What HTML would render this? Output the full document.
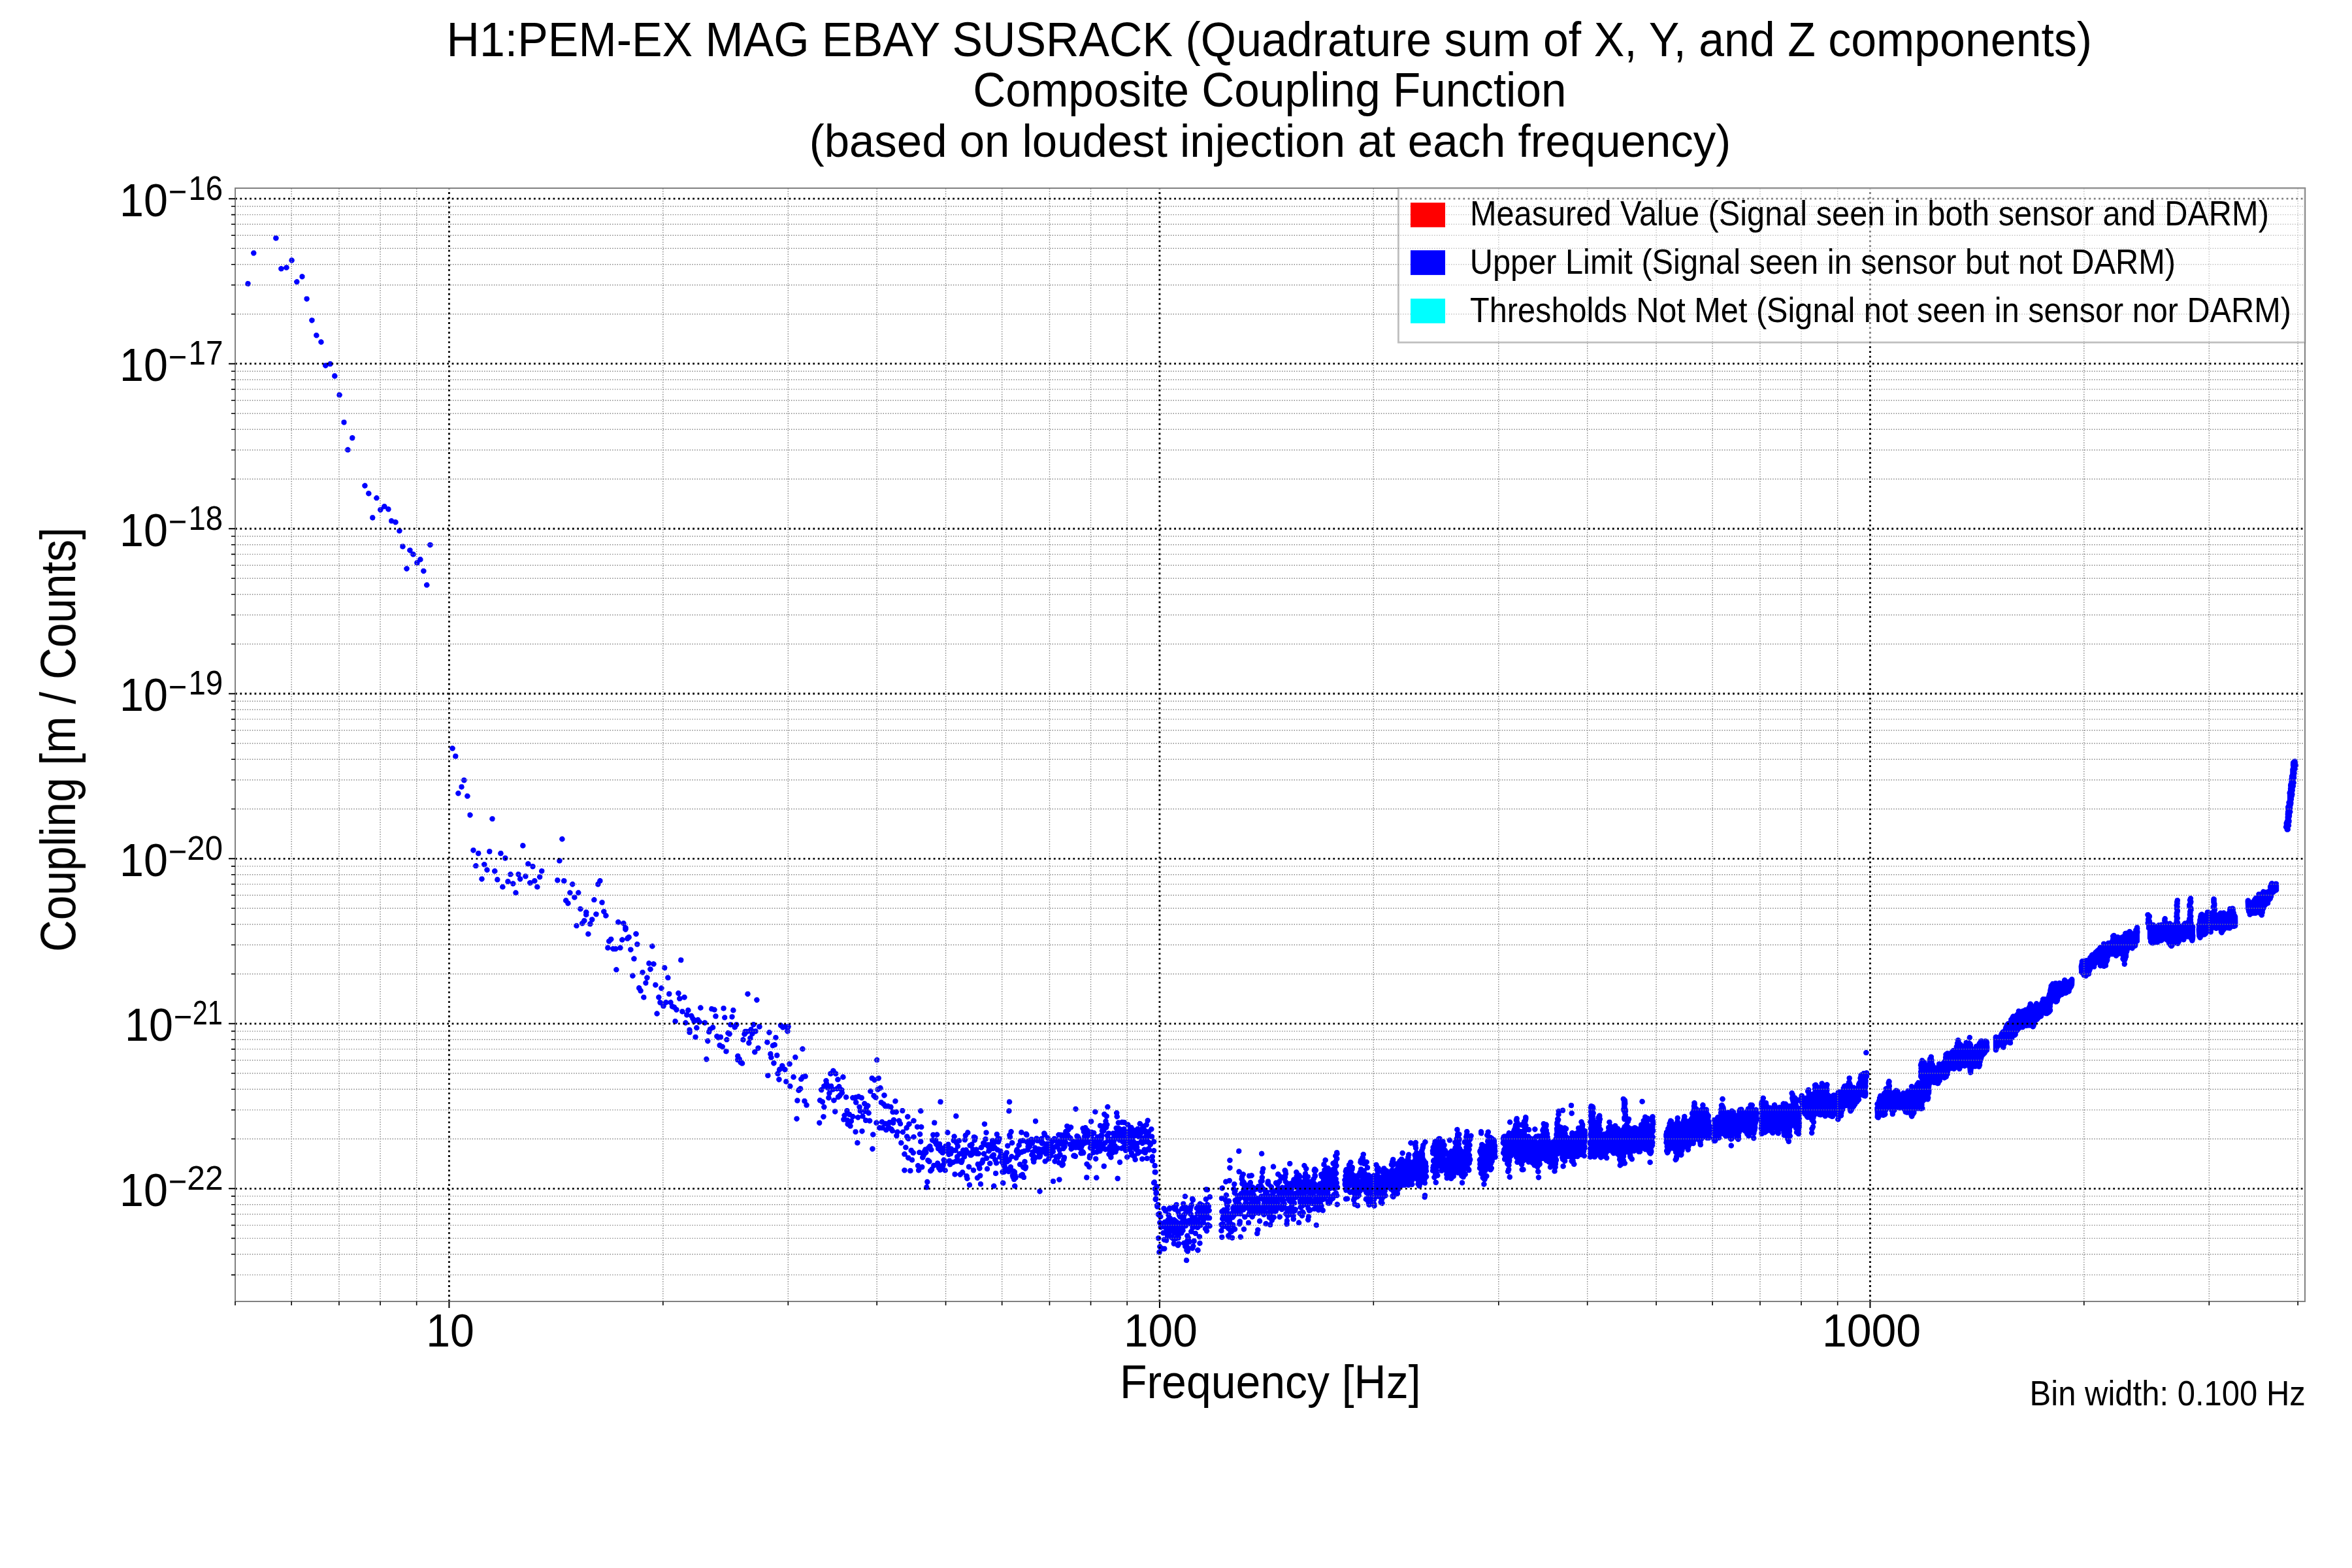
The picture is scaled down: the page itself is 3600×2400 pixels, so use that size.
<!DOCTYPE html><html><head><meta charset="utf-8"><title>Composite Coupling Function</title><style>html,body{margin:0;padding:0;background:#fff;}svg{display:block;}</style></head><body><svg width="3600" height="2400" viewBox="0 0 3600 2400" font-family="Liberation Sans, Arial, Helvetica, sans-serif">
<rect width="3600" height="2400" fill="#fff"/>
<g style="will-change:transform">
<defs><clipPath id="ax"><rect x="360.0" y="288.0" width="3168.0" height="1704.0"/></clipPath></defs>
<g clip-path="url(#ax)"><path d="M1815.2 1924.8l-1.4 0.4l-1.3 1.3l-0.7 3.3l0.7 1.7l1.3 1.3l3.2 0.4l1.2 -0.4l1.6 -1.6l0.4 -1.2l0 -2.2l-2 -2.6zM1774 1904l-2.2 1.8l-0.8 2l0.5 2.4l2.3 2l-1.8 0.8l-1 1l-0.8 1.8l0 1.4l0.6 1.6l1.4 1.4l1 0.6l2.6 0l1.4 -0.8l1.3 -1.5l0.3 -3.5l1 0.5l3.2 0l1.8 -0.7l1.4 -2l0.3 -2l-0.7 -2l-1.8 -1.6l-4.2 0l-2.3 -2.7l-1 -0.5zM1776 1912.5l0.8 -0.3l0.2 0.6l-0.2 0.2zM1835.2 1898.8l-2.7 2.2l-0.3 3l1.6 2.2l1.2 0.8l1.8 0.2l2.7 -1.2l0.7 -1l0.6 -2.5l-1.3 -2.7l-1.7 -1zM1771.8 1891l-2.6 2l-0.4 3l1.7 2.8l2.3 0.7l1.7 -0.3l2 -1.4l0.7 -1.6l0 -2l-1.4 -2.4l-1.8 -0.8zM1868.2 1889.8l-2 2l0 3.7l1.3 1.5l2.7 1l2.8 -1l1.5 -2.8l-0.5 -2.7l-1 -1.3l-1.5 -0.7zM1898 1889l-1.8 0.8l-1 1l-0.7 3l0.7 2l1 1l1.6 0.7l2.2 0l2.2 -1.5l0.8 -1.5l0 -2.5l-2 -2.5zM1926 1878.2l-2.2 0.3l-2 1.5l-0.8 2l0.5 2.8l-1 1l-0.5 1.4l0 1.6l1 2l0.8 0.7l2.2 0.7l2.8 -0.7l1.4 -1.7l0.3 -3l-0.5 -1l1.5 -2l0 -2.6l-0.5 -1l-1.2 -1.2zM1902.8 1877.2l-2.8 2.3l-0.2 3.3l1.4 2l1.3 0.7l1.7 0.3l2.8 -1.3l1 -1.7l0.2 -1.6l-0.4 -1.7l-1.6 -1.7l-1 -0.6zM2014 1871l-2 1l-1.2 1.8l0 3l2 2.2l3 0.5l2.7 -1.7l0.5 -1.3l0 -2.5l-2 -2.5zM1909.8 1867.5l-1.6 0.7l-1.2 1.8l0 3.2l1.2 1.8l1.6 0.8l2.7 0l2.5 -2.3l0.2 -3l-1.7 -2.5l-1 -0.5zM1986.8 1867.2l-2.3 1.8l-0.7 3l0.7 2l1 1l3.3 0.8l1.7 -0.8l1.3 -1.2l0.4 -1l0 -2.6l-2 -2.4l-1 -0.6zM1896.5 1865.5l-2.5 2l-0.5 1.3l0.3 2.4l-0.6 0.8l0 2.5l0.6 1.3l1.4 1.2l1.3 0.5l2 0l2 -1.3l1 -1.4l0.5 -6l-0.5 -1.3l-1.5 -1.5l-1.2 -0.5zM1927 1864.8l-2.5 1.7l-0.7 3l0.7 2l1 1l1.7 0.7l1.6 0l1.4 -0.4l1.6 -1.6l0.4 -1l0 -2.4l-2 -2.6l-1 -0.4zM1957.2 1858.5l-2 1.5l-0.7 3.2l0.7 1.8l1.3 1.2l1 0.6l2.5 0l2.5 -2l0.5 -1l0 -2.6l-0.8 -1.2l-2 -1.5zM2002 1858l-1.2 0.5l-1.8 2.3l-0.2 2l0.4 1.2l-1.2 1.8l0 2.4l2 2.6l1 0.4l2.2 0l1.6 -0.7l1.4 -2l0.3 -2l-0.5 -1.3l1.2 -2l0 -2.2l-2 -2.5l-1 -0.5zM1773.2 1853.5l-3.7 2.7l-0.7 1.3l0 2.5l2.2 2.8l1.2 0.4l0.6 1.6l1 1l1.7 0.7l3 -0.5l2 -2.5l0 -2.5l-1.7 -2.2l-0.3 -3l-1.3 -1.6l-1.4 -0.7zM2046 1839.2l-1.5 0.6l-1.5 1.4l-0.5 3.3l0.5 1.3l1.5 1.4l1.3 0.6l2 0l2.7 -2l0.5 -3l-0.5 -1.6l-1.3 -1.2l-1.7 -0.8zM2064 1830.8l-4.5 0l-2.7 1.4l-0.8 1.3l-0.2 2l0.7 2l1 1l1.5 0.7l2.2 0l3 -0.7l1.6 -1.3l0.7 -2.2l-0.3 -1.8zM1855.5 1829.5l-2.7 -1.7l-2.6 0.2l-2 1.8l-0.7 1.7l-2.7 -0.3l-2.6 1.8l-0.7 2l0.7 3l1 1l2.8 1l-1 0.5l-1 1.5l-4 -2l-1.8 -1.5l-2.7 0l-2.3 1.7l-0.4 1.6l-1.8 1.2l-1 2.5l-1.5 1l-1 2.3l0.5 2.7l2.5 2l-2 2.7l0.3 3.8l-1.8 0l0 -2.8l-2.2 -2.4l1 -1.6l0 -2.7l0.7 -1l0.3 -2l1.2 -2l-0.2 -2.7l-1.3 -1.6l3 -2l0.7 -3l-1.4 -3.4l-1.6 -1.6l-1.2 -0.4l-3.2 0.4l-1.8 2.3l0 3l1.2 2.5l1 1l-1.7 0.8l-1.3 1.2l-0.7 2.8l-0.7 0.7l-3.3 -1.7l-0.3 -3l-1.4 -1.8l-1 -0.5l-2.8 0l-1.5 0.7l-1.3 1.8l-0.2 2.2l1.2 2.6l-1.7 0.7l-1 1l-1 3l-1 -0.3l0 -2l-0.5 -0.7l1.8 -2l0 -3l-1.3 -1.7l-2 -1l-3 0.4l-1.5 1.6l-0.8 2.2l-1.2 0l-2.2 1.8l-1.8 -0.8l-1.5 0l-1.7 0.8l-1.3 1.2l-0.7 2l-0.6 -1.5l-1.4 -1.5l-3 -0.5l-1.8 0.7l-1.2 1.3l-0.6 1.5l0.3 2.5l2.3 2.5l0.4 1.8l1 1l3.3 1l-0.3 3l1.8 2.4l-1.2 1l-1.3 2l-2.7 0.6l-2 2.2l-2.3 -1.8l-2.5 0l-1 0.6l-1.2 1.2l-0.8 2l0.8 3l1.7 1.2l-1 2.8l0.7 2.8l2.6 1.7l2.2 0l1.5 -1l0.7 0l1.6 1l-0.6 0.5l-2 0l-1 0.5l-1.7 2l-0.3 2.3l1 2.2l0.8 0.8l2.2 0.7l2.3 -0.5l0.7 2l-0.2 0.5l-2 -0.3l-1.2 0.6l-1.6 1.4l-0.4 1.3l0 2.3l0.4 1l2.6 2l1.7 0l2.3 1l2 -0.3l1 -0.5l1.4 -2l0 -4l5 4l-1 1l-0.7 1.8l0.5 3l2.5 2l3.3 -0.3l1 1.5l2 1.2l2.4 0l1 -0.4l1.3 -1.3l2 -3.7l1.7 1.7l-0.2 2l0.5 1.5l2 1.8l-0.3 3l0.6 1l2.7 3l1 0.4l2.7 0l1 -0.4l1.6 -1.8l0.4 -3.2l2 1l1.6 0l1.4 -0.6l1.8 -2l0.2 2.6l2 2.4l1 0.6l2.3 0l1.5 -0.8l1.2 -1.2l0.6 -1.6l-0.3 -2.2l-1.5 -2l-1.8 -0.8l-1.7 0l-1.3 0.6l-1.7 2l-0.3 -1.3l1.3 -2l0 -2.3l-1.7 -2.4l2 -1.3l1 -1.7l-0.3 -3.3l-2 -2l-3 -0.3l-3.3 2.6l-0.4 -0.6l0.4 -1.2l0 -2.2l-1.7 -2.6l-0.3 -1.7l-1 -1l0.6 -0.3l1.7 1l1.7 0l1 -0.4l0.8 1.2l2.5 2l3 -0.2l0.5 3l1.5 1.7l2 0.7l2 -0.2l1 -0.5l1.5 -2l0.2 -2.5l-0.4 -1.2l-2.8 -2l-2.2 0l-0.8 0.4l-0.2 -3l-1.6 -2l-1.7 -0.7l-2.7 0.5l-0.6 -1l1.6 -1.2l1.4 0.2l1.8 1l2.2 0l2.6 -2l0.7 -1.5l2 -0.3l1.7 -1.4l0.3 0.4l-0.7 1.6l0 1.4l0.4 1.6l1.6 1.4l0.7 2.3l2.3 1.7l2.4 0l1 -0.4l2 -2.6l0 -2.4l-1.4 -2l3.4 -0.3l2 -1.7l0.6 -1.3l-0.6 -3.3l-5 -3.7l-2.4 0l-1.6 1l-0.7 -2.5l1 -1l1.7 0.5l4.8 -0.3l1.5 -1.2l0.7 -1.5l0 -2.5l-0.4 -1l-1.6 -1.5l-2 -0.5l-0.7 -2.2l0.5 -0.8l2.5 -0.8l1.5 -2.7l-0.2 -2.3l-1.8 -2l1 -1.4l0 -2.8l-3 -4.2l-3 -1.6l1.2 -1l1 -2.2l2.8 0.2l2.5 -1.7l0.7 -2zM1823.5 1903.8l0.3 0.2l-1 1l-1 2.8l-2.3 -2.6l2.7 -0.4zM1825.2 1903l-1.2 1l-0.5 -0.2l1 -1.3zM1801.8 1899.8l0.2 0.2l-1.5 1.5l-1 -1.3zM1797.5 1892l0.3 -0.5l0.7 0.3l-0.7 0.4zM1793 1888.8l0.2 -0.3l0.6 0.5l-0.6 0.2zM1821.5 1877l-0.3 3l0.6 1l-1.3 0.8l-1.3 1.7l-0.2 1.7l0.8 2.3l-4.3 0l-2.3 2.5l0 3l1 1.5l-0.2 2.5l-1.2 1.5l-2.6 0.3l-2.2 2.7l-1.2 -1.3l-1.8 -0.7l-3 0.5l-0.2 -0.2l1.4 -1l1.8 0l1 -0.6l1.5 -1.4l0.5 -1l0 -2.3l-1 -1.7l3 -0.6l2 -1.7l0.5 -2.3l1.7 -1.7l0.6 -1.7l-0.3 -1.8l-0.7 -1.2l3.2 -0.8l1.5 -1.5l0.7 -2zM1844.5 1874.8l0.5 1.2l-2.5 1l-1 1l-0.3 -0.5l0.6 -1.7zM1837.5 1868.8l0.5 -0.3l0.2 0.5l-0.4 0.2zM1832.5 1862l0.7 -0.2l0.3 0.7l-0.5 0.5zM1817 1858.8l4.2 4.2l-0.7 1.2l-2 0l-2.3 1.3l-0.4 -0.5l0 -2.8l1 -1.7zM1811.2 1853.8l0.3 1.2l-1.5 0.8l-1.5 2l-1.3 -1.6l0.3 -2zM1787.8 1854.5l2.7 0.3l1.5 -0.6l1.8 -2l2.2 2.3l1.8 0.5l1 -0.2l1 2.4l1.4 1.3l-0.4 1.5l0.2 1.5l1.8 3.3l1.7 1.7l2 0.3l0.3 0.4l-1.6 1.3l-6.7 -5.5l-1.5 -0.2l-2 0.7l-0.8 -1.5l-1.7 -1.5l0.3 -1.3l-1 -2.4l-2 -1.3l-2 0zM1812.2 1827.2l-2 1.8l-0.4 1l0 2.8l2.2 2.4l3.8 0l2.2 -2.4l0 -3l-2 -2.3l-1.5 -0.5zM2181.5 1825.5l-2 0.3l-1.7 1.2l-0.8 1.2l-0.5 2.8l0 2.2l0.7 1.6l1 1l2 0.7l2 -0.3l1.8 -1.2l1.2 -4l0 -2.2l-0.7 -1.6l-1 -1zM1589.5 1819.5l-2 2l0 3.7l2.3 2.3l2 0.3l1.7 -0.6l2 -2.2l0.3 -2l-0.8 -2l-2.5 -1.8zM1843 1817.8l-1 2l0 1.7l1.5 2.5l1.5 0.8l3.5 0.4l2 -0.7l1.5 -1.7l0.2 -2.8l-0.4 -1.2l-1.6 -1.6l-2.7 -0.7l-2.5 0zM1869.2 1814.5l-2 1.5l-0.7 1.8l0 1.4l0.5 1.6l1.5 1.4l1 0.6l2.5 0l2.5 -2l0.5 -1l0 -2.3l-0.5 -1.3l-1.3 -1.2l-1.7 -0.8zM1552 1811.2l-2.5 2l-0.5 1.3l0 2l1.8 2.5l2.2 0.8l1.8 -0.3l2.2 -2l0.5 -1l0 -2l-1.5 -2.5l-1.8 -0.8zM1520 1811.2l-2.5 2l-0.5 1.3l0 2l1.8 2.5l2.2 0.8l1.8 -0.3l2.2 -2l0.5 -1l0 -2l-1.5 -2.5l-1.8 -0.8zM1482.8 1809.5l-2.8 2.3l-0.2 3l1.4 2.2l1.3 0.8l1.7 0.2l2.8 -1.2l0.8 -1l0.4 -2.6l-1.2 -2.7l-1.8 -1zM1499.5 1808.2l-1.3 0.8l-1.2 1.8l-0.2 2l0.4 1.7l2.6 2l2.7 0l2.5 -2.3l0 -3.7l-2.5 -2.3zM1534.2 1806.5l-1.2 0.5l-1.5 1.5l-0.5 1.3l0 2l2 2.7l3 0.5l1.8 -0.8l1 -1l0.7 -1.7l0 -1.7l-0.5 -1.3l-2 -1.7zM2236.5 1806.2l-1.3 0.8l-1.2 1.8l0 3.2l1.8 2l1 0.5l2.7 0l2.5 -2.3l0 -3.7l-2.5 -2.3zM1765.8 1805.2l-3 2.3l-1 2.7l0.2 1.6l1.2 1.7l1 0.7l2.6 0.6l-0.3 0.7l-2.3 1.7l-0.7 3l1 2.3l1.5 1l-0.8 2.3l0.3 2.2l0.5 1l2 1.5l-2.5 2l-1 2.3l0 2.2l2.3 2.8l3.2 0.4l-3 3.8l0.2 4l2 2.8l3 0.4l1.8 -0.7l1 -1l0.8 -1.7l0 -1.6l0.7 -1.2l-0.3 -2.8l-1.4 -2l-4 -0.7l1.7 -1.5l1 -2.8l-0.7 -3l-1.8 -1.7l2 -1.5l1.2 -2.8l-0.2 -2.2l-2.2 -3l2.7 -2.5l0.5 -3l-0.8 -1.7l-1 -1l-2.7 -1l0.7 -2.6l-1 -2.4l-1.4 -1.3zM1420 1804.8l-1.5 0l-1.7 0.7l-1 1l-0.8 2.3l0.8 2.7l1.7 1.5l-1.7 0.8l-1 1l-0.8 2.7l0.8 2.3l1 1l1.7 0.7l3 -0.5l1.3 -1l0.7 -1.5l-0.3 -3.3l-1.7 -2l2.3 -1.4l0.7 -1.6l0 -2.4l-2 -2.6zM1610.5 1804l-1 0.5l-1.5 2l0 3.3l1.8 2l1 0.4l3 -0.2l1 -0.5l1.2 -1.7l0 -3.3l-0.5 -1l-2 -1.5zM1885.8 1805.5l-1.3 -1.7l-1.5 -0.8l-3.2 0.2l-1.6 1.6l-3.2 -0.3l-1.2 0.7l-1.6 2l0 3l1.3 1.8l2.3 1l2 -0.2l2.2 -1.8l1.5 0.5l1.7 -0.3l2.3 -2l0.5 -1.4zM1620.5 1801.2l-2.5 1.6l-0.8 1.4l0 2.8l2.3 2.5l3 0.3l2.5 -1.8l0.8 -2.5l-1 -2.7l-1.3 -1zM1710.2 1799.5l-2 0.7l-1 1l-0.7 1.8l0 1.8l0.5 1.2l1.5 1.5l1 0.5l2.3 0l1.2 -0.5l1.5 -1.5l0.5 -3l-0.8 -1.8l-1 -1zM1677 1798.5l-2.5 2l-0.5 1.3l0 2l1 1.7l1.8 1.3l3 0l2.2 -2l0.5 -1l0 -2l-1.7 -2.8l-1.3 -0.5zM2353.8 1798l-2.6 2l-0.4 1.2l0 2l1.7 2.6l2 0.7l2 -0.3l2.5 -2.2l0.2 -2.8l-0.4 -1.2l-1.6 -1.5l-1.2 -0.5zM1662.5 1798l-1.7 0.8l-1.3 1.2l-0.5 3.2l0.5 1.3l1.5 1.5l1.2 0.5l2 0l1.3 -0.5l1.5 -1.5l0.5 -3l-0.5 -1.5l-1.5 -1.5zM1502.8 1796l-1.8 -0.8l-3 0.6l-1.5 1.4l-0.5 1.6l-1.2 0l-2 1.2l-1 2l0 1.8l1.4 2.4l2.8 1l2.5 -0.7l1.7 -2.7l1.8 -0.3l2 -1.7l0.5 -3l-0.5 -1.6zM1919 1796.5l-2.8 -1.5l-2.2 0.2l-0.5 0.6l-3 0l-1.3 0.7l-1.2 1.7l0 3l1.5 2l1.5 0.8l6.5 -0.8l2.3 -2.4l0.2 -1.6zM1523 1791.8l-1.8 1l-1 1.2l-0.2 3.2l0.8 1.6l1.2 1l2.8 0.4l2.7 -1.4l1 -2.8l-1 -2.8l-1.5 -1.2zM1457.5 1795.8l0 3.2l1.3 1.8l2.7 1l2.5 -0.8l1.5 -2l2 2.5l1.3 0.5l2 0l2.7 -2l0.5 -1.5l1.5 -0.5l-0.3 3l1 2l0 2l1 1.8l2.3 1.2l1.7 0l2.3 -1.2l1 -1.6l0.3 -1.7l-1 -2.3l0 -2l-0.6 -1.2l-1.4 -1.5l-1.3 -0.5l-2 0l-1 0.5l-0.3 -4l-2.4 -2.3l-2.8 0l-1.5 0.8l-1.3 2.2l-1.7 0.8l-1.7 2l-1.8 -2.2l-1.2 -0.6l-2.6 0l-1.4 0.8zM1765 1790.8l-1.2 1.7l-0.3 1.3l0.5 2.4l0.8 1l3 1.3l2.2 -0.3l1.2 -0.7l1.6 -2.7l-0.3 -2.3l-1 -1.5l-1.7 -1l-3.3 0zM1392.2 1787.8l-1.7 1l-1 1.2l-0.3 3.2l0.8 1.6l1.2 1l2.8 0.4l2.8 -1.4l1 -2.8l-1 -2.8l-1.6 -1.2zM1384 1787l-2 0.8l-1.8 2.2l0 2.5l2.3 2.7l3 0.3l2.5 -1.7l0.8 -1.8l0 -1.2l-0.8 -2l-1 -1zM1509.8 1785l-2 1.2l-1 2.6l0.4 2.4l2 1.8l3.3 0.2l2.5 -2.2l0.2 -3l-1.7 -2.5l-2.3 -0.7zM1882 1783.2l-2 0.8l-1.2 1.2l-0.6 1.3l0 2.3l2 2.4l1 0.6l2.3 0l2.7 -2l0.6 -3l-0.8 -1.8l-1 -1zM1479.5 1783.5l-0.7 1.7l0.4 3l2.6 2l2.4 0l1.8 -1.2l-0.2 3.2l2 2.8l3 0.5l1.7 -0.7l1 -1l0.7 -1.8l-0.4 -3l-2.8 -2l-2 0l-1.8 1l0 -3l-0.4 -1.2l-1.3 -1.3l-1.7 -0.7l-1.3 0l-2 0.7zM1948 1781.5l-1.2 0.5l-1.6 1.5l-0.4 3l0.7 1.7l1 1l1.7 0.8l1.6 0l1.4 -0.5l1.6 -1.5l0.4 -1.2l0 -2.3l-2 -2.5l-1 -0.5zM1689.2 1780.8l-2 0.7l-1.2 1.3l-0.5 3.2l0.5 1.2l1.5 1.6l1 0.4l2.3 0l1.2 -0.4l1.5 -1.6l0.5 -3l-0.5 -1.4l-1.3 -1.3l-1.7 -0.7zM1404 1780l-2.5 1.8l-0.7 2l0.4 2.4l2 1.8l-1.2 2l0 2.5l1 1.7l1.8 1l1.7 0.3l2.7 -1.3l1 -1.7l0.3 -2l1.7 0l1.8 -0.7l1.2 -1.8l0.3 -2.5l-0.7 -1.7l-2 -1.6l-1.8 -0.2l-1.8 0.8l-2.2 -2.6zM1660.8 1778.5l-1.3 1.7l-0.3 1.3l0.8 2.7l3 2l0.5 2l1.5 1.6l3 0.4l2 -1l1.5 -2.7l-0.7 -3l-3 -2l-0.3 -1.5l-1.7 -2l-2.8 -0.5zM1973 1777l-1.5 0.8l-1.3 1.7l0 3.3l1.3 1.7l1.5 0.7l2.8 0l2.4 -2.2l0.3 -3l-1.7 -2.5l-1 -0.5zM1514 1776.5l-2.5 2l-0.5 1l0 2.3l0.5 1.2l1.5 1.5l3 0.5l1.8 -0.8l1 -1l0.7 -1.7l0 -1.5l-0.5 -1.5l-2 -1.7zM2524.8 1774.8l-2 1l-1.3 1.7l0 3l2.3 2.5l3 0.2l2.4 -1.7l0.6 -1l0 -2.7l-2 -2.6zM1712.8 1774.8l-2.6 2l-0.4 3l1.7 2.7l2.3 0.7l1.7 -0.2l2 -1.5l0.7 -1.5l0 -2l-1.4 -2.5l-1.8 -0.7zM1568.5 1773.8l-1.5 0.2l-1.8 1.2l-0.7 1.3l-0.5 2.5l-2 -1l-3 0.5l-2 2.5l0 2.2l0.5 1.3l1.5 1.5l2.8 0.5l1 2.5l1.7 1.5l1 0.3l2.5 2l2.5 0l2.5 -2l1.2 -3.6l0 -1.7l-0.4 -1.5l-1.6 -1.5l-1.4 -0.5l2 -2.8l-0.3 -3l-1.5 -1.7zM1565.2 1781.2l0.3 -0.2l1.3 1l-1 0.2zM1882 1771.8l-2 0.7l-1 1l-0.8 1.5l0 2.2l2.3 2.8l3 0.2l2.7 -2l0.6 -3l-0.8 -1.7l-1 -1zM1417.8 1772.5l-1 1l-0.8 2.3l0.8 2.7l3 2.7l1.7 0.8l2.5 -0.2l1.8 -1.3l0.7 -1.5l0 -2.5l-0.5 -1l-3.5 -3.3l-3 -0.4zM1675.2 1769.8l-2 2l0 3.7l2.6 2.3l1.7 0.2l1.7 -0.5l1.8 -1.7l0.5 -1.8l-0.7 -2.8l-2.6 -1.7zM1744.2 1772l0 3.8l1.3 1.4l2.5 1l1.8 -0.2l2.4 -2.2l1.6 1.2l3 0.2l1.7 -1l1 -1.2l0 2l0.7 2l1.8 1.5l3 0.5l-1.5 2l0 2.5l0.7 1.5l1.8 1.2l2.2 0.3l1.6 -0.5l1.4 -1.2l0.8 -2.3l-0.8 -2.7l-1.7 -1.6l-3 -0.4l1.5 -2l0 -2.6l-1.2 -1.7l1.2 -2l0 -2.3l-1.5 -2.2l-1.5 -0.8l-3 0.3l-2.2 2.3l-0.6 2l-1.4 -1.6l-2.6 -0.4l-2 0.7l-1.4 1.7l-2.3 -1.4l-2.5 0zM1760.2 1772.8l0.6 0.7l-0.8 1.3l-0.2 -1zM1641.5 1765l-2.3 2.8l0 2.2l0.8 1.5l1 1l3.8 1.5l2.4 0l1.6 -0.8l1.4 -2.7l-0.2 -2.3l-0.8 -1.2l-3 -2.2l-2 -0.3zM1380.8 1764.2l-0.6 1l0 2.3l0.6 1.3l1.4 1.4l1.6 0.6l2.2 -0.3l0 3l1.8 2.3l2 0.7l1.7 -0.3l1.7 2.6l2.8 1l2.8 -1l1 -1.3l0.4 -2.5l-1 -2.5l-2 -1.3l-2.7 0.3l-0.7 -1.7l-1.8 -1.6l-3.2 0l-0.3 -3.2l-1.5 -2l-1.5 -0.8l-2.3 0zM1930.8 1761.5l-2 0.7l-1.6 1.8l-0.2 3.2l2.2 2.6l3 0.2l2.6 -1.8l0.7 -2.4l-1.3 -3l-1 -0.8zM2145.8 1760.8l-1.3 0.4l-1.5 1.6l-0.5 1l0 2.4l2 2.6l1.3 0.4l2 0l2.4 -1.7l0.8 -3l-0.8 -2l-1.7 -1.5zM2050 1762l-1.2 -1.2l-1.8 -0.8l-3 0.5l-1.5 1.5l-0.5 1.5l0.2 2l-1.4 1.3l-0.8 2l0.2 2l1.8 2.2l0 1.2l-2 2.3l-1.2 0.3l-1.8 1.4l-0.8 2l0.8 3l1 1l1.8 0.8l-0.8 1.2l-2.2 0.8l-0.8 -1.5l-1.8 -1.5l-3.7 -0.2l0.3 -1.3l-1 -2.5l2.4 -1.8l0.8 -2.2l-0.2 -1.8l-1 -1.4l-2.3 -1.3l-1.7 0l-1.3 0.5l-1.5 1.5l-0.5 1l0 2.5l0.5 1.2l-1.8 1l-0.7 1.3l-0.3 3.3l1 1.7l2.8 1.3l-2.2 1.7l-0.6 1.5l0.3 2.5l-1.5 1l-2 0.5l-1.5 1.5l-0.5 1.3l0 2.2l0.8 1.2l0.2 2l0.5 1l2.3 1.8l0.2 1.5l-1.2 1.3l-2.8 0.4l-1.8 2.3l-2.7 -3l1.3 -1.7l0 -1.6l1.4 -1.2l1 -2.8l-0.4 -2.4l-1.6 -2.3l1.3 -0.7l1.5 -2.6l0 -1.7l-0.8 -1.7l-2.4 -2.6l-1.8 -0.7l-2.2 0.3l-2 1.4l-1.3 3.6l0.3 2.4l2 2.3l-1.6 3l0.6 2l-1.8 1.5l-0.8 2.5l-1.7 0.5l-0.3 -0.2l1.8 -2l0 -3l-1.2 -1.8l-2.6 -1l-0.2 -2.2l-1.2 -1.6l2.4 -2.4l0.3 -2.8l-0.5 -1.2l-2.2 -2l-0.6 -2.8l-2.7 -2l-2.3 0l-1 0.5l-1.4 1.5l-0.6 1.2l0.3 2.8l2.5 2.2l0.2 2.3l1.6 2l-1.6 0.7l-1.2 2l-0.2 1.8l0.4 1.2l-1 1l-1.2 -2.4l-1.2 -1.3l-2.3 -1l0 -1.5l-2 -2.5l-1.7 -0.5l-2 0.2l-1.3 0.8l-1.3 1.8l0 3l1.6 2l-1 1l-0.3 2.4l-2 0.6l-1.3 1l-1 1.7l0 2.3l-1.7 1l-2.5 0l-2 -2.8l1.2 -2l0 -2.2l-0.4 -1l1.2 -1.6l0.2 -2.4l-0.7 -1.6l0 -2.7l-1 -2.3l-1.5 -1.4l-1.2 -0.6l-2 0l-1.3 0.6l-1.5 1.4l-0.5 1.3l0 2l1.5 3l-0.2 2l-0.6 0.5l-2.4 -1l-1 -2.2l-2 -1.6l-2 -0.2l-2 0.8l-1 1l-0.8 1.7l0.2 2.5l1.8 2l2 0.5l1 2.5l0.5 0.2l-1.7 0.8l-1.3 1.5l-1.7 -0.3l-2.3 0.8l-1.5 2l-0.2 2.5l0.4 1.3l4 4.2l-2.2 1.8l-1.5 0.2l0.5 -1l0 -2.5l-0.5 -1l-1.5 -1.5l-2.2 -0.8l-0.8 -2.4l0 -2.6l-1 -2l-1.8 -1l-2.4 0l-2 1l-1 2l-0.6 4.3l1.6 3l1.4 1.5l2.3 0.8l0.3 1.4l1.4 2l-1 1.8l-1.4 -1.2l-2.8 -0.6l-0.2 -2l-1.6 -1.7l-1.4 -0.7l-0.6 -2.3l-1.7 -1.5l2.7 -2l0.6 -1.5l0 -1.5l-0.8 -2l1 -1.8l0 -2.2l-0.5 -1l-2 -1.8l1.5 -1l1.2 -1.7l0.3 -1.7l-0.5 -1.6l1.2 -1.7l0.3 -2l-0.7 -2l-1.8 -1.5l-3 -0.2l-2.8 2.2l0 4l-1.2 1.8l0 2.4l0.8 1.6l1.4 1.2l-2 1.8l-0.4 1l-0.3 2l0.7 1.7l-2 1.5l-0.7 1.8l0.5 3l1 1l-2.2 0.2l-1.6 0.8l-1.7 2.7l-2 -2l-2.3 -0.7l0.8 -1.3l0 -2.7l-2 -2.6l-1.5 -0.4l-2.7 0.4l-2 2.3l0 1.3l-1.3 0.4l-1.3 -3l-1.2 -1l-1.2 -2l0.4 -3.2l1.8 -2.2l-0.2 -3.3l-2.8 -2.3l-3 0.3l-0.5 -2l-2.5 -2.3l-2.8 0l-1.4 0.8l-1.6 2.5l0.6 3l1 1.3l1.4 0.7l3.3 0l-1.7 2.7l0.2 2.6l-0.5 0.7l0 2.5l1.5 2l0 1.2l-0.8 1.3l0 2.5l1.3 2l2.5 1.2l-1.8 4.8l0.3 1.8l-2.7 1l-1.3 2l-1.3 0.7l-0.2 -1.5l0.8 -1.8l-0.3 -2l-3.7 -4.7l0.7 -0.3l1.7 -2l0.3 -3l-0.5 -1l-2.5 -2l-3 0.3l-2 1.7l-0.5 3l0.8 1.8l1 1l-2.3 1.8l-0.5 1l0 2.4l1.8 2.3l-0.3 3.5l0.5 1l1.5 1.5l2.7 0.7l0.3 2.6l-2 0.7l-1.5 1.5l-0.5 1.2l0 1.8l1.5 3.2l0 1.6l-1.8 0.7l-3 4l0 2.5l1 3l-1.7 1.2l-1 -0.4l0.7 -0.8l0.6 -1.8l-0.8 -3l1 -1.7l0 -2.3l-1 -1.4l1.5 -0.8l1.5 -1.8l0.2 -3l-1.7 -2.4l-2.3 -0.8l-2.2 0.2l-0.8 -0.7l1.6 -1l1.2 -1.7l0.2 -1.8l-0.7 -2.2l-2.7 -1.8l-2.6 0.2l-2 1.8l-0.7 3.8l-1.5 -0.8l-2.2 0l-2.6 2l-0.4 1.2l0.2 2.8l1.5 1.8l2 0.7l2.3 -0.5l0.7 1.8l1.5 1.2l-0.5 1l0 2.2l1.7 3.6l-3.7 0.2l-2.3 2.2l-1.2 0.6l-1.8 2.2l0 2.8l0.6 1l2 1.7l-0.8 2.5l0.2 1.5l-1.2 1.7l0 2.3l0.8 1.5l2 1.5l-2.6 1.3l-2 2.4l0.3 3l2.7 3l-2.4 2.3l-0.6 1l0 2.3l0.6 1.2l1.2 1.2l2 0.8l3 -0.8l1 -1l0.8 -2l-0.8 -2.7l2 -0.7l2.8 3l1.7 0.7l0.3 2.5l-2 0.8l-1.8 2.4l0 2.3l0.8 1.5l2.4 2.8l1.3 0.4l2.3 0l2 1.6l2.2 0l1.5 -0.8l1.3 -1.2l0.4 -1.6l0 -1.4l-0.7 -1.8l-2 -1.5l-2.5 0l-0.8 -0.7l2.8 -1l2.8 -3.3l0.4 0.3l2.3 -0.8l1.7 -2.2l0 -2.6l-1.7 -2.4l-1.7 -0.8l0.4 -1l0 -2.5l-0.4 -1l-1.6 -1.5l-2.4 -0.5l-0.8 -0.7l0 -2l3.2 -1l4 -5.6l0.8 0.6l2.8 -0.3l1 0.5l1.7 0l1.5 -0.8l0 1.8l0.8 2.2l1 1l2 0.8l2.7 -0.5l1.3 -1l1 -2.7l2.4 0.4l2.3 3l3 0.6l2.7 -1.8l0.8 -2l-0.2 -1.2l1.2 -0.6l1.5 -1.4l1.7 1l1.8 0.2l1.2 -0.2l1.8 -1.6l0.8 2l2.4 2l2.3 0l1.3 -0.4l1.4 -1.6l0.6 -1.2l0 4.8l1 1.7l2.7 1.3l0.3 1.4l0.7 1l-2 1l-1.7 -2l-1 -0.4l-3 0.2l-2.3 2.5l0 3l0.5 1l2 1.5l2.2 0.2l2 -0.7l2 2l3 0.3l1.8 -0.8l1 -1.2l0.5 -2.8l-0.7 -2l2 -1.2l1 -1.6l0.2 -1.7l2.2 -1.7l0.8 -1.6l0 -2l-1.5 -2.4l-1.7 -0.8l-2.3 0l-0.3 -0.5l1 -0.7l3 0.4l3.3 -1.2l1 -1.2l0.5 -2.3l1 -0.7l1.8 2l1.4 0.4l2.6 -0.2l2.2 -2l0.8 0.8l-2 1.4l-0.8 3.3l0.8 1.7l2 1.8l0.2 1l1.5 1.5l-1.5 0.7l-1 1.6l-0.2 3.2l0.4 0.8l-0.7 1.2l-0.3 2l0.8 2l1.2 1.2l1.6 0.6l3 -0.6l1.7 -2l0.3 -3l-0.6 -1l1 -2.7l-1 -2.7l-1 -0.8l2.8 -2.5l1 1.3l-0.5 3l0.7 1.7l1 1l3.3 0.7l1.7 -0.7l1 -1l0.8 -1.5l0 -2.2l-1 -1.6l0.8 -1.7l0 -1.5l-1.6 -2.8l1.8 -0.4l1.5 -1.6l0 2.8l0.5 1.2l1 1.3l2 1.3l0.5 1.4l1.3 1.3l1.2 0.5l2.2 0l2.6 -2l0.4 -1l0 -2.2l1.6 -2l0 -2.3l-1.6 -3l-3.2 -2l3.5 -3l1 0.7l-0.3 2.6l1.6 2.2l0.4 2l1.6 1.5l1.2 0.5l2.8 -0.2l2.2 -1.3l1.5 -1.7l1.7 0.7l3 -0.5l1.8 1.8l1.8 0.4l1.7 -0.2l1.5 -1l2.5 1.8l2.5 0l1.5 -0.8l1.3 -1.8l0.2 -2.4l-1 -2l-2 -1.6l0.8 -2l0 -1.4l-0.6 -1.6l-1.2 -1.2l-0.2 -2l2 -0.2l1.7 -1.3l0.7 4.5l1.6 2l1.7 0.8l3.7 -0.3l2.3 -1.7l0.7 -2l-0.2 -0.8l0.8 -0.8l0.2 -1.2l2.2 -1.2l1.6 -1.6l0.4 -2.2l3.8 -0.2l2 -1.8l0.5 -1.5l0 -1.5l-1.5 -2.5l0 -1.5l-0.8 -1.5l-1.2 -1l-1.8 -0.5l0.6 -0.5l1.7 0.3l2 -0.8l1.7 -2.5l0 -2l-0.4 -1.3l-1.8 -1.7l0.8 -0.7l0.4 -2.8l-1 -2.2l-1 -0.8l0.6 -1.2l0 -2.6l-0.6 -1l-2 -1.7l2.6 -2.3l0.7 -2.2l-0.3 -1.8l-1.7 -2l-0.5 -3l0.2 -1l1.8 -1.4l0.8 -2.3l-0.3 -1.7l-1.7 -2.6l0.4 -1l0 -2l1.6 -1.2l0.7 -1.8l-0.5 -3l-1.5 -1.4l1.7 -1.8l0.6 -1.5zM1884.2 1878.5l0.6 -0.3l0.2 0.6l-0.5 0.2zM1875.8 1871.2l1.4 0.6l-0.7 1.2l-1 -1zM1873 1869.2l1 -0.2l0.2 0.8l-0.2 0.2zM1909.2 1853.5l-2 5.3l-3 -0.3l-1.2 0.7l-0.5 -0.2l0 -3.2l1.5 0l1.8 -0.8l1.7 -2.5zM1939 1852.5l0.5 -0.3l0.3 0.6l-0.3 0.2zM1990.5 1852.2l-0.7 0.8l-1.3 0l-1.5 0.8l-1 1.2l-0.2 -0.2l1 -2.6l0.2 -2.2l1.5 1.5zM2005.2 1846.5l0.8 -1.3l1.2 0.8l3.3 0l-2.3 2l-0.2 0.8l-1.5 -0.8zM1959.8 1840.5l0.7 1.3l-0.3 0.4l-0.7 -0.7zM1968.5 1838.2l1.3 1l0.2 1l1.2 1.6l2 1l-0.4 2.4l-0.6 0.6l-2 0.2l-1.4 -0.5l1 -2.5l0 -1.8l-0.6 -1.4l-1 -1zM1929.8 1838.2l1.7 1.6l-1 2.7l0.5 1.7l-0.2 0.6l-1.6 -1.6l0.8 -2l-0.5 -2.2zM1911.5 1838l0.3 1l-0.6 0.5l-0.2 -0.7zM1957.8 1838l0.2 -0.2l0.2 0.4l-0.2 0.3zM1985.8 1836.2l0.4 0.3l-0.4 1.3l0.4 4l0.8 1.4l1.2 1l-1.4 1.6l-0.6 3.2l-2.2 -2l-3.2 -0.2l0.7 -1.6l2 -0.4l1.5 -2l0 -3.3l-2 -2.3zM1901.8 1836.2l1.2 1.6l0.2 1.7l-1.2 1.7l-0.5 2.3l-1 -2.7l-1.7 -1.6l1.2 -1.2l0.2 -1zM2031.2 1834.2l0.6 -0.2l0.2 0.5l-0.5 0.3zM1987.2 1834.5l0.6 -0.5l0.4 0.2l-0.4 0.6zM2009.2 1833.8l0.6 -0.6l0.2 0.3l-0.2 0.5zM1967.5 1833.2l0.3 1l-0.6 0.6l-0.4 -0.8zM1874 1832.8l0.2 -0.3l0.6 0.5l-0.6 0.2zM2000 1829l0.5 -0.8l0.3 0.6l-0.6 0.4zM2014.2 1827.2l0.6 0.8l-0.3 0.8l-0.7 -0.3zM1953.5 1826.8l0.7 1.4l-2 0.6l-0.2 -0.6zM1943.2 1824.8l1.3 1.2l-0.7 1.2l-0.8 -1.7zM1921.2 1825l3.8 -1.5l2.2 2.5l3 0.2l2.6 -2l0.4 0.3l-0.4 2.7l-1.3 -0.4l-2.3 0.2l-2 1.5l-0.7 1.7l-3 -0.2l-0.3 -2zM2041.5 1823l0 1l-1.7 0.8l-1.8 1.7l-0.5 1.5l-1.5 -0.8l0.5 -1.2l-0.5 -3l1.2 0l1.8 -1zM1911.2 1821l0.3 -0.5l1.3 0.3l-1 1zM1983.5 1818.2l0.5 2.6l-0.5 1.2l-3 1.2l-0.3 -0.2l0.8 -1.8l-0.5 -2.7l1.5 -0.5zM1963.5 1806.8l0.3 3.7l2.7 2.5l-1.3 1.5l-1.4 -1l-2.3 0l-2.7 2l-0.3 -0.3l1 -1.2l0.3 -1.2l2.2 -2l0.5 -1.8l-0.3 -1.5zM1993 1803l0.5 0.2l0.3 2.3l-1.8 -0.7zM1895.5 1757.8l-1.5 0.4l-1.5 1.6l-0.5 3.2l0.5 1.2l1.5 1.6l3.2 0.4l2.8 -2l0.5 -3l-0.5 -1.4l-1.2 -1.3l-1.6 -0.7zM1392.8 1756.8l-2.3 2.7l0 2.5l0.7 1.5l2.6 1.7l0.4 1.8l1.8 1.5l3 0.3l1 -0.6l2 -2.4l0 -2.6l-0.5 -1l-1.5 -1.4l-1.2 -0.6l-0.3 -1.4l-2 -2zM1334.8 1754.2l-1.6 0.6l-1.4 1.4l-0.6 1.3l0 2.3l2 2.4l1 0.6l2.3 0l2.7 -2l0.6 -3l-0.8 -1.8l-1 -1l-1.8 -0.8zM1385.5 1752l-2 1l-1.3 1.8l0 3l2 2.2l3 0.5l2.8 -1.7l0.5 -1.3l0 -2.5l-2 -2.5zM1425.5 1750.8l-1.5 -0.6l-2.2 0.3l-2 1.5l-0.6 1.2l-1.2 0.8l-0.8 1.5l-1.4 -0.3l-2.3 1l-2.7 5.3l-2.3 -1.7l-2.5 0l-2.8 2.2l-0.2 3l0.8 1.5l2 1.5l3.4 0l-1.2 2.8l0 1.7l0.5 1.3l1.5 1.4l1 0.6l2.2 0l1.3 -0.6l1.5 -1.4l0.5 -2l1 -1.6l0 -1.2l2 -1.2l2 -2.6l0 -2.4l-1 -1.6l0.3 -0.2l2.2 2.5l1.5 0.5l3 -0.5l1.5 -1.5l0.5 -1.2l0 -2.3l-2 -2.5l0 -2.8l-0.5 -1zM2649 1749.2l-1.5 0.6l-1.5 1.4l-0.5 3.3l2 2.7l3 0.6l1.7 -0.8l1 -1l0.8 -1.8l0 -1.4l-0.5 -1.6l-1.3 -1.2l-1.4 -0.8zM1552.8 1746.8l-2.6 -1.8l-3 0.2l-2 2l-0.4 3l-2.8 -0.7l-2.2 0.7l-1 1l-0.8 1.8l0.5 3l2.5 2l2.2 0l1.8 -0.8l1.2 -1.7l0.6 -2.7l1.7 0.7l1.5 0l2.8 -1.7l0.7 -2.3zM1378.5 1745l-1.7 0.8l-1 1l-0.8 2.7l0.8 2.3l1 1l1.7 0.7l1.5 0l2.8 -1.5l0.7 -1.5l0 -2.5l-2 -2.5zM1311.5 1745l-2 1l-1 1.2l-0.3 3.3l0.8 1.5l1.2 1l2.8 0.5l2.8 -1.5l1 -2.8l-0.6 -2l-0.7 -1l-2.3 -1.2zM2185 1745.5l-2.5 -1.7l-2 0l-1.3 0.4l-1.4 1.6l-0.6 1l0 2l-1.7 1l-1.3 1.7l0 3l-0.7 1.3l0 2.2l-1.3 1.8l-0.4 2.2l-1.8 -1.5l1.2 -2l0 -2.5l-0.7 -1.2l0.3 -2l-0.6 -1l1 -2.8l-1 -2.8l-2.2 -1.4l-3 0.2l-2 2l-0.8 -1l-1.7 -0.8l-2.3 0l-1 0.6l-1.4 1.4l-0.6 1.3l0 2l0.6 1l2.2 2l1.8 0.3l2 -0.8l0.4 0.2l0 1.3l0.8 1.5l0 2.8l2.2 2.4l-1 1.6l0 1l-2 1.4l-0.7 1.6l0 2.4l1 1.8l0 3.2l-2.5 1.3l-0.8 -1.7l0.6 -2.3l-0.3 -1.5l1 -1.8l0 -1.7l-1 -2l-2 -1.3l-2.5 0l-2 1.3l-1 2l0.2 2l-1 1.5l0 2.2l-1 1.8l-2.2 -3l-1.5 -0.8l-3.3 0.3l-2 2l0 0.5l-2.2 1.8l-1 2.4l-2 0.3l0.5 -3.5l-1 -2l-2 -1.2l-2.5 0l-1.5 0.7l-1.3 1.7l-0.2 2.3l-1 1.5l0 2.2l-1.5 2.8l0.7 3l2.8 2.2l-1.2 0.8l-1.6 2l-1.7 -1.5l-1.7 -0.5l-0.8 -1.8l-1.5 -1.4l-1.3 -0.6l-3.2 0.6l-1.2 1.2l-0.8 2l-0.5 -2l-2.7 -2.5l-0.3 -2.3l-1.7 -2l-1.3 -0.4l-3.3 0.4l-1.4 1.6l-0.6 3l0.8 1.7l1.5 1.5l-1 2.2l0 2.3l1.3 2l0.2 2l-3.5 -0.3l-2.5 2l-1.8 -2l-1.7 -0.7l-2.5 0.3l-1.5 -1.6l0.5 -1.7l2.8 -0.3l2 -1.7l0.4 -3l-0.4 -1.5l-1.6 -1.5l-2 -0.7l2.6 -2.3l0.2 -3l-0.5 -1l-2.5 -2l-3 0l0.2 -2.5l-0.7 -1.8l1.3 -1.7l0.2 -2.3l-0.5 -1.4l-2 -1.8l-3 -0.2l-2.5 2l-0.5 1l0.3 3l-1.3 1.4l-0.3 2l-1 0.6l-1.2 1.7l-0.8 5l0.6 1.5l2.4 2.5l1.3 0.5l2.3 0l2 1.2l2.2 0l-0.2 2.8l-1.6 0l-1.7 -2l-1.3 -0.5l-2 0l-1.2 0.5l-1.5 1.5l-0.5 1.3l0.2 2.2l-1.2 1.2l-0.8 2.8l-1.2 1l-2.2 -0.2l-1.8 -2l1.5 -2.8l0.5 -5.2l-1.8 -2.6l-2.2 -0.7l1.5 -2.3l0 -2l-0.5 -1.2l-1.5 -1.5l-1.3 -0.5l-2.2 0l-1 0.5l-1.5 1.5l-0.5 2.2l-2 2l-0.2 3l0.7 1.8l-2.3 0.2l-1.4 0.8l-1.3 2l-0.3 2l-0.4 0.5l-0.3 2l1.5 3l-1 1l-0.8 2l0.8 3.3l-1.2 1.2l-0.6 1.2l0 1.8l1 1.8l-0.7 3.7l0.7 3.5l2.3 2.5l-1.5 2.7l0.8 3l1 1l2 0.8l2.2 -0.5l0.8 1.5l2.4 2l2.3 0l1.3 -0.5l1.4 1.3l-2.4 6.4l0.7 3l1.7 1.6l-1 2l0.6 2.7l2 1.7l2.4 0.3l1 1.3l2.8 1l2.5 -0.8l1.5 -1.8l0.2 -3l-1.2 -2l-1.5 -1l-2.3 0l-1.7 -2l1.5 -3l2.5 -0.7l4 -3.7l0.5 -1.3l-0.5 -3.7l1.7 -1.6l0.8 -1.4l1 1.2l0.8 2.8l3.4 2.4l-4 2.8l-0.7 3l0.7 2l3 2l0.6 1l0 2.5l1.2 3l2.5 1.7l2.5 0l2.2 -1.7l0.6 1.3l1.4 1.4l1 0.6l2.3 0l1.5 -0.8l1.2 -1.2l0.6 -1.3l-0.3 -4l-0.5 -1.5l-1.2 -1.2l1.4 -2.6l0.3 -1.7l2 -0.5l1.3 1.5l-1.3 2.5l0 2l0.7 1.5l2.6 2.5l2.7 1l1.5 -0.2l2.5 -2.3l0.3 -3l-1.6 -2.3l0.8 -1.2l0 -1l1.8 -1.8l1.7 -0.4l1.5 -1.3l0.8 -2.5l-1 -2.8l-1.3 -1l1.3 -2.2l0 -2.8l0.7 -0.2l2.5 2.8l1.5 0.4l1.5 2.3l-2 1.7l-0.5 1l-0.3 2l0.8 2l2.2 2.3l3 0.5l1.8 -0.8l1 -1l1 -2.4l4 -1.3l1.2 -1l0.8 -1.5l0 -2.5l-0.8 -1.3l1.8 -2l0 -3.4l0.5 -0.6l2.3 0l1.2 -0.4l2.8 0.2l2 -1.2l1.4 1l2.3 0.2l1.5 -0.5l1 -1l1 0.5l2.5 0l1 -0.5l2 -2.5l0 -2.2l-1.3 -2.3l1.6 -2.3l1.7 1.8l-1.3 2.8l0.3 2l1.7 2.2l0.6 1.8l2 1.4l2.7 0.3l2 -1.3l1 -1.4l0 -1.8l1 -1.8l2.3 1.6l2.4 0l1 -0.6l1.3 -1.2l0.7 -2.5l-1.2 -2.7l0.8 -2.8l2 -1.8l0.4 -1l0 -2.4l-2.2 -3.6l2 -2.4l0.2 -1.6l-0.7 -2l0 -3.2l0.5 -2l-1.2 -2.8l0.4 -1l-0.4 -3.7l-2.3 -2l-0.7 -1.7l-1 -0.8l-0.6 -2.2l0 -5.8l-1 -1.8l0.6 -3.2l1.2 -2.8l-0.2 -1.7l0.7 -1.5l0 -1.8l1.7 -1l1.3 -1.7l0.3 -1.7zM2085.8 1819.8l0.2 -0.3l0.2 0.5l-0.2 0.2zM2069.2 1818.2l0.3 0.6l-1.7 1l-0.8 1l-0.5 -0.6l1.3 -1.7zM2081.8 1803.5l0.2 0.7l-0.5 0.3l-0.3 -0.3zM2112.8 1796.2l1 1.3l-0.6 1l-1.2 -1.3zM2113.5 1789.5l0.3 -0.5l0.4 0.2l-0.4 0.6zM2135.5 1785.2l0.3 0.8l-0.6 1.2l-1.2 1l-1.2 -0.2l1.7 -1.2zM1407.2 1743.5l-2 2l0 3.7l1.3 1.6l2.7 1l2.8 -1l1.5 -2.8l-0.5 -2.8l-1 -1.2l-1.5 -0.8zM1384 1738.8l0.2 2.4l1.8 2.3l0.2 1.3l2.8 2.2l2.5 0l1.7 -1l1.6 -3.5l2.4 2l3 -0.3l2 -1.7l0.6 -1.5l0 -1.5l-0.8 -1.7l-1 -1l-2 -0.8l-3 0.8l-1.5 1.7l-0.5 2.5l-1.5 -1.8l-0.5 -1.7l-1.5 -1.5l-1.3 -0.5l-2.2 0l-1 0.5l-1.5 1.5zM1335.5 1732.2l-2.5 1.6l-0.8 1.2l-0.2 1.8l0.2 1.2l1.3 1.8l2 1l1.5 0l2.8 -1.6l0.7 -1.4l0 -2.6l-2 -2.4zM1407.2 1731.8l-1.2 0.4l-1.5 1.6l-0.5 1l0 2.4l2 2.6l1 0.4l2.2 0l2.6 -1.7l0.7 -3l-1.5 -2.7l-2 -1zM1507.5 1729.8l-2 2l0 3.7l2.5 2.3l3 0l2.2 -2l0.6 -1.6l-0.3 -2.2l-1.3 -1.8l-1.4 -0.7zM1483 1729.5l-2.5 -0.3l-1.5 0.6l-1.2 1.2l-0.8 2.8l-1.5 0.4l-1.5 1.6l-0.5 3.2l1.3 2l-1 0.5l-1 1.7l-0.3 1.6l0.7 2.2l1.8 1.5l3.2 0.3l1 -0.6l1.8 -2.2l0 -2.5l-1 -1.7l1.5 -1.6l0.5 -2.2l1.5 -0.8l1.5 -1.4l0.5 -1.3l-0.3 -2.7zM1449.5 1729.2l-1.3 0.6l-1.7 1.7l-0.3 3.3l0.8 1.4l1.2 1l3 0.6l2.3 -1.3l1 -1.5l0 -3l-2 -2.2l-1 -0.6zM1559.5 1731.2l-0.3 3.3l0.8 1.5l2.8 1.5l1.4 0l2 -1l1.8 3.3l2 1.4l3 0l1 -0.4l1.5 -2l0 -3.3l-1 -2l-2 -1.7l-3 -0.3l-1.7 1.3l-0.8 -2l-2.5 -1.8l-3 0.2zM2278.5 1728.5l-2.3 0.3l-2 1.4l-0.7 1.8l0.3 2l-1 1l-0.8 2l0 1.2l0.8 1.8l1.2 1.2l1.2 0.6l0 1.2l-1.7 1.8l-0.5 1.4l0.2 2.3l1.3 1.7l-0.5 0.3l-1.8 -0.5l-1.7 -1.8l-1.3 -0.4l-3.2 0.4l-1.5 1.6l-0.5 1.4l0.5 3l-1.3 1.8l0 1.8l-1.2 1.4l-0.8 2l0 2.3l3 7l-1.2 0.5l-2.2 3l0 2.5l1 1.7l-0.6 4.3l0.8 2.5l-1 1.5l-0.2 2l0.7 2l2.7 2l-1.2 1.5l-0.2 3l1.4 2.2l2 1l-0.7 1.6l0.3 2.7l4 4l-2 1.7l-0.6 1l0.3 3.3l0.7 1l2.3 1.3l2 0l2.5 -1.8l0.8 -2.2l-0.3 -1.8l-1.5 -1.8l2 -1.7l1.2 -3.5l1.6 -1.2l0.7 -1.6l0 -2.2l-1 -1.8l-1.7 -1.2l-1.8 -0.2l1.8 -1.6l0.7 -1.7l1.7 1.5l1.6 0.5l2.4 -0.3l2 -1.7l1.8 -3.5l0 -2.2l-2.2 -2.8l1.4 -1.8l0.3 -2l1.3 -1.4l0 -3.3l3.2 -0.7l1.8 -2.6l0 -2.2l-1 -2l0.2 -1.5l-0.5 -1.5l1 -2l0 -2l-0.5 -0.8l0 -2.4l-0.5 -1l0.7 -1.3l0 -2.5l-1.4 -3.5l0.4 -1l-0.2 -3.5l-1.2 -2.8l-1 -1l-1.6 -0.4l-1.7 -2l-1 -0.3l-1.3 -1.3l-2.7 -0.7l1.5 -2.5l0 -2.2l-0.5 -1.3l-1.5 -1.5zM1307.5 1728.5l-2 2l0 3.7l2.5 2.3l3 0l2.2 -2l0.6 -1.5l-0.3 -2.2l-1.3 -1.8l-1.4 -0.8zM2266.2 1728l-1.7 0.8l-1.5 2l0 4.4l0.5 1.6l1.5 1.4l3.2 0.6l1.3 -0.6l1.7 -2l0 -5.2l-2 -2.5zM1548.8 1728l-2.3 0l-2.3 1.5l-0.7 1.5l0 2.5l-1.7 1.5l-0.8 2l1.2 5.5l1 1.3l2.8 1l2.5 -0.8l1.5 -1.8l0.2 -3l-0.7 -1.2l0 -1.8l1.5 -1.2l1 -2.8l-1 -2.7zM1317.5 1727.5l-2 2l-0.3 3.3l2.3 2.4l2 0.6l1.3 -0.3l2.2 -1.7l0.8 -2l-0.3 -1.8l-1 -1.8l-1.7 -1zM2247.8 1728.5l-1.3 -0.5l-2.5 0l-2 1.2l-1 2l0.5 3.6l-0.7 1.7l0.2 1l-1 1.5l0 2.2l1.8 2.6l-2.3 0.7l-1.5 1.5l-0.5 1.2l0 1.8l0.7 1.8l1 1l2.6 1l-1.6 2l0 2.7l0.6 1l-1 0.5l-1.6 -1.2l0 -1l-1 -1.8l-1.2 -0.8l1 -2.2l0 -1.5l-1 -2.3l1.8 -3.4l0 -2.6l-2 -2.4l1.4 -1.8l0.3 -2.5l-0.5 -1.5l-1.2 -1.2l-2 -0.8l0.7 -1.5l0 -2.5l-1 -2l-1.7 -1l-1.6 -0.2l-3 1.2l-1 2l0 2.5l2 2.3l-1.2 2.2l0 4.5l-1 1.5l-0.5 2l0.3 1.2l-2.6 2.6l-0.2 -3l-0.8 -1.3l-2.4 -1.5l-3 0.5l-2 2.5l0 2.8l2.2 2.4l3.8 0l2.2 -2.4l0.2 0.2l-0.2 2.2l2.2 4l-1.4 1.6l-0.6 2.7l-0.4 0.5l-2.6 0l-1.2 0.8l-1.2 1.7l-1.3 0.5l-0.5 -0.2l-0.2 -1.8l-2.6 -2.5l1.3 -2l0.3 -2.5l-0.6 -1.5l-1.7 -1.7l0 -3l-1.3 -1.8l-1.4 -0.8l-1.8 0l-0.8 -2.4l-2 -1.8l-3 -0.2l-2 0.7l-2 2l-0.7 1.5l-2.5 0.5l-1.8 1.3l-0.7 1.2l0 2.5l-1 2l0.3 1.7l-1.3 1l-1 1.8l0 2.2l0.5 1l-1.2 1.8l0 2.5l0.4 0.7l-0.2 2.8l1 2l1.8 1.2l2 0.3l1.2 1.7l-3 1.3l-2 3l0 3l0.5 1l1.7 1.3l-2 1.7l-0.4 1l0 2.3l-0.6 0.7l0.3 3l-0.7 2.5l0.2 1.2l1.2 1.8l3 1.2l-0.4 2.6l-1.6 2l0 2.2l0.6 1.2l1.4 1.6l2 0.7l-1.2 1.3l-0.5 1.2l0.3 2.5l1.4 2l3.3 0.7l1.7 -0.7l1.6 -1.7l0.2 -2.8l-0.5 -1.2l-1.5 -1.6l-2 -0.7l1.8 -2.3l2 0l2.2 -2l0.5 -1l0 -2l-1 -1.7l0 -1.7l1.7 1.2l2.8 0l1.8 -1.5l1.2 0.5l-1 1.8l0 1.7l1.2 2.3l-0.4 0.7l-0.3 2.3l0.7 1.7l1.3 1.3l1.3 0.4l2.2 0l1.5 -1l1.7 1.6l3 0.2l2.3 -1.5l1 -2l1.5 -0.5l1.2 -1.2l0.6 -1l0 -3.6l2.4 1l1.6 -0.2l1 3.2l4.4 3.3l3 0l2 -1.5l0.8 -2.5l1.8 -1.3l1 -1.4l0.2 -1.6l-0.8 -2.2l2.8 0.2l1.8 -0.7l1 -1l0.7 -1.7l-0.3 -3l-2 -2.6l-0.7 -1.7l1.7 -0.7l1 -1l0.8 -1.8l-0.2 -2.2l1 -1.3l0.7 -3l-1 -2.7l-1 -0.8l0.7 -1.5l0 -2.5l-2 -2.5l0.3 -2l1.3 -2l0 -2.3l-1 -1.7l2 -2.3l-0.3 -3.2l-2 -2.5l2.3 -2.5l0.4 -1.5l-0.2 -2.3l1.5 -2l0.3 -2.4l-0.8 -1.8l-2 -1.5l-1.8 -0.3l-1.7 0.8l-0.7 -0.2l0.7 -1.8l0 -1.8zM2202 1793.5l0.5 -0.3l0.3 0.8l-0.3 0.2zM2243.8 1792.8l0.2 -0.3l0.8 0.7l-0.6 0.3zM2203 1788.2l0.2 1l-0.7 1l-0.3 -0.4zM2213.2 1770.2l0.3 0.6l-0.5 1.2l-0.2 -1.5zM2348.5 1724.2l-1.3 0.6l-1.4 1.4l-0.6 1l0 2.6l2 2.4l1 0.6l2.3 0l2.5 -1.8l0.8 -3l-1.6 -2.8l-2 -1zM1399.8 1724l0.4 3l2.6 2l2.4 0l1.8 -1.2l1.8 1.2l3 0l1.7 -1.2l1 -2l-0.5 -3l-2.8 -2l-2.2 0l-1.8 1.2l-1.7 -1.2l-3 0l-2 1.4zM1506.5 1716.2l-2 0.8l-1 1l-0.7 1.5l0 2.3l2.2 2.7l3 0.3l2.8 -2l0.4 -3l-0.7 -1.8l-1 -1zM1252.5 1714.8l-1.5 1l-0.8 1.4l-0.2 1.8l0.5 1.8l2 1.7l1.7 0.5l1.6 -0.2l2.4 -2.3l0 -3.7l-2.4 -2.3zM1429.5 1714.2l-1.5 0.6l-1.5 1.4l-0.5 3.3l0.5 1.3l1.5 1.4l3.2 0.6l1.3 -0.6l1.5 -1.4l0.5 -3l-0.5 -1.6l-1.5 -1.4zM2309.8 1713.5l-1.8 1l-1.2 3l0.2 1.5l2.2 2.5l3.3 0.3l2.3 -1.8l0.4 -1l0 -2.5l-1.7 -2.5l-2.3 -0.8zM1669 1712.2l-1.8 1l-1 1.3l-0.2 3.3l0.8 1.4l1.2 1l2.8 0.6l2.7 -1.6l1 -2.7l-1 -2.7l-1.5 -1.3zM1583.8 1712l-1.6 0.8l-1.2 1.7l0 3l1.2 2l2.8 1l1.5 -0.3l2.5 -2.2l0.2 -3l-1.7 -2.5l-1 -0.5zM1337.2 1719.8l1 1.7l1.3 1l2 0.5l2 -0.8l0.5 0.3l-2 2.5l0 2.5l0.5 1l2.5 2l2.2 0l1 -0.5l1.3 0.5l2.5 -0.3l1 2l2.5 1.6l3 -0.6l1.3 -1l0.7 -1.4l1.5 1.2l0.2 1l1.6 1.5l1.2 0.5l2.5 -0.2l1.7 -1.3l0.6 1.5l-1.6 1.8l-0.2 1.2l0.5 2.5l2.3 2l1.7 0.3l2.3 -0.8l1.4 -1.8l0.3 -3l-0.5 -1l1.8 -2.2l1 1.8l2.7 1.2l2.5 -0.5l1 -0.7l1.2 -2.8l-0.7 -2.5l3.3 0l2 -1.3l1 -1.4l0 -2.8l1.4 -0.5l2 -1.7l0.6 -1.6l-0.3 -2.2l0.3 -0.2l2.2 1l3 -0.8l1.5 -2l0.3 -2.5l-0.6 -1.3l-2 -1.7l-3 -0.3l-1 0.6l-2 2.4l0 3l-2 -1l-1.7 0l-1.3 0.6l-1.4 1.4l-0.6 1.3l0 2.3l-2.4 1.2l-1.3 2l0 2.8l0.5 0.7l-4 0.3l-2.2 2.7l-1.6 -2.3l-1.4 -0.7l-2.3 0l-2.3 1.5l-2.4 -4l-1.6 -1.5l-2 -0.5l-1.2 -1.8l1 -0.7l1.2 1l2 0.5l2.8 -1l1.2 -1.8l0 -3.4l0.6 -0.8l1 2.2l1.2 1l-0.2 1.3l1.4 2.7l2.8 1l2.5 -0.7l1.5 -1.7l0.2 -3l-2 -2.8l0.3 -0.8l-0.5 -1.7l-2.8 -2.3l-3 0.3l-2 2l-0.4 -1.3l-2 -2l-3 -0.2l-2.3 1.5l-1 2.5l-2.7 -0.2l-1.6 0.4l-1.7 2l-1 -0.4l-2.5 0l-1.5 -2l-2.3 -0.8l-2.7 0.8l-1 1l-1 2.2l-1.3 -1.8l-1.4 -0.7l-2.6 0l-1.4 0.7l-1.3 1.6zM1354.2 1724.2l2 0l-0.2 0.8l-1 0.5zM1343.8 1722.2l1.4 -1.4l0.8 -1.8l1.8 2l3.4 0.8l-2.4 0.7l-1.8 -0.5l-1.8 0l-0.7 0.5zM1217.5 1708.5l-2 2l-0.3 3.3l2.3 2.4l2 0.6l1.3 -0.3l2.2 -1.7l0.8 -2l-0.3 -1.8l-1 -1.8l-1.7 -1zM1387.8 1705.2l-2 1.6l-0.8 1.7l0 1.5l0.5 1.5l1.5 1.5l1 0.5l2.5 0l2.5 -2l0.5 -1l0 -2.3l-0.5 -1.2l-1.2 -1.2l-1.8 -0.8zM1260 1705l-2 0.8l-1.2 1.2l-0.6 1.2l0 2.3l2 2.5l1 0.5l2.3 0l2.7 -2l0.6 -3l-0.8 -1.7l-1 -1zM1462.5 1704l-1.7 0.8l-1 1l-0.8 3l0.8 2l1 1l1.4 0.7l2.3 0l2.3 -1.5l0.7 -1.5l0 -2.5l-2 -2.5zM1770.5 1747.5l-0.5 -2l-2 -2l-2.2 -0.5l1.4 -2l0 -2.5l-0.4 -1l-1.6 -1.5l-1.4 -0.5l-2.6 0l1 -1.5l0 -1.2l2.3 -0.8l1.5 -1.5l0.5 -1l0 -2.3l-0.5 -1.2l-2.2 -1.8l-3 0l-2 1.6l-0.8 2.2l-1 0.5l-1.5 -0.5l-1.5 -2l2.5 -0.5l2 -1.7l0.5 -2.8l-0.8 -1.8l2 -1.7l0.8 -2.3l-0.2 -1.4l-1 -1.8l-2.8 -1.2l-2.2 0.4l-2 2l-0.3 3.3l0.5 1l-2.2 2.3l-1.6 0l-0.7 -2l-2 -1.8l-3 -0.2l-1 0.4l-2 2.6l0.3 3l1.7 2l-3.3 0.4l-2.2 2.3l-1.5 -1.3l0 -1l-1 -1.4l-1.7 -1l-2 0l-0.8 -2.6l-1.2 -1.2l-1.6 -0.8l-2 0l-1 -2l-1.7 -1.2l-6 -0.5l-2.3 1.3l-1.2 -0.6l-3 0.3l-2 2l-0.5 2.3l1 2.4l2 1.3l-3.5 0.3l-1.2 0.7l-1.3 1.7l0 3l1.7 2l-0.4 0.6l-3 -0.3l-2.3 1.5l-1.3 -1l-3 -0.5l-1.4 0.5l-1.3 1.2l0 -2.2l2.7 -1.2l1.3 -2.8l-0.3 -1.5l1.3 -2l0 -2l-0.5 -1.3l-1.5 -1.4l0 -3.6l-1.5 -1.4l2.5 -2l0.5 -3l-0.8 -1.8l-1 -1l-1.4 -0.5l-2.3 -2.7l-1.7 -0.6l-2 0.3l-1.3 0.7l-1.3 1.8l-0.2 1.2l0.8 2.8l1.7 1.5l1 0.3l1.7 2.2l-1.2 0.8l-1.5 2l-0.3 2l0.8 2l-1.8 1.2l-2.4 -1.2l-2.3 0.2l-1 0.5l-1.5 2l-0.2 2l0.7 2l1.7 1.5l1.8 0.5l-1.2 2.3l0 2.2l1.2 1.8l-1 0.4l-1.8 2l-3.2 0l0.5 -3l-1.5 -2.4l-1.8 -0.8l-1.2 0l-1.5 -1l-2.5 0l-1.2 0.8l-0.8 -1.8l-2.5 -2l-0.5 -2l-1.2 -1.2l-1.6 -0.8l-2.2 0l-1.5 1l-2.3 0l-2.2 1.8l-0.8 2l0.3 2l1.3 1.7l0 3l0.7 1.3l1.7 1.2l-1.4 2.8l0 1.7l0.7 1.5l-0.5 0.5l-3.2 -5.7l-2.6 -1.8l-3 -0.2l-0.7 0.2l-2.3 2.8l0.3 3l2 2.7l-1.3 0.5l-1.2 -0.8l-1.2 0l-0.3 -2.4l-0.7 -1.3l-3.6 -2.7l-0.4 -2l-1.6 -1.6l1.3 -0.4l1.5 -1.6l0.8 -1.7l1.7 -0.5l1 -1l0.7 -1.5l0 -2.3l-0.4 -1l-2.6 -2l-3.2 0.3l-1.5 -1.5l-3 -0.5l-2 1l-1.3 1.7l0 3l2 2.3l-2 0.7l-1.4 1.6l-0.6 1l0 2.7l-8 -0.7l-2.4 2l-0.6 1l0 2.2l1.8 2.5l-0.2 0.3l-2 -1.8l-3 -0.2l-1.6 0.7l-1.7 2.3l-1.3 0.4l-0.4 -2.2l-1.3 -1.8l-3.3 -1l0 -1.4l-1.2 -3.3l-2.2 -1.7l-2 -0.3l-2 0.7l-1.6 2l-0.2 2.3l1.2 3l-2.4 0.3l-2.3 2l-1.3 -1.6l-1.4 -0.7l-2.6 0l-1.4 0.7l-1.6 2.3l-1.7 -1.5l-3 -0.2l-2.5 2l-2.5 0.7l-2 2l-0.7 0l-0.8 -1.5l-1.2 -1l-1.6 -0.5l-6.4 1.3l-2 2.4l0 2.3l0.4 1.3l-2 1.4l-0.7 1.6l0 2.2l0.7 1.2l-1.7 0.8l-1.5 1.5l-1.2 3.5l0 2.2l2.2 3l0 1.8l-1.5 0.8l-2.3 -2.6l-3 -0.2l-2.7 2.2l-0.3 2.8l-0.7 0.5l-0.5 -3.5l1.5 -1.5l0.5 -1.3l-0.2 -2.4l-1.3 -1.8l-1.5 -0.8l-3.2 0.3l-2 2l-0.6 2.5l-1 -1.5l0.3 -2.5l-0.5 -1.2l-1.5 -1.6l-3 -0.4l-1.5 -1.6l-2.2 -0.7l-1 -1.7l-1.8 -1.3l1.5 -1.5l1.5 0.8l2.5 0l1 -0.6l1.7 -2.2l0 -1.8l1.8 -3.4l0 -1.6l-0.8 -1.7l-1 -1l-3 -1l0.8 -1.5l-0.2 -2.5l-1.3 -1.7l-1.5 -0.8l-3.2 0.2l-2 2.3l0 3.3l1.2 1.7l1.5 0.7l-1.3 1.6l-0.4 1.7l-2 -1.7l-3 0l-2.3 2l-0.5 1.2l0.2 2.5l-1 1l-1.2 -0.5l-2.8 0.2l-0.7 -0.4l2.3 -1.3l1 -1.7l-0.3 -3.3l-1.7 -1.7l-3 -0.6l-2 1l-1.3 1.8l-0.3 1.8l0.6 1.4l-1.8 0.8l-1.8 2l-0.2 2.5l0.8 1.5l-1.8 0.5l-2 2l-0.5 2.3l-2.7 -1.6l-3.3 0.8l-1.5 -1l1 -0.8l0.8 -2.2l-0.8 -2.5l2.5 -0.5l2 -1.8l0.5 -1.4l-0.2 -1.8l1 -1.5l-0.3 -3.3l-2.7 -2.2l-2.3 -0.8l-2.7 0.6l-1.3 1l-1 2.7l0.3 1.5l1 1.5l-0.3 2.5l0.5 1.2l-2.2 0.6l-1.6 1.2l-1.7 0.5l-1.5 1.5l-0.5 1.2l0 1.8l0.7 1.8l1 1l3 1l0 3.2l-0.4 0.2l-1.6 -0.7l-1.2 -3l-1.2 -1l-1.6 -0.5l-1.4 0l-1.6 0.8l-2.2 -0.6l-1.8 0.6l-2 2l-0.4 3.2l-1.3 -0.2l-1.7 0.7l-0.6 -0.3l0.6 -1l-0.3 -2.4l2 -0.8l1.7 -2.2l-0.2 -3.3l-1.8 -2l3 -1.7l0.8 -1.3l0.2 -1.7l-1 -2.6l-2.2 -1.4l-3 0.2l-2.2 2.2l-0.6 -0.4l0 -1l1.6 -1.8l0 -2.5l-2 -2.7l-2.6 -0.6l-3 1.6l-1 2.7l1 2.7l-1.7 2.3l0 2.5l0.5 1l1.8 1.8l2.2 0.2l0.5 1.5l1.5 1.5l-0.2 2l0.4 1.2l-2.2 0.8l-1.5 -2l-2.3 -0.8l-1.7 0l1 -1.4l0 -2.3l-1.3 -2l-1.4 -1l-3.3 0.3l-2.5 2.4l-2 0.6l-1 1l-0.8 2l-1.2 -0.6l0.2 -3.2l-0.4 -1.2l-2 -1.8l-3.3 0l-0.5 -3.8l-1 -1.2l-1.8 -0.8l3 -0.7l2 -2.3l0.3 -1.7l-1 -2.5l-2.3 -1.5l-2.2 0l-1.8 1.3l-1.4 -0.8l-2 -0.2l-2 0.7l-1 1l-0.8 1.7l0.5 3l2 1.8l-2 1l-1 1.2l-0.5 1.3l0.2 2.5l1.8 2l2 0.5l2 2.3l0.5 2l2.7 2.2l-0.4 2.2l0.7 2.3l1 1l2 0.7l1.3 2.6l1.7 1l1.7 2.2l3.3 0.8l1.7 -0.8l1.8 -2.2l0.8 0l1 3.7l2 1.5l2.2 0.2l2.2 -1.2l2.3 -0.5l1.5 -1.7l0.2 -2.3l1.6 -1l1.2 0.5l2.5 -0.5l0.3 0.5l-0.3 1.2l-1.5 0.6l-1.5 1.4l-0.5 1l0 2.6l0.8 1.4l-2 1.6l-2.8 0.2l-1 -1.5l-1.5 -0.7l-2.5 0l-1.5 0.7l-1.3 1.5l-0.7 -1.8l-2 -1.7l-3 -0.3l-1 0.6l-2 2.4l0 2.3l1 1.7l0 1.3l-1 1l-0.7 0.3l-0.6 -0.6l0 -1l-1 -1.7l-2.4 -1.3l-2.3 0.3l-1.3 0.7l-1.4 2.8l-2.8 -0.2l-1 0.4l-1.8 2l0 3.3l-1.7 1l-1.3 2l-1.2 0.7l-0.8 1.3l-0.2 2l0.5 1.7l1 1.3l2.7 1l2.6 -0.7l3.4 -4l0 -3.6l2.3 -1.4l1 3.2l1.3 1.2l1 2.3l1.2 1l2 0.5l2.8 -1l0.7 -1l2.3 2.2l3.2 0.3l2.2 -1.7l0.6 -1l0 -2.6l-1.8 -2.4l-2.8 -1l1.6 -1.8l0 -2.8l1 -0.7l1 -1.7l0.4 0.2l-0.2 3.5l0.8 1.5l1.7 1.2l1.3 0.3l2.4 -0.5l1.3 -1l0.7 -1.5l2.3 -0.5l1.7 -1.5l5.3 -0.5l1.7 1.8l3.3 0.4l1.3 -0.4l1.4 -1.6l1.6 -4.4l-0.3 -2l2 -0.8l1.3 -1.5l0.4 -1.3l0 -2.7l1 0.3l1 2l1.6 1.2l3 0.2l2 -0.7l3 -3l1.7 1.3l5 0.2l1.7 -0.8l1.8 -2l1.2 2l1.3 0.8l1.7 0.2l0.3 0.8l-0.5 0.5l-3 0l-1.2 0.7l-1.3 1.6l-0.3 2.4l-1.4 1.8l-3 -0.2l-1.8 0.7l-1.5 3l0.5 2.5l1.5 1.8l0.7 1.7l0 2.3l1 1.4l2 1.3l2.3 0l2.5 -1.7l0.8 -2.6l-0.3 -1.4l-0.7 -0.8l0 -1.8l2.7 -1l2.3 -3l0 -2l1 -1.4l2.2 0.2l1.5 -0.5l1.3 -1.3l1 -3.2l1.2 1.5l3.2 0.7l-0.2 1.6l0.8 2l1 1l0.2 3.2l2 2l2 0.5l2.8 -1l1 -1.3l0.7 -2.2l2.3 2.8l0.4 2.2l2 2.5l0.3 1.7l-2.3 0.8l-2 2.5l0.3 3l1.5 1.7l2 0.8l3 0l2.2 -0.8l1.3 -1.4l2 1.4l2.5 0l1.2 -0.7l0.3 0.5l-0.7 1l0 2.5l0.7 1.3l0 1.2l1.5 2l0.2 2l2 2l3 0.2l1.8 -0.7l1 -1.7l1.5 -1l1 -1.6l0.5 -2.4l1.5 1.4l2.5 0.6l2.2 2.2l3.8 0l2 -2l0 -3.8l-1.8 -2l-0.2 -1.7l-1 -1.7l-1.8 -1l-2.4 0l-3.3 2l-1.7 1.7l-0.6 3l-0.4 -0.5l0.2 -1.8l-1.2 -2.2l0.4 -1.2l-0.2 -2.3l-0.5 -1l-3.3 -2.7l-2.7 -0.6l0.5 -0.7l-0.2 -3.3l-2.3 -2l-2.5 -0.2l-2.5 1.5l-1 2.5l-0.7 -0.8l0 -1.4l-0.8 -1.3l3.2 -1l1.3 -1.7l1.3 -0.6l1.4 -1.4l0.6 -1l0 -2l2.2 -1.3l2 2.5l1.2 0.5l2.8 -0.3l2 -1.7l0.5 -2.7l2.3 -1.8l1 -2.2l2.4 -0.3l2.3 -1.5l1.7 0l2.3 -2l2.5 0.2l2.2 -1.4l0.6 1.4l-1.6 2l0 2.6l0.8 1.4l2.2 1.6l-1 1.7l0 1.7l1 2l-0.2 2l0.5 1.3l2 1.7l2.7 0.3l1.3 -0.5l1.5 -1.5l0.5 -1.3l-0.3 -2.4l1.8 -2.6l0.8 0.6l3.7 0l2 -1.3l1 -1.5l0.7 -2.5l0 -2.3l0.6 -0.4l1.7 2.7l2 0.7l2.3 0l-1 0.8l-1 2.5l-1.6 -0.3l-2 0.8l-1.7 2.2l0 2.6l2.3 2.7l3.7 0l1.7 -1.5l0.8 -2l3 -0.2l1.8 -1.6l0.4 -1l0 -1.7l3 -2l1 1.7l-2.4 2l-0.6 1.6l0.6 3l2.4 2l2.3 0l1.5 -0.8l1.2 2l1.8 0.8l1.2 0l0.8 2.2l1.8 1.5l3 0.3l2 -1.3l2 -2.3l0.4 -2.7l-1.4 -2.7l2.2 -2l1.2 -5l-0.4 -2l-2 -2l-3 -0.3l-1 0.5l-0.3 -2.5l-2 -2.3l1.3 -1.4l2.2 0.4l2 -0.7l3.5 -4.7l0.3 -3.6l0.4 1l2 1.6l-0.7 1.4l0 2.6l2 2.4l1 0.6l2.3 0l3.7 -2.8l0.7 0.5l2.6 0l1.2 -0.5l3.2 1.5l-1 0.7l-1 2l0.6 3l2.4 2l3.6 0l1 -0.4l2 0l1.2 -0.8l1.5 -2.8l-0.3 -2.2l-1.4 -2.5l-2.6 -2l1 -1.5l0 -1l1.6 -2.2l1.4 -0.3l1.3 -1l2.3 0l0.2 0.5l-1.2 3l0 2.2l2 2.6l3.4 0.7l-0.7 1.3l0 2l-2.7 0.2l-1.3 0.8l-1.3 1.7l-0.7 5.3l1.3 2.2l1.4 1l3 0l1.8 -1.2l1 -1.8l0.8 -4.8l1.7 0l2.3 -1.2l1 0.5l2.2 0l2.2 -1.5l3 -0.2l2 -1.8l0.8 -2.5l0.8 0.7l2.4 1l1.8 0l1.5 -0.7l0.7 0.7l-1.7 2l-0.3 1.8l0.8 2.2l2.2 1.8l0 1.5l1 1.7l2.3 1.3l2 0l2 -1.3l1 -1.4l0 -3l-0.7 -1.3l2.7 -1.5l1.5 0.2l2 -0.7l1.5 -1.7l0.3 -3l2 -1.3l1.7 1.3l2.3 0l1 -0.6l0.7 2l1.3 1.3l1.4 0.5l2.6 -0.2l2 -1.8l1 0l0 3l1 2l-0.3 0.2l-2.5 -1.4l-3 0.4l-2 2.6l0 2.4l0.5 1l2.5 2l2.2 0l2.6 -1.7l1 -2.7l0.7 0.7l1.7 0.5l1.3 1.5l0 2.7l1.5 2l1.5 0.8l2.3 0l2.2 -1.5l0.8 -1.5l0 -2.5l-1.8 -2.3l0.5 -2l2.7 0l4 -3.2l2.3 1l1.3 1.2l3.2 0.3l1.5 -0.7l1 -1.3l0.7 -2.5l3 0.2l1.8 -1.2l1.2 1.5l2 1l1.6 0l2.4 -1.3l1.3 -3l-1 -2.7l-2.5 -1.5l-1.8 0l-2.2 1.2l-1.5 -1.7l3 -2.3l0.7 -2.7l1.6 0.3l2.4 -1.3zM1547.2 1795.5l0.6 -0.5l0.2 0.2l-0.2 0.6zM1618.2 1775.5l0.6 -0.3l0.4 0.6l-0.4 0.4zM1527.8 1774l3 1.5l-1.3 2l-0.3 2.3l-0.2 -1.3l-1.5 -2zM1624.5 1770.8l0.3 1.4l-0.8 1.6l0 2.7l-2.8 -1.3l2 -1.4zM1471.2 1769.5l0.8 2.3l-1.8 0.7l-1 1l-0.4 -0.7l0.7 -2.3zM1603.5 1769.5l0.5 -0.5l0.2 0.2l-0.2 0.6zM1614 1766.5l0.2 0.3l-1.4 1.4l-0.6 -1.2zM1584.5 1765.5l0.7 -0.3l1 0.6l0.8 1.7l-0.5 0.5l-2.3 -2zM1735.8 1762.2l2 1l-0.6 2.6l-1 -0.6l-0.2 -1.7l-0.5 -0.5zM1452.8 1761.8l0.2 -0.3l0.2 0.5l-0.2 0.2zM1528 1764.8l0 2.4l-1.5 2l-0.5 2.8l-2 -1.2l1 -1.6l0 -3l-1.2 -1.7l-1.8 -1l-3 0.3l-4.5 4.2l-0.5 2.5l-1.5 -1.5l-2.7 -0.8l0.7 -3.4l2.5 1.2l2 -0.2l2 -1.6l1.2 -2.2l3 0l1.3 -0.8l1.7 2.3l1 0.5l2 0zM1733.5 1760.8l0.5 -0.6l0.8 1l-0.6 0.3zM1617.2 1759l0.6 2.8l1.7 2.2l-1.5 2.5l-2.2 -0.3l-1.6 0.6l-0.2 -0.3l2 -2.7l0 -2.3l-0.8 -1.5zM1677 1758.5l0.2 0.7l-1.4 1l-0.3 -0.2zM1580 1756.2l0.8 2.8l-2.6 1l-0.7 0.8l-0.3 -1.6l2.3 -1.7zM1508.5 1756l1.7 2.2l-1 3l0 1.8l-2 -1.2l-2.2 0l-1.8 1l-1.2 2l-0.5 -1.3l-1.3 -1.3l-2 -1l0.6 -2l1.7 1.3l3 0l2.3 -2l0.7 -2.7zM1622.5 1755.8l0.3 -1l1.7 0.2l-1 1.2zM1724 1755l0.2 -0.8l1 0.3l-1 0.7zM1597.5 1753.8l-0.3 0.4l-1 -0.2zM1581.2 1753.5l0.3 0.3l-1.3 2l-0.2 -1.3zM1728 1752.8l0.2 0.7l-1 0.3l-0.2 -0.3zM1633 1751.8l0.8 1l-0.3 0.7l-0.7 -1zM1756.5 1752.5l0.5 1.3l-0.2 0.7l-1 0.3l-1.8 1.4l-1.2 -0.7l-2.3 0l-1 0.5l-1.5 1.5l-0.8 2.3l-3.4 -1.3l0.7 -2.7l-1 -2.3l1.3 -1.7l1.7 1.7l1.5 0.5l2.2 -0.2l2.3 -2l2.7 -0.3zM1697.2 1750.8l-2.2 2l-0.8 2.4l-2.4 -1l3.4 -2.4l0.8 -2.3zM1615 1749.8l-0.2 1.2l-2 0.8l-0.8 -0.3l2.8 -2zM1568 1749.5l0.5 1l2 1.7l-1 1.6l0 2.4l0.5 0.8l-0.8 0.8l-2.7 0l-2 1.2l-1.3 0l-2 1l-1 -2.8l2 -1l1.3 -1.2l0.5 -1.5l-0.5 -2.7l0.7 -0.8l2.6 0zM1583 1752.5l1.2 -1.7l0.3 -2.3l2 1.5l3.7 0l1.8 3.2l2.5 1l2 0l-2 1.3l-2.7 -0.3l-1.3 -0.7l-2.5 0.3l-1.8 -1.8zM1670.2 1747.8l0.6 -0.3l0.4 0.5l-0.7 0.2zM1687.2 1747l0.3 -0.5l0.7 0.3l-0.4 0.4zM1709 1746.2l0.5 0l1.5 2.3l2 0.7l1.2 -0.2l1.8 2l2 0.8l-1.5 1.4l-2.7 1.3l-1.3 -1l-1.7 -0.3l-0.8 -2l-2 -1.4l1 -2zM1634 1745l0.5 -0.2l2 1.4l2.3 0.6l-0.6 0.7l-1.2 0l-1.8 0.7zM1759.2 1742.2l1.6 1.3l2.4 0.7l-1.2 2l-1.2 -1.2l-1.6 -0.5l0 -1l-0.4 -0.5zM1737.2 1743.5l1 -1.5l1 0l1.3 1.2l1 0.6l2 0l0.3 0.4l-1.6 2.3l-0.7 -0.5l-2.3 0.2zM1668.5 1741.2l0.3 0.8l-0.8 2.2l-0.8 -0.2l-0.2 -0.8l0.2 -1.2zM1619 1741.2l2.2 -0.2l0.8 0.5l-1 1.3zM1598 1741l0.5 -0.2l1 0.4l0.3 2l1.4 2l2.3 0.8l2 -0.5l0 1.3l-3.5 -0.3l-1.8 1l-2.4 -2.3l0.7 -2zM1429 1741.5l2.2 -1.5l2.3 1l-3.5 0.8zM1669.8 1739.5l0.4 0.5l-1.4 1.5l-0.3 -0.5zM1690.5 1739.2l1.5 2l-0.2 2.8l0.4 1l-3 0.8l-0.2 -0.3l1 -1.7l0 -2.3l-0.5 -0.7zM1676 1738l0.2 0.5l-0.7 2.3l-1.5 -1.3zM1700.5 1737.5l1 1.3l-0.3 0.7l-1 0.5l-0.7 -0.2l-0.5 -1zM1723.5 1737.2l0.3 -0.2l0.2 0.5l-0.2 0.3zM1750.8 1735.8l0.2 0.4l-1.2 2.3l-0.8 -1.3zM1692.8 1733.2l0 1.3l-0.8 0.3l-1.5 2l-1 -1.6l1.5 -0.4zM1693 1732.5l0.2 -0.3l0.3 0.6l-0.3 0.2zM1724 1725.2l2.5 0.8l-1.5 3l-1.2 -3.5zM1743 1724.2l2.2 0l0.3 0.6l-1.3 0.4zM1710.2 1722.8l1 -0.3l0.8 0.5l-1 0.2zM1712.2 1722.8l1.8 -0.6l0.8 -0.7l1.7 0.5l2.3 -0.2l1 0.4l2 0l1.7 2.6l-0.5 0.2l-1.8 -1l-1.4 0l-3 1.2l-2.3 -1.7zM2404.8 1699.8l-1.3 0.4l-1.5 1.6l-0.5 1.2l0 2l0.5 1.2l1.5 1.6l1.3 0.4l2 0l2.7 -2l0.5 -3l-0.8 -1.7l-1 -1l-1.4 -0.7zM1708.2 1699.2l-1.2 0.6l-2 2.4l0 2.6l1.2 1.7l-0.7 1.5l0 2.2l2 2.6l1 0.4l2.3 0l2.7 -2l0.5 -1.4l0 -1.6l-1.2 -2.2l0.7 -2.8l-0.3 -1.2l-1.2 -1.8l-1.8 -1zM1674.5 1697.8l-1.5 1.2l-0.8 1.5l0 2.5l0.8 1.5l3 1.5l2.5 -0.5l1.3 -1l1 -2.7l-0.6 -2l-2 -2zM1277 1697.2l-1 0.6l-1.8 2l-0.2 2.2l0.5 1.5l1.3 1.5l2.2 0.8l1.8 -0.3l2.4 -2.3l0.3 -3l-1.5 -2.2l-1.5 -0.8zM1543.2 1696.2l-2.7 2.3l-0.3 3.3l0.8 1.4l1.2 1l3 0.6l2.8 -1.8l0.8 -3l-0.8 -2l-1.8 -1.5zM1408.2 1696.2l-1.7 1l-1 1.3l-0.5 1.7l0.2 1.8l2 2.2l2.8 0.6l2.8 -1.6l0.7 -1.4l0 -2.6l-2.3 -2.7zM1380 1696l-1.5 0.8l-1 1.2l-0.5 3l1.5 2.5l2.7 1l2.6 -0.7l1.2 -1.6l0.5 -3l-1.7 -2.7l-1.3 -0.5zM1644.5 1693.5l-2 2l0 3.7l2.5 2.3l1.8 0.3l1.7 -0.6l1.7 -1.7l0.6 -1.7l-0.8 -2.8l-2.5 -1.8zM1693.8 1690.2l-2 1.8l-0.6 1l0 2.8l2.3 2.4l3.7 0l2.3 -2.4l0 -3l-2 -2.3l-1.5 -0.5zM2404.2 1687.8l-1.4 0.4l-1.6 1.6l-0.4 3.2l0.4 1.2l1.6 1.6l3.2 0.4l1.2 -0.4l1.6 -1.6l0.4 -3l-0.4 -1.4l-1.6 -1.6zM1344.8 1685.5l0 3.7l2 2l1.7 0.3l0.7 1.3l1.8 1.2l0.5 1.5l1.7 1.5l7 0.2l3.3 1.8l-1 1.5l-0.3 2l0.8 2l1.8 1.5l3 0.2l1.4 -0.7l1.3 0.7l2.3 0l2.4 -1.7l0.8 -1.7l0 -1.3l-0.8 -2l-1 -1l-1.7 -0.7l-1.5 0l-2 0.7l-2.5 -1l1 -1.7l0.3 -1.6l-0.6 -1.7l-1.4 -1.7l-1 -0.6l-2.6 0l-1.7 -1.2l-1.3 -0.2l-2.2 0.4l-2.2 -3l-2 -0.4l-1.3 -1.8l-1.5 -0.8l-3.2 0.3zM1544.2 1682.2l-1.7 0.8l-1 1l-0.7 3l0.7 2l1 1l1.7 0.8l1.8 0l1.2 -0.6l1.6 -1.4l0.4 -1l0 -2.6l-2 -2.4zM1438.8 1682.2l-1.6 0.6l-1.4 1.4l-0.6 3.3l0.6 1.3l1.4 1.4l3.3 0.6l1.3 -0.6l1.4 -1.4l0.6 -3l-0.6 -1.6l-1.4 -1.4zM2512.8 1681.8l-1.8 0.7l-1 1l-0.8 2.3l0.3 1.7l1.5 2l1.8 0.7l1.7 0l2.5 -1.4l0.8 -1.6l0 -2.4l-2 -2.6zM1369.2 1681.2l-2.7 2.3l-0.3 3.3l0.8 1.4l1.2 1l3 0.6l2.8 -1.8l0.8 -3l-0.8 -2l-1.8 -1.5zM1229.5 1681.2l-2 2l-0.3 3.3l1.3 2l2.3 1l-0.6 2.5l0.8 2l1 1l1.8 0.8l3 -0.6l1.7 -2l0.3 -3l-2 -2.4l-1.6 -0.8l0.6 -1.8l-0.6 -2l-2 -2zM1219.2 1680.2l-2.7 2.3l-0.3 3.3l0.8 1.4l1.8 1.3l2.2 0.3l1.5 -0.6l1.5 -1.2l0.8 -3l-0.8 -2l-1.8 -1.5zM1252.8 1680.5l-2 2.5l0 2.2l1.7 2.6l2.5 0.7l1.5 1.7l2.5 0.8l-1.8 2l-0.2 1.8l0.8 2l2.2 1.7l1.5 0.3l2.3 -0.8l1.7 -2.2l0 -2.6l-1.7 -2.4l-2.6 -0.8l1.3 -1.2l0.5 -1.3l0 -2l-0.5 -1.3l-1.5 -1.4l-2 -0.6l-2.2 -2l-3 -0.2zM2635.5 1678l-1.3 0.5l-1.4 1.5l-0.6 1.2l0 2l1.8 2.6l1.8 0.7l1.4 0l1.6 -0.5l1.2 -1.2l0.8 -1.6l0 -2l-0.6 -1.2l-1.4 -1.5l-1.3 -0.5zM2533.5 1707.8l-1.5 -2l-2.2 -0.8l-2.8 0.8l-1.5 1.7l-0.5 1.7l-1.2 -1.2l-1.8 -0.5l-2.2 -1.7l-2.3 -0.3l-1.5 0.5l-1.5 1.5l-0.5 1.5l0.2 2.2l-2.2 2l-0.5 1l0.3 3l-2.6 1.3l-1.2 2l0.2 3.7l-1.4 0l-1.8 -1.4l-2.2 -0.8l-2.3 0.2l-1.7 1.3l-2.3 0.3l-2.5 -2l0 -1.6l1.8 -2l0.2 -2.2l1.2 -2l0 -1.8l-0.4 -1.4l-1.6 -1.6l-3.2 -0.7l0 -3l-0.8 -1.7l1 -2l-0.2 -4l-1.2 -2.3l-0.3 -3l1 -2.5l-0.5 -6.5l-0.5 -1.5l-3.5 -3.5l-3 -0.5l-1.5 0.5l-1.3 1.3l-0.7 2l0.3 2l1.2 1.7l0 9.5l-0.8 1.8l0.3 4.2l1.5 2.2l0.8 4l-1.6 2.3l0 4l0.8 2l1 1l1.8 0.7l1.4 0l0.3 0.6l-1.5 1.4l-0.2 1.3l-1.3 0.5l-1.5 1.5l-0.8 3l-1.4 1.5l-1.8 -2.8l-2.5 -1l-0.5 -2.2l-1.5 -1.5l-3 -0.5l-1.7 0.8l-1.3 1.4l-1.5 -1l0.8 -2.7l-1.3 -3l-1.7 -1l-3.3 0.3l-1.3 1l-1 1.7l0 2.5l2.3 2.5l-2 1l-1.3 1.5l-0.2 3l0.8 2.2l-2 2.8l-2 -0.2l-2 1l-0.3 -0.8l1.3 -2l0 -2.2l-2.6 -3.3l0.6 -1l-0.6 -3.5l0.8 -1.2l0 -2.6l1.2 -3l-0.4 -2l-0.8 -1l0.5 -1.7l-0.3 -2.3l-0.7 -1.2l-1.7 -1.2l-1.8 -0.3l-1.8 0.5l-2 2l-0.2 1.2l-1.5 2l-0.3 2.8l-0.7 -1.2l0.5 -1.3l-0.2 -2.7l1 -1.8l0 -2.5l-1.3 -1.7l0 -1.6l1 -1.7l-0.5 -4.5l-2 -2.5l-3.5 -1.5l-1.7 0l-1.6 0.5l-1.4 1.5l-0.8 3.8l0 1.7l0.5 1l-0.5 4.3l0.8 3l-0.8 1.7l0 2.5l0.5 0.8l0.3 3.4l-1.6 3l0 2.3l1.3 1.7l0.3 3l-1.3 4.6l1.5 3.2l-0.5 0.8l0 1.4l-1 1.6l0 2l-0.3 0.2l-0.7 -1l0.7 -2.8l-0.4 -3.7l-1.6 -2l-2.4 -0.7l0.7 -5.6l-0.7 -2.2l-1 -1l-0.3 -2.8l-2.3 -2l-2.4 -0.2l-2.6 1.5l-1 2.5l0.3 1.8l1.3 1.7l0.2 2l-3.5 0.3l-2.3 1.7l-0.4 3.3l1 1.7l-0.3 0.7l-2.3 1.3l-3 -1.5l-1.4 0l-1.8 0.8l-1 1l-1 2.2l0 2.2l0.8 1.8l-1 0.8l-0.3 -0.8l-2 -1.5l0.3 -2.3l-1.3 -2.2l1.5 -1.2l1.2 -2l0 -2.3l-1 -1.7l-4.2 -2.6l-2 0l-1.5 0.8l-1.5 -1.2l-1.5 -0.3l-2 -1.3l0.3 -3l0.7 -0.4l1 -2.8l-0.5 -2l-1.8 -2.2l2 -1.8l0.6 -1.2l-0.6 -3.3l3.8 0.3l1.8 -0.8l1.4 -2.5l-0.2 -2.5l-1.5 -2l-2.3 -0.8l-2.7 0.8l-1.3 1.5l-1.4 -0.7l-1.8 0l-1.5 0.4l-1.3 1.3l-0.7 1.7l0.5 3l-0.8 1.8l0 1.5l1.3 2.3l-2.3 2.4l-0.2 1.8l0.5 2l-1.3 2.5l0 4.7l1 2l-1.4 2l0 2.6l0.4 0.7l-0.2 1.7l0.5 1.8l-1 1.8l-0.3 2.7l0.8 2.3l-1.5 2l-0.3 1.7l-2.4 1l-1 1l-0.6 -1.7l-1 -1.3l0.6 -1.3l0 -1.7l-1 -1.7l0.4 -1.3l0 -2.5l-1.4 -2l0.2 -2.5l-0.5 -1.5l-1.3 -1.2l1.3 -1.8l0.3 -4.8l-2.3 -2.7l-2.7 -0.3l-1.8 -1.2l-2.5 0l-1 0.5l-1.3 1.3l-0.7 2l0.3 2l1.2 2l-2.8 5.2l0 2.2l1.6 2.8l-1.3 1.2l-3.7 -0.4l-1.3 0.7l-2.5 0l-2 1.5l-1 1.8l-1.5 0.7l-1.7 -0.7l-2.3 -3l-1.5 -0.6l-3 0.3l0 -2l0.8 -0.7l2.2 0.7l1.5 -0.3l2 -1.4l0.7 -1.6l0 -2.2l-1 -1.8l-1.7 -1.2l-2.3 -0.2l0.6 -2l-0.3 -1.6l-1.5 -2l1.5 -6.2l0 -3.5l-0.7 -1.7l-2.6 -1.8l-2 0l-1.2 0.5l-1.8 2l-0.2 4l-2 2.5l-0.2 2.2l-2 0.8l-0.6 -0.2l0 -1.3l-1 -2l0.6 -1.3l0 -2l-0.6 -1.2l-1.4 -1.5l-1.3 -0.5l-3.3 0.5l-1.2 1.3l-1.2 3.7l0 2.5l1 1.5l0 1l-1.6 1.5l-1 5.8l-1.2 2l-1.2 3.4l-2.8 -1.2l-1.8 0.2l-1.2 0.8l-1.2 1.8l-0.3 1.7l-1 1l-2 -0.3l-2 0.6l-2.3 1.7l-1.4 4.3l0.7 4.4l-1 2.6l0.3 2l0.4 1l3 2.4l0 1.6l-1.2 1.2l-0.8 1.8l0 2.7l-1.2 1.7l0 2.8l0.5 1l2 1.8l0.7 2.2l-1.2 2l0 2.5l0.8 1.5l1.4 1.2l2.6 0.6l-0.8 1.4l0.5 3l3.3 3.3l-1.6 1.7l-0.2 2l-1 1.8l0 2l0.5 1.2l1.5 1.6l3.2 0.7l-1.2 0.7l-1.2 1.8l-0.3 2.2l0.5 1.6l2.5 2l2.7 0l1.6 -1l1.2 -2l-0.2 -3l-1.6 -1.8l-2.2 -0.8l-1.8 0l2.8 -2l0.5 -2.4l1 -1.8l-0.3 -3l-1.2 -1.2l1 -1l0.8 -2l-0.8 -2.8l0.8 -1.2l0.7 -3.8l-0.5 -2.8l1 -0.4l1.8 -2l0.7 2.7l2 1.7l-1.3 2.6l0 2l0.8 1.4l1 1l1.8 0.8l3 -0.2l0.7 2l2 1.4l-2 2.8l0 2.2l1.5 2.3l1.5 0.7l3 0.3l2.7 -1l1 -1.3l0.6 -1.4l-0.6 -2.8l-1 -1.2l-2.7 -1l1.3 -1l0.7 -2.6l-0.5 -1.4l2.5 -2l0.7 2l1.6 1.4l1.2 0.6l3.2 -0.6l0.8 1l1.5 0.8l0.5 1.8l1.5 1.4l2.7 0.6l2.3 2.2l-1 1l-0.5 1.5l0 1.5l0.8 1.8l2 1.4l2.2 0.3l1.5 -0.5l1.5 -1.5l0.5 -1.3l0 -2.2l-0.5 -1l-2 -1.8l1 -1.2l0.2 -1.2l2.6 -2l1 -1.8l0.2 -1.8l-1.2 -3.4l1.4 -0.8l1.6 0.2l0.7 1.6l1.7 1.4l2 0.3l1 1.3l2.3 1l-1.5 2l-0.2 2.2l0.4 1.5l1.6 1.5l1 0.5l2.4 0l2.3 -1.7l0.5 0.2l-1.2 1.2l-0.6 3l0.6 1.6l1.4 1.4l1.6 0.6l3 -0.6l1.4 -1.4l0.6 -1.3l-0.6 -3.7l1.6 -2l0 -2.3l-0.6 -1l0.8 -1.5l0 -4.2l1.2 -2l-0.2 -3l-1.8 -3.3l3.3 -1.5l0.3 0.5l-0.6 0.7l-0.2 2.3l1 2l0.2 2l4.8 4l-3 1l-1.5 2l0 3l1.5 2l1.5 0.7l2.3 0l2.2 -1.4l0.8 -1.6l0 -2.4l-1.8 -2.3l2.5 -1l1.3 -1.3l0.7 -2l-0.3 -1.7l-0.7 -1l0.3 -0.5l1.4 0.2l1.8 -0.4l0.5 0.4l-1 1.8l0 2.5l2 2.5l1.5 0.8l0.2 1.7l1.3 1.7l2.7 1l2.6 -0.7l1.7 -2.5l0 -2.2l-1.7 -2.6l0 -2l-0.8 -1.4l1 -1l2.2 0.4l1.8 -0.2l1.5 -1l1 -1.8l2.5 0l2.5 2l2.7 0l2.6 -2.2l0.2 -3l-2 -3l1 -1l0 -3.2l0.8 -0.8l0.7 -2.2l0.5 2l0.8 1l-0.6 6l0.8 1.2l-1 1.5l0 2.5l1 1.8l1.5 1l2 0.2l1.7 -0.5l0.8 -0.7l0.8 0l1.2 1l3 0l1.8 -1l2 -2.8l0.7 2.5l2 1.7l1.7 0.6l1.6 -0.3l2.2 -1.7l1 0l2.2 2.4l3 0.3l1.8 -0.7l1.5 -2.8l-0.7 -3.2l-1.8 -1.6l1.2 -2.7l2 -1l3 4l1.8 0.7l1.8 0l1.4 -0.7l1 1l1 0.3l1.3 2l-0.7 3.2l0.7 1.8l1 1l0 1l0.7 1.2l-1.4 2l-0.3 2.2l0.7 1.8l2.3 1.8l2.5 0l4 -3.3l2.2 0.3l1.8 -0.6l1.2 -1l1 -2.7l-0.2 -1.3l-1.5 -2l-0.7 -2.7l-1 -1l1.4 -2.5l-0.2 -3.8l2.2 0l-0.2 2.3l0.8 3.7l2 1.8l0.2 1.2l2.5 2l2.5 0l1.5 -0.7l1.5 -2.3l-0.2 -3l-2.3 -2.4l0 -1.8l-0.5 -1l0.2 -1.5l2.8 0.3l2.5 -1.6l0.7 1.3l1.8 1.3l4.5 0l2.3 -2l0.4 -1.6l-0.2 -1.4l0.8 -0.3l2 1.7l3 0l2.2 4.3l1.8 1.5l2 0.8l2 -0.3l2.2 -2l1.5 -3.7l0 -2.6l-1 -2.7l2.7 -4.5l0 -1.8l-0.4 -1l0.7 -1.4l0 -1.8l-1.5 -3.2l1.5 -2l0.5 -3l-2.2 -4l1.4 -1.6l1 -3l0 -2l-1 -1.7l0.3 -3.3l-0.5 -0.7l0.8 -1l0.7 -2.7l-0.7 -2l0.4 -2.3l-1 -2l0 -2.5l0.6 -1zM2316.8 1770.5l0.2 -0.3l0.2 0.6l-0.2 0.2zM2429.8 1748l0 3.5l0.7 1.5l1.5 1.2l-1.8 1.8l-0.4 1.2l-0.6 -0.4l0.3 -2.8l-1 -1.8l0.3 -2.4zM2354 1743l0.8 0.5l-1 2l-1 -1.3zM2430.5 1737l0.7 1.2l0 3l2 2.6l-1.7 1l-1.5 1.7l-0.5 -3.7l0.7 -1.6zM2326 1725.8l0.8 -0.3l2.2 0.5l0.8 0.8l0 1.2l-3 0zM2524.8 1717l1.2 1.5l-0.5 1.3l-1 -1.6zM2442.5 1713l0.3 -0.2l0.7 1l-0.5 0.2zM2442.2 1712.5l0.3 -0.3l0.3 0.6l-0.3 0.2zM1294.8 1675l-2 0.8l-1 1l-0.8 1.4l0 2.3l0.8 1.5l1.4 1.2l3 0.3l2.8 -2l0.5 -2.5l-1.5 -3zM1315.5 1674.2l-2.5 0l-1.8 1.3l-2.4 0l-1.8 1l-1.5 -0.5l-1.5 0.2l-1.8 1l-1 1.8l-0.2 1.5l0.8 2.3l1.7 1.4l3.5 0.6l-1 1.4l0 2.3l1.5 2.3l2.7 1l2 -0.8l0.6 0.2l-1.3 1.6l-0.3 1.2l0.6 2.5l1.4 1.5l-0.7 3l0.7 2l1 1l3.8 1l-1.8 2.2l-1.4 -1l-2 -0.2l-3.3 1.8l-2 -2.6l-1.5 -0.4l-1.5 0.2l-1.7 -2.8l-2.3 -0.7l0 -3l-1.3 -1.7l-1.4 -0.8l-2.6 0l-2 1.2l-1 1.8l0 2.2l1 1.6l-2.4 0.4l-2.3 2.6l-0.3 1.7l1 2.3l-1.4 1.2l-0.8 2l0.8 3l1 1l1.7 0.8l3 -0.6l0.7 0.8l-0.7 1.5l0 2.3l0.5 1l1.5 1.4l1.7 0.6l1.8 2.2l1.8 0.8l3 -0.6l1.7 -2l0.3 -3l-1.6 -2l2.3 -2l0.5 -1l0 -2.4l-0.8 -1.3l2.8 -2l0.5 1l2.5 2l2.2 0l1.3 -0.5l2 -2.5l1.3 1l2.4 0l-0.2 3.7l1.2 1.8l1.8 1l2.2 0l1.6 -0.8l1.7 1.3l2.3 0.3l2.4 -1.3l1 -1.7l0.3 -1.3l-0.5 -2l-2 -2l-3 -0.3l-1.5 0.8l-1.3 -1l-2.7 -0.5l0 -3.5l-1.7 -2l2.7 0l1.5 2l1.5 0.8l2.3 0l2.2 -1.6l0.8 -1.4l0 -2.6l-2 -2.4l-2.3 -0.8l0.5 -2.5l2 -1.7l0.5 -1.3l0 -2.3l-0.5 -1l-2.5 -2l-2 0l-0.7 -1.4l-2 -1.6l-2.6 -0.2l-1.2 0.5l-1.8 2l-0.2 3l2 2.5l2 0.8l-1 1l-0.5 3l-0.7 0.7l-1.8 -1.7l0.8 -1.3l0 -2.3l-1.3 -2l-1.5 -1l-3.8 0.3l1 -1.5l0.3 -2.2l-1 -2.3l-1.5 -1l1 -1l2.2 0.3l2.3 1.7l2.5 0l1.8 -1l1.2 -2.3l-0.2 -2.4l-1.6 -2l-2.2 -0.8l-1 0.2zM1295.2 1710.5l1.6 -2l2.2 1.5l2 0l1 1.8l-1.2 0.7l-1.6 -1.5l-1.4 -0.5zM1319.2 1704l1.3 -1.2l1.3 1.2zM1352.5 1672.2l-1.3 0.6l-1.4 1.4l-0.6 1l0 2.6l2 2.4l1 0.6l2.3 0l2.5 -1.8l0.8 -1.8l0 -1.2l-0.8 -2l-1 -1l-1.8 -0.8zM1330.5 1666.2l-2.3 2.8l0 2.5l1 1.7l2.8 1.3l2.5 -0.3l-1.3 2l0.3 2.8l4.7 4.5l3 0.5l1.8 -0.8l1 -1l0.8 -2l-0.8 -3l-2.2 -1.4l-2 -2.3l-1.3 -0.5l-2.7 0l1 -3l-0.6 -1.8l-1.2 -1.4l-1.5 -0.8zM1227.5 1662.8l-2.3 -0.8l-1.7 0.2l-4.3 3.8l-1 1.8l0 2.2l1.6 2.2l2.7 1l2.7 -1l3.6 -3.7l0.4 -3l-0.7 -1.7zM1350 1661.8l-2 -0.8l-2 0.2l-2.8 2.3l-1 0l-1.7 1l-1 2l0 2.5l0.5 1l1.8 1.5l3.2 0.3l2.5 -2.3l2.5 -0.7l1.2 -1.3l0.6 -1.5l-0.3 -2.2zM1208.5 1658.2l-1.5 0.6l-1.2 1.2l-0.8 3l0.8 2l1.2 1.2l3.2 0.6l1.3 -0.6l1.5 -1.4l0.5 -1.3l0 -2.3l-2 -2.4zM1202.5 1651.2l-1.5 0.6l-1.2 1.2l-0.8 3l0.8 2l1.2 1.2l3 0.6l1.5 -0.6l1.5 -1.4l0.5 -1.3l0 -2.3l-2 -2.4zM1262.8 1650.2l-2 1.8l-0.6 1.5l0 1.5l1 2l-0.2 1l-3 1.8l-0.8 1.2l0 2.8l-2.2 0.7l-1.5 1.5l-0.5 1.5l0.2 2.3l1.8 2.2l3 0.5l1.5 -0.5l1.7 -2l0.3 -3.2l1.5 -0.3l2.2 2.5l2.3 0.5l-1.5 1.3l-0.8 1.4l0 2.6l1.3 1.7l-1.3 0.7l-1 2l0 2.6l0.6 1l2.4 1.7l2.6 0l2.2 -1.7l0.2 2.7l0.8 1.5l1.8 1.2l1.2 0.3l2.5 -0.5l2 -2.2l0.3 -3l1 0.4l2.4 0l1 -0.4l3.8 -3.6l0.8 -2.2l1.2 -0.5l1.8 -2l0.2 -3l-1 -1.5l0.5 -1.5l-0.3 -1.7l-1 -1.6l-2.7 -1.4l-0.3 -2.6l-2.4 -2.2l-2.8 0l-1 0.5l-2 2.7l-1.8 0.8l-0.7 1.2l-1.3 -0.7l0 -2.5l-1.4 -2l-1.6 -0.8l-3.7 0.6l-1 -2.8l0.3 -3l-2 -2.5l-1 -0.5zM1272 1682.5l0.2 -0.3l0.3 0.6l-0.3 0.2zM1284 1669.5l0.8 1.3l-0.3 1.4l-1.5 0.8l-1 1.5l-2.5 2l-0.7 1.7l0.2 2.3l-3.8 -0.5l-2.4 2l0 -1.8l-1.3 -3.2l2 -2.2l0 -2.8l3.7 -0.8l1.3 -1.4l1.5 0.7l2.2 0zM1270.2 1667.8l0.6 1l-0.3 0.4l-1.3 -0.4zM1191.8 1648l-1.6 0.5l-1.4 1.5l-0.6 1.2l0 2.3l2 2.5l1 0.5l2.3 0l2.7 -2l0.6 -3l-0.8 -1.7l-1 -1l-1.8 -0.8zM1330.5 1649.2l0 2.3l1 1.7l1.3 1l1.7 0.3l1.5 2l2 0.7l1.2 0l1.8 -0.7l1.8 -2.3l2 0.6l2.2 -0.8l1.2 -1.2l0.8 -2l-0.2 -1.8l-1 -1.8l-1.8 -1l-3.2 0.3l-1.3 1l-1 1.7l-1.7 -0.4l-1.3 -1.8l-1.5 -0.8l-2.5 0l-1.5 0.8zM1294 1646l-2.5 -1.8l-2.3 0l-1 0.6l-2 2.4l0 3.3l-0.7 -1.3l-2.3 -1.2l-3 0.5l-2 2.5l0 2.8l0.6 1l1.7 1.4l3 0.3l2.5 -1.7l0.8 -2.3l0 -1.7l1.4 1.4l1.3 0.6l1.7 0l1.8 -0.8l1 -1l0.8 -2zM1213.5 1644.2l-1.3 0.6l-1.4 1.4l-0.6 3l0.8 1.8l1 1l1.8 0.8l1.4 0l1.6 -0.6l1.4 -1.4l0.6 -1.3l0 -2.3l-2 -2.4l-1 -0.6zM1236.2 1645l-2.4 -1.8l-2.3 0l-1.5 1l-2.2 0l-1.6 0.8l-1 1l-0.4 1.5l-2.6 2.5l-0.2 2.5l1 2l1.8 1.3l3 0l2 -1.6l0.7 -1.7l1.3 -1l1.7 0.3l2 -1l0.7 -0.8l0.8 -2.2zM1173.8 1642.2l-1.8 1.3l-0.8 1.5l0 2.8l2.3 2.4l3.7 0l2.3 -2.4l0 -2.8l-0.7 -1.5l-1.3 -1l-1.5 -0.5zM2861 1640.5l-1.8 -2l-3 -0.5l-2 1l-3 0l-1 0.5l-1.2 1.7l-1.5 0l-2.5 2l-0.5 1.3l0 2l-1.3 3.7l1 3l-1.7 2.3l-1.5 3.3l0 3.7l-2 -1.7l-3 -0.3l-0.5 -2.3l-2 -4.4l1.5 -2.6l-0.5 -3.2l-1.3 -1.2l-2 -0.8l-3 0.8l-1.2 1.2l-0.5 1.5l0 1.7l1 2l-1.5 2l0 1.8l-1.2 1.2l-3 0.3l-2.3 1.7l-0.7 2.6l-1.3 1.7l0.3 2.7l-0.6 0.6l-1.4 -0.6l-3.3 0.6l-2.7 2.2l-0.3 2.2l-0.5 0.6l-0.8 -0.6l-2.7 0l-3.5 2.3l-1.5 -1.7l-0.7 -0.3l0.7 -3.5l0 -2.8l-1 -1.7l1.3 -4.3l-1 -2.7l-2.6 -1.5l-2.4 0.2l-1.8 1.3l-1.8 -2.5l-1.7 -0.8l-3 0.6l-1.5 1.4l-0.5 1.3l0.3 3.5l-1.6 -1.2l-0.2 -1l-1.2 -1.6l-1.6 -0.7l-2.4 0l-3 1.7l-1 1.8l0 2.2l0.7 1.3l-0.7 3.5l1 2.5l-1 1.5l-1.3 0l-0.7 -0.8l0.4 -1l0 -2l-0.4 -1.2l-1.6 -1.5l-1.2 -0.5l-3.2 0.5l-1.3 1.3l-1.5 3.7l0 2.3l1.5 2l0.3 3l-1.6 0l-0.7 0.4l-1 -2.2l-1.5 -1.5l-3 -0.5l-1.5 0.5l-1.3 1.3l-0.7 1.7l0 2.7l-1.3 0.8l-2.4 -3l-1.8 -0.8l-0.2 -2.4l-0.8 -0.8l-0.8 -2.2l-1 -1l-1.4 -0.8l-2 0l-1.3 0.5l-2 2.5l0 2.2l1.5 3l-1 3.8l2 7.5l-0.5 0.5l-3.3 0l-1.2 -2.2l-2.5 -1.3l-1.7 0.3l-1 -0.6l-2.3 0l-2.5 2l-0.5 1.3l0 2.5l-2.7 -0.2l-2 1.2l-1.3 -3.2l-1.3 -1.3l-2.4 -0.5l-3 1.5l-0.8 1.5l-0.2 2.2l-2 -0.7l-1 0.3l-1.3 -0.8l-0.7 -5l-2 -1.8l-3 -0.2l1.2 -2l0 -2.2l-0.8 -1.6l-2 -1.4l-3 0l-1 0.4l-1.4 2l0 3.3l-1.3 1.3l-1.3 3.4l-0.2 4.8l0.8 1.2l-0.6 3l1.8 3.3l-1.8 2l-0.4 -0.3l0.2 -3.7l-0.5 -1l-2.5 -2l-2.2 0l-1.6 0.7l-0.2 -0.7l1 -1.5l0 -2.5l-2 -2.5l-1.5 -0.5l-4 -0.3l-1.5 0.8l-1.5 2l0 3l-2 0.8l-1.5 1.4l-0.5 2.6l-1.5 2l-0.5 -0.6l0 -2l-0.5 -1.2l-1.5 -1.5l-1.3 -0.5l-2 0l-3.2 1l-1 1l-1.8 4.5l0.3 2.7l-0.5 0.6l-0.8 -0.8l0 -2l-0.7 -1.5l-4.3 -3l-3 0l-2.4 2.3l-2.3 0l-2.3 0.7l-0.7 -5.3l-2.3 -4.7l-2 -1.7l-3 -0.3l-3 2.3l-0.4 1.4l0 1.6l0.7 1.7l-1.5 3.7l0.8 2.6l-0.8 1l-0.2 2.2l0.7 1.8l-2 0.2l-2 1l-1.3 1.8l-0.2 1.4l-2.2 0l-1 0.6l-1.6 1.4l-0.7 3.6l-1.5 -3.3l0.5 -0.7l0.5 -4.8l-0.8 -1.8l-1.4 -1.2l-1.3 -2.8l0.5 -1.4l-0.2 -2.6l-0.8 -1.4l-1.2 -1l-1.6 -0.6l-2.4 0l1 -2l-0.6 -3l-2.7 -2l-2.3 0l-1 0.6l-2 2.4l0 2.3l0.8 1.7l-2 1.8l-0.2 0.8l-0.8 -1.8l-2.8 -2.2l0.6 -0.8l0 -4l-0.8 -2.2l-2.5 -1.8l-2.7 0.2l-2 1.8l-0.6 1l0.3 3.2l-0.7 2l0 1.8l0.4 1l-0.2 2.8l-0.8 2.4l-1.4 1l-1 2.6l0.4 2.4l0.8 0.8l0 1.2l-3 4.6l-2.2 -1.3l0.7 -1.5l0 -1.8l-1 -2l-1.7 -1.2l-1.6 -0.2l-2.7 1l-1.3 1.7l0 3l-2 6.7l-1.2 -3.2l1 -2l-0.2 -2.2l-1.6 -2l-2.2 -0.8l-2.8 0.8l-1.4 1.7l-0.3 3l0.7 1.5l-0.7 1.2l-0.3 2l-1 0l0 -1.4l-0.7 -2l-3 -2.3l-2.7 0l-1.8 1l-1.2 3l0.2 0.5l-1.8 3l0.6 2.8l-0.6 0.4l-0.2 1.8l-1.8 2l-0.2 3.2l-2 2l-0.2 3.3l-0.6 1l0 5l0.8 1.5l-0.5 1.5l0.5 3.3l-0.5 0.4l-0.3 2l0.8 2l1 1l-0.5 2.6l0.3 1.7l0.7 1.3l-1.5 2.4l0 2.8l1 1.5l0.5 2l1.5 1.5l1.2 0.5l2 0l2.8 -2l1 -3.3l1.5 -2l2.3 0.6l0.2 3.4l2.2 2.3l-1 1.3l-0.4 3.2l-1.3 2l0 2.2l2 2.6l1 0.4l2.3 0l2.7 -2l1.5 -3.2l0 -1.8l0.5 -1l2.3 0.8l2 -0.2l2.2 -2l0.5 -1.3l0 -2.5l-0.5 -1.2l1.5 -2.8l0.3 -2.8l0.7 0l0.3 2.3l1.7 2l1.5 0.5l3 -0.5l2 -2.7l0 -1.8l-0.5 -1l1.5 -4l3.8 0.2l2 -1.2l1 -1.5l0 -3.3l0.7 -1.2l1.7 1.2l0.6 5.3l0.4 1l2.6 1.7l3 -0.2l1.7 -1.5l0.7 -2.5l-0.7 -2l0.3 -2l-0.6 -1l1.6 -1.5l0.4 -1.5l0.8 -0.2l1.5 1.4l1.3 0.6l5 0l2.7 -1.8l0.3 3.5l1.4 2l1.8 0.7l3.2 0l2.3 -1.4l1.3 -3.3l3 0l2 -1.7l0.4 -1.3l-0.2 -3.3l0.5 -0.4l1.7 1l0.8 1.4l2 1.6l2.2 0.2l2.3 -1l1 3.2l2.5 2.3l1.8 0.3l2.2 -0.8l1.8 -1.2l1.2 -2.6l3 4l2 0.8l2 -0.2l1.8 -1.3l1 -2.3l0.2 -6.7l-0.5 -1.3l0.7 -0.4l1.3 -3l3.5 2.7l0.5 2.3l2 1.7l0.3 1.3l1.4 1.4l3.3 0.6l2.3 -1.6l0.2 2l0.8 1.6l2.2 1.4l2.5 0l1.7 -1l1.3 -2.7l-0.3 -1.7l-0.7 -1.6l-1 -0.7l2 -2.7l0 -2l1.3 -4l0 -1.6l0.7 -1.4l-0.5 -4l1.8 -6.8l0.4 0.5l-0.2 1.5l0.8 2l-0.8 1.5l0.5 3.3l-0.7 1l-0.3 1.7l0.7 2l1 1l-0.7 2l-0.3 3l0.6 1.7l1 1.3l2.4 1l2.6 -0.5l1.4 -1.5l2.6 -0.3l4.2 -3.2l2 0.8l0.8 1.7l2 1.5l2.2 0.2l1.5 -0.4l2 -2.3l0.5 1.3l1.5 1.4l3.3 0.6l1.2 -0.6l1.5 -1.4l0.7 -2.6l0.6 1l0 4l2.4 2.3l2.8 0.3l0 2l0.5 1.4l1 1l0.5 3l2.5 2l2.3 0l1.7 -0.7l1.3 -1.7l0.2 -3l-1 -2.8l1 -0.5l2 -2.5l0 -2.2l-1.2 -2l-0.3 -1.6l0.7 -2.2l-0.4 -4l1.2 -1.8l0.8 0.6l0.4 1.7l1.6 1.7l-1 2.3l0.4 2.7l2.8 2l1.2 1.6l1.3 0.7l3 0l1.7 -1.3l1 -1.7l0 -2l-1 -2l0.8 -1.3l-0.2 -3.2l1.4 -2.5l-0.4 -2.5l0.4 -5.8l-1 -1.4l1 -3l-0.2 -1.8l-0.8 -1.2l0.6 -2l-0.3 -2.6l0.5 -0.4l1.2 2.4l2.6 2.3l0.4 1.5l2.3 2.5l2 0.7l2.7 -0.2l0.8 2.8l1.8 1.4l0.4 1.6l1 1l-1.7 1.4l-0.7 2.3l-1.6 2l0 2.3l1.3 2l-1.5 2l0 2.4l2 2.6l1.2 0.4l2.8 -0.2l2.2 -2.5l0.3 -2l-1.3 -2.5l1 -1.2l2 -4.8l-0.4 -2l-1 -1.5l2 -1.7l0.4 -1.6l-0.2 -2.2l-1.5 -2l0.7 -1l0.6 -3.5l0.4 -0.7l1.3 -0.3l1 1l3.7 1l2 -0.3l1.3 -0.7l1.7 2.3l2 0.7l2.6 -0.5l2 -2l0.7 0.8l5 2.2l1.7 0l2.3 -0.8l1.3 -1.4l0.7 -2l1 1l-1.5 3l0.2 2l0.8 1.2l2.8 1.5l2.7 -0.5l2 -2.5l0 -2.5l3 -1l1.5 -2l0.2 -2l-0.4 -1.5l0.7 -1.3l0 -2.2l1.5 -2l0.2 -3.2l3.3 -1l0 3.2l1.5 4l1 1l1.8 0.8l3 -0.6l2.7 -3.4l1 -3l2 -1.8l0.7 -1.8l1.6 -1.7l0.4 -1.7l1.6 -1l2 -2.8l1.7 -1.5l0.7 -1.7l0 -1.8l-1 -1.8l1 -0.7l2.6 1.5l3.4 0.8l2 -0.8l1 -1l0.8 -1.5l0.8 -5.3l-1.3 -5.2l0.7 -1.8l0 -2.2l0.6 -1.2l-0.6 -2.3l0.6 -6.7l-0.6 -2l2 -3l0 -2.6l-0.7 -1.2l0.7 -1.8zM2654.2 1740.5l0.6 -0.3l0.2 0.6l-0.2 0.2zM2681 1737.5l1 1l-1 0.7zM2620.2 1737.5l0.8 2l-0.5 1l-1 -2zM2619.5 1733.5l0.5 -0.3l0.2 0.6l-0.2 0.2zM2726.2 1731.8l0.3 1.2l-0.5 0.8l-0.5 -1.3zM2715.8 1730.2l0.2 -0.2l0.2 0.5l-0.2 0.3zM2619.5 1728l0.3 -0.2l0.2 0.4l-0.2 0.3zM2620 1724l0.2 -0.2l0.3 0.4l-0.3 0.3zM2619.8 1715.5l1 1.5l0 3.5l-0.8 1.3l-0.8 -2zM2691.8 1710.2l0.2 -0.2l0.2 0.5l-0.2 0.3zM2692.5 1705.8l1 1l-0.5 2.4l-0.8 0.8zM2692 1705.5l0.2 -0.3l0.3 0.6l-0.3 0.2zM2757.5 1698.2l0.5 1.6l-0.2 0.4l-0.8 -0.7zM2757.2 1694l1 0.5l-0.2 2l-1 -2.3zM2753 1688l0.8 0.2l1.4 4.3l-0.2 0.3l-1.2 -0.3l-0.8 -0.7l0.2 -0.6l-0.7 -2.2zM1267.2 1641.8l-0.2 2.2l0.5 1.5l1 1.3l2.7 1l2.6 -0.8l1.4 -1.8l2 2l2 0.6l1.3 -0.3l1.7 -1l1.3 -2.5l-0.3 -2.2l-0.7 -1.3l-2.5 -1.3l-1.2 -3l-2.6 -1.4l-1.7 0l-2 1l-1 1.2l-0.3 2l-2.7 1zM1199.8 1627.8l-3 -0.8l-2.3 1l-1.3 1.8l0 2.7l-1.7 0.5l-1.7 1.2l-1 2.8l0.4 2.2l-2 1.3l-1 2.5l0.6 2.5l1 1.3l2.7 1l2.5 -0.8l1.8 -2.5l0 -2.3l-0.6 -1l2 -1.2l1 -1.5l0.8 1.3l2.2 1.4l3 -0.2l1.8 -1.5l0.8 -2l-0.3 -2l-1.3 -1.7l-2.7 -1.3l0 -2.5zM1207.8 1624.2l-1.6 0.6l-1.2 1.2l-0.8 1.8l0 1.4l0.6 1.6l1.4 1.4l3.3 0.6l1.3 -0.6l1.4 -1.4l0.6 -1.3l0 -2l-0.6 -1.3l-1.4 -1.4zM1183.5 1623l-1.3 0.5l-1.4 1.5l-0.6 1l0 2.2l0.6 1.3l1.4 1.5l1.3 0.5l2 0l2.5 -1.7l0.8 -3l-0.8 -2l-1 -1l-1.5 -0.8zM1340.5 1618.5l-2.3 2.5l-0.2 1.8l0.5 1.7l1 1.3l1.5 0.7l2.8 0l2.4 -2.3l0 -3.7l-2.4 -2.3zM1080.2 1617l-1.2 0.5l-1.5 1.5l-0.5 3l0.8 1.8l1 1l1.7 0.7l1.5 0l1.5 -0.5l1.7 -2l0.3 -3l-2 -2.5l-1 -0.5zM1215.8 1614.2l-1 0.6l-1.6 2l0 3l2.3 2.4l3.7 0l1.6 -1.2l0.7 -1.5l0 -2.5l-2 -2.5l-1.5 -0.5zM1127.5 1612.5l-1.7 1.5l-0.8 2l0.2 1.8l0.8 1.2l-1.2 3l0.7 2.5l1.7 1.5l2 0.2l1 2.6l3.6 2.4l1.2 0.6l2.8 -0.3l2 -1.7l0.4 -1.6l0 -1.4l-0.7 -1.8l-3.7 -2.8l0.2 -1l-0.5 -2l-0.7 -1.2l-1.3 -0.8l-0.3 -2.7l-1.2 -1.5l-1.5 -0.8zM1188 1611.2l-1.5 0.8l-1.3 1.8l0 3.2l1.3 1.8l1.5 0.7l2.8 0l2.4 -2.3l0.3 -3l-1.7 -2.4l-1 -0.6zM1179 1608.8l-3 1.4l-1 3.3l0.5 1.7l1.3 1.3l-0.8 2l0.8 2.5l1.7 1.5l3 0.3l2.5 -1.8l0.5 -1l0 -2.8l-1.5 -2l0.5 -1l-0.3 -3l-1.7 -2zM2854.8 1607.2l-2 1.8l-0.6 1l0 2.5l0.8 1.5l1.5 1.2l3.7 0l2.3 -2.4l0 -3l-2 -2.3l-1.3 -0.5zM1110.8 1605l-1.6 0.5l-1.4 1.5l-0.6 3.2l0.6 1.3l1.4 1.5l3.3 0.5l2.7 -2l0.6 -3l-0.6 -1.5l-1.2 -1.2l-1.8 -0.8zM1227.2 1601.2l-2.4 2l-0.6 1l0 2.3l0.6 1.3l1.2 1.2l2 0.8l2 -0.3l1 -0.5l1.5 -2l0 -3l-2.3 -2.5zM1163 1600.8l-1.8 -0.8l-3 0.5l-1.4 1.5l-0.6 1.2l0.3 2.8l-2 0l-2.5 1.5l-0.8 1.3l-0.2 1.7l0.2 1.3l1.3 1.7l1.7 1l3 -0.3l2.3 -2.4l-0.3 -3l3 -0.6l2 -1.7l0.6 -3l-0.8 -1.7zM1098 1597.8l-0.5 1l0 2.2l0.5 1.2l1.5 1.6l2.3 0.4l1.7 1.8l1.5 0.5l2.5 -0.3l2 -1.7l0.5 -3l-0.5 -1.5l-2 -1.8l-2 -0.2l-1.3 -1.5l-1.4 -0.7l-2 0l-1.3 0.4zM1189.5 1597l-2.7 -2l-2.3 0l-1.5 1l-1.8 0.2l-2.4 2.8l0 2.5l0.7 1.5l1.5 1.2l3 0.3l1.5 -1l2.7 -0.7l1 -1l0.8 -1.8zM1173 1591.2l-1.8 1l-1.2 3l0.2 1.6l2.3 2.4l3.3 0.3l2.2 -1.7l0.5 -1l0 -2.6l-1.7 -2.4l-2.3 -0.8zM1082 1589.2l-2 1.3l-0.8 1.3l-0.2 2.2l1.5 2.8l2.7 1l1.6 -0.3l2.4 -2.3l0.3 -3l-1.7 -2.4l-1 -0.6zM1110.8 1587.2l-2.6 2.8l0 2.8l2.3 2.4l3.7 0l2.3 -2.4l0 -3l-2 -2.3l-1.7 -0.5zM3044.2 1592.2l-1.7 -1.4l-2.5 -1.3l-2.2 0l-1.3 0.7l-3.3 -1l-2.2 0.3l-1 0.5l-4.2 5.8l-0.3 1.4l-2.7 0.8l-1.6 1.5l-0.7 2.7l-0.5 -0.4l0.2 -3.3l-1.4 -3l-2 -2l-2.3 -0.7l2.7 -1l1.8 -2.3l-0.2 -3.3l-1.8 -1.7l-1 -0.5l-2.5 0l-1.3 0.8l-1.4 2l-0.3 2l0.5 1.4l1 1.3l2.2 1l-2 0.3l-2 -1l-2.7 0.4l-1.3 1l-0.7 1.6l0 2.2l-0.7 0.5l-1.3 -1.7l-1.7 -1l-1 -4.8l-1.6 -1.5l-1.4 -0.5l-2.3 0.2l-2 1.6l-0.7 1.7l0.2 2.5l-1.2 2l0.2 2.8l-1.5 2.4l0.3 2.6l-3.3 0.4l-3.5 4.3l-1.2 0.3l-0.8 -0.6l-2.5 0l-3.3 2.3l-1.4 1.5l-0.6 1.2l0.3 3l-0.7 1.8l0.4 2.2l-0.4 1.6l-3 3.4l-2.3 -1l-3 0.8l-1.5 2l0 3.2l-0.5 0.6l-1.3 -0.6l-0.4 -2.2l-1.3 -1.5l0 -5l-0.7 -1.7l0.2 -3l-0.5 -1.3l-2 -1.7l-2.5 -0.3l-1.5 0.5l-1.3 1.2l-0.7 2.6l-1 1l-1 3.4l0 2.6l0.5 0.7l-0.2 1.3l-1.3 -3l-2 -1.6l-2.3 -2.7l-3 -0.5l-1.7 0.8l-1.5 2l-0.5 3.7l-0.7 1l-1 3.3l0 1.4l1 2l-0.6 1.6l0.6 3l-0.8 1.7l0 1.7l0.8 2l-0.6 1l-0.2 4.6l2.8 4.4l-0.8 0.3l-2.5 -0.5l-1.7 0.8l-3.3 4.4l-0.7 2.6l-3 -2l-3 0.4l-2 2.6l0 2.4l1.2 1.8l-3.2 -0.2l-1.6 0.4l-1.4 1.6l-0.8 2.2l-1.8 -1l-2.2 0l-1 0.5l-2 2.5l-0.8 -3.8l-1.4 -1.4l-3.6 -1.6l-2 0l-1.2 0.6l-4.2 4l0.2 -3l-0.8 -1.8l0.8 -1.2l0 -2.3l-1 -3l0.8 -2.5l-0.3 -2.2l-2.3 -2.6l-2.7 -0.2l-1.3 0.5l-1.4 1.5l-1.3 3.8l0 1.7l1 3.5l-2.3 0.5l-2 1.5l-0.7 1.8l0 1.4l0.7 1.8l-2.7 2.2l-0.5 1.8l-0.5 0.5l-2 -0.3l-1.5 0.6l-1.5 1.4l-0.5 2.6l-1.2 2l0.2 2.4l-1 1.6l0 2l-1.2 0.7l-1.3 1.7l-0.3 2l0.6 1.8l0.7 0.8l-1.3 2.4l0.6 10l-0.3 5.3l0.5 1l2.2 2.5l3.3 0.8l1.7 -0.8l1.3 -1.2l0.5 -1.8l0.8 -0.8l2 0.8l1.7 0l4.3 -2l1.7 -2.5l0 -2l-0.7 -1.5l2 -4l0.7 0.5l0 1.5l1.5 2l-0.5 1.2l0.5 3l1 1.3l1.5 0.7l2.5 0l1.2 -0.4l1.3 -1.6l0.5 -1.2l-0.2 -2.2l2.7 -3l0.3 -1.8l0.7 -0.2l1.7 1l2.8 0l1.5 -0.8l2 2.5l0.3 2.3l1.2 1.4l4 1.6l2.5 0l0.7 -0.6l1 4l1.8 2l1.2 0.6l2 0l1.3 -0.6l1.5 -1.4l0.5 -2l3 -4.3l0 -3.7l0.5 -0.6l1.5 0.6l2.5 -0.6l1.2 0.8l2.3 0l3.3 -1.2l1 -1l0.7 -1.8l0 -1.8l-1.3 -2l0.6 -2l-0.6 -2l1 -1l0.3 -1l1.7 -1l3.3 0.6l2.7 -1.8l1.3 -4.8l-1 -3.2l1.7 -3l0.3 -5.8l-0.5 -2.2l0.5 -4.8l0.7 -1.2l2.3 1l2.7 0l3.3 1.5l3 -0.7l1.5 -1.3l0.8 -2.5l2 -2.2l0.2 -3.3l2 1.3l2 0l4.8 -2.8l1 -1.5l0.2 -2l1.2 -1.3l0.6 -1.4l0.4 -5.3l2.8 -0.5l1.5 1l2.3 0l2 -1.2l1.2 -1.6l1.8 2.3l1 0.5l2.4 0l1.6 -0.8l1.2 -1.4l0.5 -2.6l1.7 -0.2l0.6 0.5l1.7 0.3l3.3 -1.6l0.4 0.6l0.8 8.2l1.2 1.8l1.3 0.7l1.7 0.3l2.3 -0.8l1.5 -1.8l0.8 -7l3.7 0l1.5 -0.7l1.5 1l2 0.3l2 -0.8l1 -1l1.7 -4.2l-0.2 -3.6l0.8 -1.2l0 -2.8l1.4 -2.2l0.6 -2.8l4 -4l1 -1.4l0 -0.8l2.7 -2.2l0.5 -1.3l0.5 -5.5l-0.5 -4.2l0.2 -3.6zM1186.2 1584l-1.7 1l-1 1.2l-0.3 3.3l0.8 1.5l1.2 1l2.8 0.5l2.8 -1.5l1 -2.8l-1 -2.7l-1.6 -1.3zM1062.5 1583.5l-2 2l0 3.7l1.3 1.6l2.7 1l2.7 -1l1.6 -2.8l-0.3 -2.2l-0.7 -1.3l-2 -1.3zM1093.8 1583.8l-0.8 2l0.8 3l4.4 3.4l1.8 0.3l2.5 -1l1.7 0l1.6 -0.7l1.2 -1.8l0 -3.2l-1.2 -1.8l-1.6 -0.8l-2.4 0l-1 0.6l-1.6 -1.6l-3 -0.2zM1111.8 1577.8l-1.6 2.2l0 2.2l1 1.8l4 2.8l2.8 0l1 -0.6l1.8 -2.4l0 -2.3l-1 -1.7l-4 -2.8l-2.6 0zM1177 1576l-2 0.8l-1.2 1.2l-0.6 1l0 2.5l2 2.5l1 0.5l2.3 0l2.5 -1.7l0.8 -3l-1.6 -2.8l-1.2 -0.8zM1054.2 1572.2l-1.7 1l-1 1.3l-0.3 6.3l0.6 1.4l1.4 1.6l3.3 0.4l1.3 -0.4l1.7 -2l0.3 -2.6l-0.6 -1.2l0.6 -1.5l-0.6 -2l-1.2 -1.5l-1.5 -0.8zM1065.2 1569l-1.7 1l-1 1.2l-0.5 1.8l0.2 1.8l2 2.2l2.8 0.5l2.8 -1.5l0.7 -1.5l0 -2.5l-2.3 -2.8zM1093 1568.5l-3.8 0l-2.4 2.7l-1.8 0.3l-2 2l-0.2 2.3l-1 1l-0.8 1.7l0 1.7l0.5 1.3l1.7 1.7l3 0.3l1.8 -0.7l1.2 -1.8l0.3 -2.2l1.3 -1.8l2.4 -0.8l1.3 -1l0.7 -1.4l0 -2.6zM1191.2 1567.2l-0.4 1.3l0.2 2.5l1.5 2l1.7 0.8l1.3 2l2.5 1l1.8 -0.3l1.4 -1l0.8 0.3l-0.8 1.7l0 2l1.6 2.3l1.2 0.7l1.8 0.3l2.7 -1.3l1.3 -2.3l0 -1.7l-1.3 -2.3l1.3 -0.7l1.2 -3l-1.2 -3.3l-1.8 -1l-2.5 0l-1 0.6l-1 -0.6l-2.7 0l-1.6 0.8l-2 -2.2l-1 -0.6l-3 0.3zM1115 1565.5l-1 2l0.5 3l1 1.3l2.7 1l2 -0.8l1 3l1.8 1.2l2.2 0.3l2.6 -1.3l1 -1.4l0.2 -1.6l1.2 -0.7l1.3 -2.5l-0.3 -2.2l-0.7 -1.3l-2 -1.3l-2.5 0l-1.5 0.8l-1.3 1.5l-0.4 1.7l-1.3 -2.7l-2 -1.3l-2.5 0zM1164.8 1567.8l-1 -0.6l-2.6 0l-2 1l-1 2l0 2.6l1 1.4l-0.2 0.6l-1.2 -0.6l-2.6 0l-1.4 0.8l-1.3 -2.2l2.3 -0.6l2.2 -1.7l0.5 -1.3l0 -2.2l-2 -2.5l-1 -0.5l-2.5 0l-2.2 1.8l-0.8 2l0.2 2l1.3 1.7l-0.3 0.3l-1.2 -0.3l-2 0.7l-2 3l-1 -0.4l-4.2 0l-1.8 0.7l-1.5 2l-0.3 2.7l-1 1.8l0 1.5l0.6 1.5l2.4 2l-2.7 0.5l-2 2l-0.3 3.3l0.8 1.4l3 1.6l2.5 -0.6l1 -0.7l1 -1.7l0 -2.6l-0.7 -1.4l-2.3 -1.6l3.5 -0.7l1.5 -1.7l0.3 -1.3l1.4 -0.5l1.8 -1.5l0.8 3l-2 1l-1.6 2l0 3l1 1.5l-1.7 1l-1 1.2l-0.5 2.8l1.2 2.5l1.8 1l1.2 0.3l2.6 -0.8l1.7 -2.5l0 -2.3l-1.3 -2l2.6 -1.4l0.7 -1.6l0 -2.4l-0.5 -1l3 -2l0.8 -2.3l1 0.3l2.2 -0.8l1.8 -2.5l-0.3 -2.7l-1.5 -2l0.5 -0.3l1 0.7l2 0.6l1.3 -0.3l1.7 -1l1 -1.7l0.3 -1.3l-0.6 -2zM1048.2 1561.2l-2.7 2.3l-0.3 3.3l0.8 1.4l1.8 1.3l2.2 0.3l2.8 -1.6l1 -2.4l-0.3 -1.8l-2.3 -2.5zM1032.8 1559l-1.8 0.8l-1 1l-0.8 3l0.8 2l1 1l1.8 0.7l1.7 0l1.3 -0.5l1.4 -1.5l0.6 -1l0 -2.5l-2 -2.5zM1107.5 1553.5l-2.3 2.5l-0.2 1.8l0.5 1.7l1 1.3l1.5 0.7l2.8 0l2.4 -2.3l0 -3.7l-2.4 -2.3zM1118.5 1552.5l-2 2l0 3.7l1.3 1.6l2.7 1l2.7 -1l1.6 -2.8l-0.3 -2.2l-0.7 -1.3l-2 -1.3zM1094.5 1551.2l-1.3 0.6l-1.4 1.4l-0.6 1l0 2.3l0.6 1.3l1.4 1.4l3 0.6l1.8 -0.8l1 -1l0.8 -3l-0.8 -2l-1 -1l-1.5 -0.8zM1004.2 1547.2l-2.4 2l-0.6 3l1.8 2.8l2.2 0.8l1.8 -0.3l2 -1.5l0.8 -1.5l0 -2l-1.6 -2.5l-1.7 -0.8zM1121.5 1542l-1.7 0.8l-1 1l-0.8 3l0.8 2l1 1l1.4 0.7l2.3 0l2.3 -1.5l0.7 -1.5l0 -2.5l-2 -2.5zM1040.5 1546.2l-0.3 3.3l0.8 1.5l2.5 1.5l1.7 0l2 -1l0 3.5l0.6 1l2 1.5l2.2 0.3l2.2 -1.3l2 2.3l0.3 2l1.7 2l0.6 3l1.4 1.2l1.3 0.5l2 0l2.7 -2.3l1.8 2.6l2.2 0.7l2.8 -0.7l1.2 -1.6l2 2.8l2 0.8l2 -0.3l2 -1.5l0.8 -1.8l0 -1.7l-0.5 -1.3l-2 -1.7l-3 -0.3l-2.5 2l-1.8 -2.4l-1 -0.6l-0.7 -2l-1.5 -1.2l-3 -0.2l-2 1.4l-2.5 -3l0 -1.4l-2 -2.6l-1 -0.4l-2.3 0l-2 1l-0.7 -1.3l2.3 -1.5l0.7 -1.5l0 -2.5l-2 -2.5l-3 -0.5l-1.7 0.8l-1 1l-0.8 3l1 2.4l-1.2 0.8l-0.3 -3.2l-2.3 -2.6l-3.7 0zM1085.8 1541.8l-0.8 3.2l0.8 1.8l1.2 1.2l3.5 0.5l2.5 1.3l2.5 -0.6l1.3 -1l1 -2.4l-0.3 -1.8l-2.3 -2.5l-3 -0.3l-0.7 -0.7l-3 -0.5l-1.5 0.5zM1105.5 1539.5l-2 2l0 3.7l1.3 1.6l2.7 1l2.7 -1l1 -1.3l0.6 -1.7l-0.3 -2l-0.7 -1.3l-2 -1.3zM1071.2 1538.2l-2.4 1.8l-0.8 2l0.2 2l1.6 2l1.7 0.8l1.5 0l2.8 -1.6l0.7 -1.4l0 -2.6l-2.3 -2.7zM1158 1526.2l-2 0.8l-1.2 1.2l-0.6 1l0 2.6l2 2.4l1 0.6l2.3 0l2.5 -1.8l0.8 -3l-1.6 -2.8l-1.2 -0.7zM1004.8 1524l-0.8 2l0.5 2.5l1.3 1.5l2.2 0.8l-1.2 1.4l-0.6 1.6l0.3 2.4l1.7 2l3 0.8l0.3 2.8l1.5 1.7l2 0.7l3 -0.7l1.8 -2.7l-0.3 -2l2 -0.8l1.5 -1.2l2.2 1.7l-0.4 1l0 2l0.7 1.5l1 1l4.5 1.8l0.8 2l1.4 1.4l1.3 0.6l2 0l2.7 -2l0.6 -1.3l-0.6 -3.3l-1.2 -1.2l-2 -1l-0.2 -1.2l-1.6 -1.8l-2.4 -0.8l-1.6 -1l0.6 -2.4l-1.6 -2.8l-1.2 -0.8l-2 -0.2l-3.2 1.8l-2 -1.6l-2 -0.2l-2 0.8l-2 3l-0.6 -1.6l-1.2 -1.2l-2.2 -1l1.7 -2.5l0 -2.3l-1.5 -2.2l-1.5 -0.8l-2.5 0zM1014.8 1535.2l0.2 -0.2l0.2 0.5l-0.2 0.3zM983.5 1522.5l-2.3 2.5l-0.2 1.8l1 2.4l3 1.6l2.5 -0.6l1 -0.7l1 -1.7l-0.3 -3.3l-2 -2zM1142.5 1517.5l-2 2l-0.3 3.3l2.3 2.4l2 0.6l1.3 -0.3l2.2 -1.7l0.8 -2l-0.3 -1.8l-1 -1.8l-1.7 -1zM1023.5 1517l-1.7 0.8l-1.3 1.2l-0.5 3.2l0.5 1.3l1.5 1.5l1.2 0.5l2 0l1.3 -0.5l1.5 -1.5l0.5 -3l-0.5 -1.5l-1.5 -1.5zM1034.8 1518l-0.6 1l0 2.5l0.6 1l1.4 1.5l2 0.8l-1.4 1.2l-0.8 1.5l0 2.3l2.2 2.7l3.8 0l2 -1.7l0.5 -1.3l1.5 1l1.8 0.3l1.2 -0.3l1.8 -1.3l1 -2l0 -1.7l-1.6 -2.5l-1.7 -0.8l-3 0.3l-2.5 2.7l-2.5 -1l1.5 -1.4l0.8 -2l-0.3 -2l-1.3 -1.8l-2 -1l-1.7 0l-1.3 0.5zM1011.5 1508.2l-1.3 0.6l-1.4 1.4l-0.6 1l0 2.6l0.6 1.2l1.4 1.2l1.3 0.6l2 0l2.5 -1.8l0.8 -2.2l-0.3 -1.8l-2 -2.2l-1 -0.6zM976 1508.5l-1.8 2l-0.2 2.7l0.5 1.3l1.7 1.7l0.8 2.8l1 1l1.8 0.8l3 -0.6l1.7 -2l0.3 -2.7l-0.6 -1.3l-1.7 -1.7l-0.7 -2.7l-2.6 -1.8l-2 0zM1002.5 1503.2l-1.7 0.8l-1 1l-0.8 3l0.8 2l1 1l1.4 0.8l2.3 0l2.3 -1.6l0.7 -1.4l0 -2.6l-2 -2.4zM3174.5 1496.2l-2.5 -1.4l-2.5 0.2l-3.7 4l-1.3 0l-2 -2.5l-3 -0.5l-1.7 0.8l-1 1l-0.8 1.7l0 1.3l-0.8 1l-0.7 -0.8l-3 -0.5l-2.3 1.3l-1.7 -0.8l-2.5 0l-1.8 1l-2.4 -0.2l-1 0.4l-4.3 5.6l0 2.4l-1.3 5.6l0 2.2l-1.2 2.5l-1 4.5l-0.5 0.5l-5 -0.3l-1.5 0.6l-2 2.4l0 2.6l-2 3.7l-1.8 -2l-1.7 -0.5l-2 0.2l-1.7 1.3l-1.6 3.5l-0.4 -2l-1.6 -1.8l-2 -0.7l-2 0.3l-2 1.4l-0.7 2l0 2l-0.7 0.8l-1 2.5l-3 0.3l-2 1.4l-2.8 0.8l-0.8 0.8l-2.7 -1.3l-2.3 0.3l-1.2 0.7l-1.2 2l0 2.5l-2.6 2.8l-2.7 -0.3l-2.3 1.5l-2.2 4.2l-1.8 1.8l0 3.5l-3 1l-3.2 3.7l-0.2 1.6l-1.3 2.2l-1 4.2l-2 0.8l-2.7 3l-2.3 5l-0.5 0.2l-2 -1l-2.2 0l-2.6 1.8l-0.7 2.8l0.3 3l0.4 1l-0.4 0.7l0 15.7l0.7 1.6l2.3 1.4l3 -0.2l1.7 -1.5l1.7 -5l1.8 -1.5l1 2.8l1.8 1.2l2.2 0.2l1.5 -0.4l2 -2.3l0 -3.5l1.7 -2.2l4.3 1.7l3 -0.7l1.3 -1.6l0.4 -1.4l-0.2 -2.3l-0.5 -0.5l0.5 -1.5l1.8 -1.5l0.7 -2.2l2.3 -0.8l2.4 -2.2l0.6 -1.6l0 -3l3.2 -2.7l1 -2.3l3.8 0l1.4 -0.4l1.8 -2l2.5 0.2l1 -0.5l4.5 0l1.5 1.5l1.3 0.5l1.7 0l1.7 -0.7l1 -1l1.3 -2.6l1.5 -6.4l2.5 -1.3l3 -3.7l1.7 -0.3l2 -1.5l0.8 -1.5l0.2 -2.3l2.8 1l3.2 0l4.8 -3.2l2.8 -3.5l0.4 -1.5l-0.2 -2.2l-0.8 -1.8l0.8 -1.5l-0.2 -3l1 -2.7l0.4 -0.3l1.6 1.5l1.4 0.5l3 -0.5l2.8 -2.5l1 -2.5l0.2 -3l2 -2.5l2.3 -0.5l2.3 -2l2.7 0l2.7 -1.2l1 -1.3l1.8 0l2.5 -2.3l0.5 -3.7l2.8 -3.7l1.4 -4l0.3 -8.8zM1020.8 1492.5l-1 0.5l-1.6 2l0 3l2.3 2.5l3.7 0l1.6 -1.3l0.7 -1.4l0 -2.6l-2 -2.4l-1.5 -0.6zM992 1492.5l-2 -0.3l-2 0.8l-1.2 1.2l-0.6 1.3l0 2.3l1.8 2.4l-2 0.8l-1 1l-0.8 1.5l0.3 3l2.7 2.3l3 -0.3l2 -1.7l0.3 -3.8l-1.7 -2l1.4 -0.5l2 -1.7l0.6 -3l-0.8 -1.8zM967.5 1489.2l-1.3 0.6l-1.4 1.4l-0.6 1l0 2.6l0.6 1.2l1.4 1.2l1.3 0.6l2 0l2.5 -1.8l0.8 -2.2l-0.3 -1.8l-2 -2.2l-1 -0.6zM981.5 1484.5l-2 2l0 3.7l2.5 2.3l3 0l2.2 -2l0.6 -1.5l-0.3 -2.2l-1.3 -1.8l-1.4 -0.8zM941.8 1480.2l-2 1.8l-0.6 1l0 2.8l2.3 2.4l3.7 0l2.3 -2.4l0 -3l-2 -2.3l-1.5 -0.5zM994.8 1479.2l-1.6 0.6l-1.4 1.4l-0.6 1l0 2.6l2 2.4l1 0.6l2.3 0l2.5 -1.8l0.8 -1.8l0 -1.2l-0.8 -2l-1 -1l-1.8 -0.8zM1016 1477.2l-1.5 0.8l-1 1.2l-0.5 3l1.5 2.6l2.7 1l2.6 -0.8l1.2 -1.5l0.5 -3l-1.7 -2.7l-1.3 -0.6zM989.5 1472.5l-0.3 3.3l1 1.7l2.3 1.3l1.7 0l2.3 -1.3l2.3 2l2.7 0.3l1.7 -1l1.3 -1.8l0.3 -1.8l-0.8 -2.2l-2.8 -1.8l-1.7 0l-2.3 1.3l-2.7 -2.3l-2 0l-1.3 0.6zM1041.5 1465.2l-1.5 0.6l-1.5 1.4l-0.5 3.3l0.5 1.3l1.5 1.4l3.2 0.6l1.3 -0.6l1.5 -1.4l0.5 -3l-0.5 -1.6l-1.5 -1.4zM969.2 1463.2l-2.4 2l-0.6 1l0 2.3l0.6 1.3l1.4 1.4l3 0.6l1.8 -0.8l1 -1l0.8 -3l-0.8 -2l-1 -1l-1.5 -0.8zM963.8 1449.5l-1.3 0.7l-1.3 1.8l0 3l2.3 2.5l3 0.3l2.5 -2l0.5 -1l0 -2.6l-0.7 -1.2l-2 -1.5zM926.2 1449.5l0 2.5l1 1.8l1.8 1l1.8 0.2l2 -0.8l1.2 -1.2l0.8 1.5l2.4 2l6 0l1.3 -0.5l2 -2.2l1.5 1l2.8 0l1.7 -1l1.3 -2.8l-0.6 -2.2l-2.4 -2.3l-3.3 0.3l-2.3 2.4l-2.2 -1.2l-2.5 0.5l-2.7 -0.5l-1.6 0.5l-1.4 1.5l-2 -3l-1 -0.5l-2.6 0l-1.7 1zM998 1444l-3 1.5l-0.8 1.7l0 2.6l2.3 2.4l3 0.3l2.5 -1.7l0.8 -2.6l-1.3 -3l-1 -0.7zM974.5 1441l-1.3 0.5l-1.4 1.5l-0.6 1l0 2.5l0.8 1.5l1.5 1.2l3 0.3l2.5 -1.7l0.8 -2l-0.3 -2l-2 -2.3zM938 1434.2l-1.5 -0.7l-3.3 0.3l-1.2 1l-1 1.7l-2.2 1.5l-0.8 1.8l0 1.4l0.5 1.6l1.5 1.4l1 0.6l2.5 0l1 -0.6l2.3 -2.7l1.4 -0.7l1.3 -2.3l0 -1.7zM966.2 1432l-2.4 -1.8l-3 0.3l-3.6 3l-1.2 2.7l-2.2 -2l-2.8 0l-2.8 2.6l-0.2 2.2l0.5 1.5l1 1.3l2.7 1l2.6 -0.8l2 -3l1.7 1.5l3.3 0.3l4.4 -3.8l0.8 -2.2zM972.5 1425.2l-1.3 0.6l-1.4 1.4l-0.6 1.3l0 2l1.8 2.5l1.8 0.8l1.4 0l1.6 -0.6l1.2 -1.2l0.8 -1.5l0 -2l-0.6 -1.3l-1.4 -1.4l-1.3 -0.6zM900 1425.2l-2 0.8l-1 1l-0.8 1.5l0 2.3l0.8 1.4l1.5 1.3l3 0.3l2.7 -2l0.6 -2.6l-1.6 -3zM3274.8 1417.5l-1.6 -1.5l-1.4 -0.5l-2.3 0.3l-1 0.4l-1.5 2l-0.2 2l-1 1l-0.8 1.8l0.2 2l-0.4 0.5l-3 -3.3l-3 -0.4l-2 1l-1 1.4l-4.6 0.8l-2 2l-0.2 2.5l-3 1.7l-1.5 0.3l-2 -1.3l-1.7 0l-1 0.6l-1.3 -2l-2.5 -1l-1.8 0.2l-2 1l-2.2 2.8l0 2.2l0.5 1l-0.7 3.5l-0.8 1l-3 0l-1.2 0.5l-1.8 1.8l-1.8 -1.3l-3 0.3l-1.7 1.4l-0.7 2l0.2 1.6l-0.5 0.4l-1.7 0l-1.6 0.8l-1 1l-0.7 1.8l-6.5 5.7l-0.8 1.7l-2.2 0.3l-2.5 2l-1 2.5l-1.7 1.2l-1 3l-1.8 -0.2l-3 1.2l-4 0l-1.2 0.6l-2 2.4l0 3l-1.3 5.8l0.5 7.2l-0.2 2.6l1 2l3 2.4l0.4 1.8l1.8 1.5l1.8 0.3l1.4 1l2.8 0l1 -0.6l1.8 -2.2l2.4 -0.8l1.3 -1.2l0.5 -1.8l-0.2 -1.4l2.4 -6.3l3 0.3l1.3 -0.6l1.7 -2l0 -2.7l1 -1.7l0.6 0.2l0 2.2l0.4 1l2.6 2l2.2 0l1.2 -0.7l1.3 1.3l3 0.2l2 -1.2l2 -0.6l1.3 -1.4l0.4 -1.6l-0.4 -2.7l2.2 -4l0.5 -2l-0.3 -2l1.6 -3.5l1 0.5l3 -0.3l2 2.3l3 0.5l2.2 -1.2l1 -1.6l2.2 -1l1 1.6l-0.7 1.2l-0.3 2.2l0.8 1.8l2.5 3l-1 1.8l0.5 3l1 1.2l2.8 1l2.4 -0.8l1.8 -2.7l0 -1.7l-1 -2.3l1.8 -3.7l0.2 -1.8l1.2 -1.8l-0.2 -5.7l0.8 -1l1 -4l1 -0.3l2.2 1.3l1.5 0l2 -1l1.5 -2.7l1.2 0l2.3 -1.8l0.5 -1l0.2 -4.5l1.8 -1.3l1 -1.4l0 -12l0.5 -2l0 -2.8l-0.5 -1.8l0.5 -2zM881.2 1412.8l-2.7 2.2l-0.3 3.2l0.6 1l2.2 1.8l3 0l1.2 -0.8l1.3 -1.7l0 -3l-2.3 -2.5zM943.8 1408l-1.6 1.8l-0.2 1.2l0.5 2.5l0.7 1l1.6 1l1.7 0.3l2.3 -0.8l1.2 -1.5l0.8 2.3l3 2l-0.6 1l0 5l0.6 1l2.4 2l2.3 0l1.7 -1l1.6 -2.8l0 -3.5l-0.8 -2l-3 -2l0.5 -0.7l0 -2.8l-0.5 -1l-1.5 -1.5l-1.5 -0.5l-2.2 0.2l-2 1.8l-0.6 -1.5l-2.4 -2.3l-2.8 0zM896.5 1405.5l-3 -0.5l-1.7 0.8l-1 1l-0.8 2.2l-2.5 2l-0.5 1.2l0 2.3l2 2.5l1 0.5l3 -0.3l2 -1.7l0.5 -2l2.5 -2l0.5 -1l0 -2.3l-0.5 -1.2zM907.8 1403.2l-3.3 0.3l-1.5 1l-0.8 1.5l-0.2 1.8l0.8 2l-1.8 0.7l-1.2 1.3l-0.8 1.7l0.5 3l1.5 1.5l3.2 0.5l1.3 -0.5l1.7 -2l0.3 -2.8l-0.7 -1.4l2 -0.8l1.7 -2.5l-0.3 -3zM912 1395l-2 0.8l-1 1l-0.8 1.4l0 2.3l2.3 2.7l3 0.3l1.7 -0.7l1 -1.3l0.6 -3l-0.8 -1.7l-1 -1zM896.5 1392l-1.7 0.8l-1.6 2l-0.2 2l0.5 1.2l-0.5 1l0 2l0.5 1.2l1.5 1.6l1.2 0.4l2 0l2.8 -2l0.5 -1.4l-0.5 -2.6l0.5 -0.7l0 -2.5l-2 -2.5zM921.8 1391.8l-1.6 2l-0.2 2l0.8 2l2.7 2l-0.3 3l0.8 1.4l1.8 1.3l1.2 0.3l2.5 -0.6l2 -2.2l0.3 -1.8l-1 -2.4l-2.6 -1.8l0.3 -3l-0.5 -1l-1.2 -1.2l-1.8 -0.8zM887.5 1387l-2 1l-1.3 1.8l0 3l2.3 2.4l3 0.3l2.5 -1.7l0.5 -1l0 -2.8l-2 -2.5zM920 1377.2l-2.5 2.3l-0.3 3l2.3 2.7l3.3 0.3l1.4 -0.7l1 -1.3l0.6 -3l-1 -2l-1.8 -1.3zM864 1374.5l-2 2.5l0 2.5l0.8 1.5l2.4 1.8l0.8 2.4l1.2 1l1.3 0.6l2 0l2.5 -1.8l0.8 -2.2l-0.8 -2.8l-2.5 -1.8l-0.7 -2.4l-1.6 -1.3l-1.2 -0.5zM907.8 1373.2l-2.6 2.8l0 2.5l0.8 1.5l1.5 1.2l3.7 0l2.3 -2.4l0 -3l-2 -2.3l-1.7 -0.5zM3421.2 1388.5l-1.7 -1.5l-1.5 -0.5l-2.2 0l-1.3 0.7l-2.3 -0.2l-1.2 0.5l-1.5 1.5l-0.5 1.2l0.2 3.3l-1.4 2.3l-1.3 -1.6l-1.7 -1l-2.3 0l-1.3 0.8l-1.2 -0.5l-2.2 0l-1.6 0.7l-2.4 2.8l-0.8 -1.2l1 -2l0 -1.8l-1.2 -3.8l0.7 -1.7l0 -4.3l-0.7 -1.2l0 -6l-0.6 -1l-2 -1.8l-2.4 -0.2l-1.6 0.5l-1.2 1.3l-0.8 2l0 5.7l1 3l-1.7 2.5l0.3 3l1.4 1.8l0.3 1l-2.3 1.2l-1.7 -1.5l-3.5 -0.3l-1.5 0.6l-1.5 1.4l-0.5 3l-0.5 0.6l-1 -1.3l-1.8 -1l-2.4 0l-2 1.3l-1.6 1.4l-0.4 1.3l0 1.3l-0.8 1.2l0.2 3.2l-1 1.8l0 4l-1.4 4.2l0.2 3.6l-0.5 3.4l0.7 11.6l1.8 3.7l2.2 1.7l2.6 0l2.4 -2l0.8 -2.4l3.8 -0.6l3.7 -3l0.7 -2l2.6 1.6l3 -0.6l1.2 -1l0.8 -1.4l0 -3.3l0.4 -1l3 1.5l1.8 0l2.2 -1l0.6 0.5l0 2.7l1 2.3l2.4 2l2.3 0l1.3 -0.5l1.4 -1.5l0.6 -1.7l3 -3.8l5.7 0.8l2 -1l1.5 -2l2.8 0.2l3.4 -1.2l1.6 -1.6l0.7 -2.4l-0.3 -14.6l-1 -2.2l-1.2 -1.5l0 -1.7l-1.2 -2.8l0.2 -3.5zM3355.8 1372l-1.8 -1l-2 0l-1.2 0.5l-2 2.5l0 1l-1 2l0 1.5l1 2l-0.6 1.7l-1.2 1.8l0.2 4.5l2 3l-1.2 3.3l0.2 3.2l-0.4 0.8l0 2.4l0.7 1.8l-1.5 2l0 2.5l-1 1.7l-2.5 0l-1.7 0.8l-3.3 4l-1.3 -0.5l0 -2.5l-1.4 -2l1.2 -3l-0.2 -2.2l-1 -1.6l0.4 -1l-0.2 -3.4l0.8 -1.3l0.2 -3.5l-1 -2.5l0.8 -1.5l0 -1.8l-0.8 -1.7l0.8 -2l-0.3 -3.3l0.5 -1l0 -2l-0.5 -1.2l-1.5 -1.5l-1.2 -0.5l-3.3 0.5l-1.3 1.3l-1.2 4.4l0.2 3l-0.7 1.3l0 2.3l0.7 1.4l-0.7 1.6l0 1.4l1 2l0 1l-1 3l0.3 3.6l-0.8 2l1 2.7l-0.8 6.5l-2.2 0l-1 -1.5l-1.8 -1l-2 0l-1.7 1l-1 -2l0.5 -2.7l-0.8 -2l-1.7 -1.6l-2.7 -0.2l-1.3 0.5l-2 2.5l-0.5 4.8l0.8 1.7l-2.6 0l-1.4 0.7l-2.3 -0.2l-1.7 0.8l-1.8 2l-1 -1.8l-1.8 -1.2l-3.2 -0.3l0.2 -1.7l-1.2 -2.8l0 -1l1.2 -2.5l-0.4 -3l-4 -4l-1.3 -0.5l-3.3 0.5l-1.2 1.3l-0.8 1.7l0 1.5l0.6 1.5l1.2 1.3l-1 2.7l0 2.3l0.5 1l-1 2l0 1.7l1.7 3l-0.4 4.7l0.4 1.3l1.6 1.3l0 13l1.2 2.2l-0.2 2.2l0.4 1.8l2.8 3.5l4.2 1.3l2.6 -1.3l3 -0.5l2.2 0.2l1.5 -0.4l1.7 -2l2 0l2.3 -0.8l2.3 -2.2l3 2.2l0.4 2.8l2 1.7l0.3 1l2.7 3l1.3 0.5l2.3 0l1.2 -0.5l1.5 -1.5l1.7 -3.2l3.8 1.4l2.5 -0.4l1.5 -1.6l0.5 -2l1 -1l0.7 -2l2.3 1.3l3 -0.5l1.7 -2l0.6 -2.8l1 0.6l2 -0.3l1.4 2.5l0.6 2l1.7 1.5l3 0.3l2.5 -1.8l1 -3.8l0.5 -6.4l-0.5 -2.6l0 -8.2l0.5 -1.8l-0.5 -2.7l-2.2 -2.5l-0.3 -2.8l-0.7 -1l0.4 -3.4l-0.7 -1.6l1 -1.4l0 -2.3l-1.3 -2.3l0.6 -1.7l-0.3 -1.7l1.3 -2l-0.6 -5.6l-1.7 -2.4l1 -1.6l1 -3l0 -2.2l-1 -1.5l0.7 -2l-0.2 -1.7zM878.5 1369.2l-2 1l-1.3 1.8l0 3l2 2.2l3 0.6l2.8 -1.8l0.5 -1.2l0 -2.6l-2 -2.4zM884 1362.2l-2.5 2l-0.5 3l1.8 2.8l2 0.8l2 -0.3l2.4 -2.3l0.3 -3l-2 -2.4l-1 -0.6zM870.5 1362.5l-2.3 2.7l0.3 3l2.5 2.3l1.8 0.3l2.2 -0.8l1.8 -2.8l-0.6 -3l-2.7 -2zM787.5 1362.5l-2.3 2.7l0.3 3l2.5 2.3l1.8 0.3l2.2 -0.8l1.2 -1.5l0.6 -1.5l-0.8 -3l-2.5 -1.8zM821.2 1353.2l-2.4 1.8l-0.8 2l0.2 2l1.6 2l3.2 0.8l2.8 -1.6l0.7 -1.4l0 -2.6l-2.3 -2.7zM768.2 1353.2l-2.4 1.8l-0.8 2l0.2 2l1.6 2l3.2 0.8l2.8 -1.6l0.7 -1.4l0 -2.6l-2.3 -2.7zM875 1349.2l-2.5 2l-0.5 3l1.8 2.8l2 0.8l2 -0.3l2.4 -2.3l0.3 -3l-2 -2.4l-1 -0.6zM3486.2 1349.2l-1.2 -0.4l-2.8 0l-1.4 0.7l-2.6 -1.5l-3 0.5l-1.7 1.7l-1.5 3.3l0 1l-0.8 0.7l-0.4 3l0.7 1.6l-1.5 1.7l-3 0.3l-1.8 -1l-1.7 0l-1.3 0.4l-1.4 1.6l-0.8 2l-3.8 0l-1.2 0.4l-1.8 2.3l0 2.7l-3.2 1.3l-2.8 4l-0.2 1l-1.8 1.3l-0.7 -1.8l-2 -1.5l-2.5 -0.3l-2.5 1.6l-0.7 1.4l-0.3 2l0.5 8.8l-0.2 2.8l0.7 1.7l0.7 4.3l1.3 1.7l0.3 3l1.7 2l3.3 0.5l3 -2.2l5.7 0l2 -1.3l1.3 0.3l1 1l0.2 1l2.5 2l3 -0.3l2 -1.7l0.5 -1.3l-0.2 -2l1 -1.7l0 -3.8l1.2 -1.8l0.2 -2.2l2 -2.5l1.3 -1l1.7 -0.5l1.6 -1.5l0.4 -1l0 -2.7l3.3 -3.3l0.5 -2.3l1 -1.7l0.5 -3l1 -1.5l2.7 -2.2l2.3 -1l1.7 -2.3l0 -11.5l-0.4 -1.2zM773.5 1347.2l-0.3 3.3l0.8 1.5l1.8 1.2l2.4 0.3l2.6 -1.5l1 3l1.2 1.2l1.5 0.6l1.5 0l1.8 -0.8l1.4 -2l0.3 -2.5l-0.5 -1.3l-2 -1.7l-2.8 -0.3l-2.2 1.6l-1.2 -3.3l-2.3 -1.5l-3 0.2zM919.5 1344l-2 0l-1.3 0.5l-2 2.5l0 2l-1.4 1l-1.6 2l0 3l0.8 1.2l1.8 1.3l2 0.3l2 -0.8l1.7 -2.2l0 -2.3l2 -1.3l1 -1.4l0 -3l-1 -1.6zM862.5 1344l-1.5 0.5l-1.2 1.3l-0.8 1.7l0 1.5l0.5 1.5l1.5 1.5l3.2 0.5l1.3 -0.5l1.5 -1.5l0.5 -1.3l0 -2l-0.5 -1.2l-1.5 -1.5zM822 1346l-2 -1.8l-2.5 -0.2l-1.7 0.8l-1 1l-0.8 2l-2.2 -0.8l-2 0.2l-2.3 1.8l-0.5 1.5l0.2 2.5l1.8 2l1 0.5l2.2 0l1.3 -0.5l1.5 -1.5l0.8 -1.7l1.7 0.7l2.5 -0.3l2 -1.7l0.5 -1l0 -2.5zM852.5 1343l-1.7 0.8l-1 1l-0.8 3l0.8 2l1 1l1.4 0.7l2.3 0l2.3 -1.5l0.7 -1.5l0 -2.5l-2 -2.5zM759.8 1342.2l-2 1.6l-0.8 3.2l0.5 1.5l1.5 1.5l1 0.5l2.5 0l1.5 -0.7l1.2 -1.6l0.3 -3l-1.7 -2.4l-2 -0.8zM735.5 1341.5l-2 2l-0.3 3.3l2.3 2.4l2 0.6l1.3 -0.3l2.2 -1.7l0.8 -2l-0.3 -1.8l-1 -1.8l-1.7 -1zM825.8 1338l-2 0.8l-1.8 2.2l0 2.5l2.2 2.7l3 0.3l2.6 -1.7l0.7 -3l-1.5 -2.8l-1.2 -0.8zM803 1337.2l-1.8 1l-1.2 3l0.2 1.6l2.3 2.4l3.3 0.3l2.2 -1.7l0.5 -1l0 -2.6l-1.7 -2.4l-2.3 -0.8zM791.2 1334.5l-1.7 2l-0.3 3l2 2.5l1.8 0.8l-1 1.4l0 2.6l2.2 2.4l2 0.6l1.3 -0.3l1.7 -1l1.3 -2.7l-0.3 -1.8l-1 -1.8l-2.4 -1.2l1 -2l-0.3 -2.2l-0.5 -1l-2 -1.6l-2.2 -0.2zM779.8 1334.2l-2 1.8l-0.6 1l0 2.5l0.8 1.5l1.5 1.2l3.7 0l2.3 -2.4l0 -3l-2 -2.3l-1.3 -0.5zM828.8 1329l-2 0.8l-1 1l-0.8 1.7l0 1.7l0.5 1.3l1.7 1.7l3 0.3l2.8 -2l0.5 -3l-0.7 -1.7l-1 -1zM755.8 1329.2l-2 1.6l-0.8 1.7l0 1.5l0.5 1.5l1.5 1.5l1 0.5l2.5 0l2.5 -2l0.5 -1l0 -2.3l-1.7 -2.4l-2 -0.8zM743.5 1327.5l-2.3 2.7l0.3 3l2.5 2.3l1.8 0.3l2.2 -0.8l1.2 -1.5l0.6 -1.5l-0.8 -3l-2.5 -1.8zM726.8 1321.2l-2 1.8l-0.6 1l0 2.5l0.8 1.5l1.5 1.2l3.7 0l2.3 -2.4l0 -3l-2 -2.3l-1.3 -0.5zM740 1319l-2.5 2l-0.5 1l0 2.2l1.8 2.6l2 0.7l2 -0.3l2 -1.4l0.7 -1.8l0 -1.8l-0.5 -1.2l-2 -1.8zM805 1319.5l-0.8 1.5l0 2.5l0.8 1.5l1.2 1l2.8 0.5l2 -1l0.8 3l1.4 1.5l1.3 0.5l2.7 -0.3l2 -1.7l0.6 -3l-0.8 -1.7l-1.8 -1.6l-2.7 -0.2l-1.7 1l-0.3 -2l-0.7 -1.5l-2.6 -1.5l-2.4 0.2zM855.2 1313.2l-2.7 2.3l-0.3 3.3l0.8 1.4l1.2 1l3 0.6l2.8 -1.8l0.8 -3l-0.8 -2l-1.8 -1.5zM772.2 1309.2l-1.7 1l-1 1.3l-0.3 3.3l1.3 2l1.3 0.7l2.2 0.3l2.8 -1.6l1 -2.7l-1 -2.7l-1.6 -1.3zM764.5 1302.2l-1.7 1.8l-0.6 1.2l0 2l0.8 1.6l1 1l2 0.7l3 -0.7l1.8 -2.8l-0.6 -3l-1 -1.2l-1.7 -0.8zM730.2 1302.2l-1.7 1.8l-0.5 1.2l0 2l0.8 1.6l1 1l2 0.7l3 -0.7l1.7 -2.8l-0.5 -3l-1 -1.2l-1.8 -0.8zM748.5 1299l-1.7 0.8l-1.3 1.2l-0.5 3.2l0.5 1.3l1.5 1.5l1.2 0.5l2 0l1.3 -0.5l1.5 -1.5l0.5 -3l-0.5 -1.5l-1.5 -1.5zM722.5 1297.5l-2 2l-0.3 3.3l2.3 2.4l2 0.6l1.3 -0.3l2.2 -1.7l0.8 -2l-0.3 -1.8l-1 -1.8l-1.7 -1zM799.5 1290l-1.7 0.8l-1 1l-0.8 3l0.8 2l1 1l1.4 0.7l2.3 0l2.3 -1.5l0.7 -1.5l0 -2.5l-2 -2.5zM860 1280l-2 0.8l-1 1l-0.8 1.4l0 2.3l2.3 2.7l3 0.3l2.7 -2l0.6 -2.7l-1.6 -2.8l-1.2 -0.8zM752 1249.2l-2.5 2.3l-0.3 3l2.3 2.7l3.3 0.3l1.4 -0.7l1 -1.3l0.6 -3l-1 -2l-1.8 -1.3zM717.5 1243.5l-2 2l0 3.7l2.3 2.3l2 0.3l1.7 -0.6l2 -2.2l0.3 -2l-0.8 -2l-2.5 -1.8zM714.5 1214.2l-1.3 0.6l-1.4 1.4l-0.6 1l0 2.8l2.3 2.5l3 0.3l2.5 -1.8l0.8 -2.2l-0.3 -1.8l-2 -2.2zM701 1210l-2 0.8l-1.8 2.2l0 2.5l2.3 2.7l3 0.3l2.5 -1.7l0.8 -3l-1.6 -2.8l-1.2 -0.8zM704.5 1200.5l-2 2l0 3.7l1.3 1.6l2.7 1l2.7 -1l1 -1.3l0.6 -1.7l-1 -3.3l-2 -1.3zM709.5 1190l-1.5 0.5l-1.5 1.5l-0.5 3.2l2 2.8l3 0.5l1.8 -0.7l1 -1l0.7 -1.8l0 -1.5l-0.5 -1.5l-1.2 -1.2l-1.6 -0.8zM3512.8 1161l-3.3 1l-3.5 4l-0.2 5.8l0.4 1l0 2l-1 2.2l0 7.5l-1.4 3l0.2 2.7l-0.5 0.8l0 2.2l0.5 1.3l-0.8 1.7l0.3 1.3l-1 1.5l-0.5 2.5l0 2.3l0.5 1l-0.7 1.4l0.2 3.3l-1.5 3.3l0 2.2l0.5 1l0 7.8l-0.5 2l-1.3 1.7l0.6 3.7l-1.8 3.3l0.5 6l-0.7 2l0.2 2.3l-0.5 1l0.5 2.7l-0.5 2l0.3 3.5l-2.3 5.2l0.3 3.8l-1 2.5l0.2 1.7l1.5 2l0.5 2.6l1.5 1.4l1.3 0.6l3 0l2.4 -1.8l0.8 -2l-0.5 -3.2l1.5 -1.8l0.2 -1.2l-0.2 -1.8l-0.8 -1l1.3 -1.8l0.3 -3.4l-1 -2.3l1.4 -3.7l-0.2 -3.8l1.5 -2.5l0 -1.7l-1 -1.8l0 -1.2l0.7 -1.6l0 -3.2l0.8 -1.2l0.5 -2.8l0 -2.5l-0.5 -1l1.2 -2.5l-0.4 -2.8l1 -1.4l0 -1.6l0.7 -1.2l0 -2.2l-0.7 -1.6l1.2 -3.4l-0.5 -2.6l1.5 -3.2l0 -1.8l-0.5 -1l1.3 -2l0 -2.2l-0.8 -1.2l-0.2 -1.8l1.4 -2.2l0 -2.3l-0.4 -0.7l0.2 -3.3l0.8 -1.3l-0.6 -4.2l1.6 -1.8l0.2 -1.4l-0.8 -2l1 -0.8l0.8 -1.5l0 -2.5l-0.8 -1.2l-0.7 -4.8l-2 -2.5zM696.5 1153.2l-1.5 0.6l-1.5 1.4l-0.5 3.3l0.5 1.3l1.5 1.4l3.2 0.6l1.3 -0.6l1.5 -1.4l0.5 -3l-0.5 -1.6l-1.5 -1.4zM691.2 1141.2l-2.4 2l-0.6 1l0 2.3l2 2.7l3 0.6l1.8 -0.8l1 -1l0.8 -1.8l0 -1.7l-0.6 -1.3l-2 -1.7zM652 891.2l-2.5 2l-0.5 1.3l0 2l1 1.7l1.8 1.3l3 0l2.2 -2l0.5 -1l0 -2l-1.7 -2.7l-1.3 -0.6zM646.8 870l-1 0.5l-1.6 2l0 3l2.3 2.5l3 0.2l2.5 -2l0.5 -1l0 -2.4l-0.5 -1l-2.2 -1.8zM621.2 866.2l-2.4 2l-0.6 1.3l0 2l1.8 2.5l2 0.8l2 -0.3l2.5 -2.3l0.3 -2.7l-0.6 -1.3l-1.4 -1.4l-1.3 -0.6zM645.5 852.5l-1.5 -0.5l-2.8 0.5l-2 2.3l0 2.2l-2.7 0.5l-1.5 1.3l-0.8 1.4l0 2.6l1.3 2l2.5 1l2.5 -0.6l1.3 -1l0.7 -1.4l0 -2l2.7 -0.6l1.8 -1.4l0.5 -1l0 -2.8zM625 838.8l-1.2 1.2l-0.6 1.2l0 2.3l0.6 1l2.4 2l2.3 0.3l-0.3 2.7l0.6 1.3l1.2 1.2l2 0.8l3 -0.8l1 -1l0.8 -1.8l-0.6 -3l-2 -1.7l-3 -0.5l0.6 -2.5l-0.8 -1.7l-1 -1l-2 -0.8zM614.5 832.5l-1.3 0.7l-0.7 1.3l-0.3 3.3l1 1.7l1.3 0.7l2 0.6l1.3 -0.3l1.7 -1l1 -1.7l0.3 -1.3l-0.6 -2l-0.7 -1.3l-1.7 -1zM658 829.8l-2 0.7l-1 1l-0.8 1.5l0 2.2l2.3 2.8l3 0.2l2.7 -2l0.6 -3l-0.8 -1.7l-1 -1zM610.2 808.2l-2.7 2.3l-0.3 3.3l0.8 1.4l1.2 1l3 0.6l2.8 -1.8l0.8 -3l-0.8 -2l-1.8 -1.5zM595.2 795.5l0 3.7l2 2l3 0.3l1.3 -0.5l1.7 2l1.3 0.5l2.7 -0.3l2 -1.7l0.6 -1.5l-0.3 -2.2l-0.5 -1l-2 -1.6l-2.5 -0.2l-1.5 0.5l-1.8 -2l-2.4 -0.5l-2 0.8zM569 788.2l-1.5 0.8l-1 1.2l-0.5 3l1.5 2.6l2.7 1l2.6 -0.8l1.2 -1.5l0.5 -3l-1.7 -2.7l-1.3 -0.6zM578 779.8l0.2 2l1.6 2l1.2 0.7l2.5 0l2.5 -2l0.8 -3.3l1.7 0.3l1.5 -0.5l0.8 2.8l2.4 1.7l2.6 0l1 -0.5l1.2 -1.2l0.8 -2.6l-1.3 -3l-2.7 -1.2l-2 0.5l-0.6 -2l-1.2 -1.7l-1.8 -0.8l-2.2 0l-2.5 2l-0.7 3.2l-2 -0.2l-2 0.8l-1 1zM574.8 758.2l-2.6 2.8l0 2.8l2.3 2.4l3.7 0l2.3 -2.4l0 -3l-2 -2.3l-1.7 -0.5zM563.5 751l-1.7 0.8l-1 1l-0.8 2.2l0.2 1.8l1.6 2l1.7 0.7l1.7 0l2.6 -1.5l0.7 -1.5l0 -2.5l-2 -2.5zM557.2 739.2l-2.7 2.3l-0.3 3l1.6 2.3l1.2 0.7l1.8 0.3l2.7 -1.3l0.7 -1l0.6 -2.5l-1.3 -2.8l-1.7 -1zM531.5 684.2l-1.3 0.6l-1.7 1.7l-0.3 3.3l0.8 1.4l1.2 1l3 0.6l2.3 -1.3l1 -1.5l0 -3l-2 -2.2l-1 -0.6zM538.8 666l-2 0.8l-1.3 1.2l-0.5 3.2l0.5 1.3l1.5 1.5l1 0.5l2.2 0l1.3 -0.5l1.5 -1.5l0.5 -3l-0.5 -1.5l-1.2 -1.2l-1.8 -0.8zM524.5 642.5l-2 2l0 3.7l2.5 2.3l3 0l1.2 -0.7l1.3 -1.8l0 -3.2l-1.3 -1.8l-1.4 -0.8zM518.8 600.2l-1.6 0.6l-1.2 1.2l-0.8 3l0.8 2l1.2 1.2l3 0.6l1.6 -0.6l1.4 -1.4l0.6 -1.3l0 -2.3l-2 -2.4zM511.2 571.2l-1.2 0.6l-1.5 1.4l-0.5 3l0.8 1.8l1 1l1.7 0.8l1.5 0l1.5 -0.6l1.5 -1.4l0.5 -1.3l0 -2.3l-2 -2.4l-1 -0.6zM508.8 554.2l-1.3 -1l-2.5 -0.4l-2 0.7l-1.8 2.5l-1.4 -0.8l-3.3 0.3l-2.3 2.3l-0.2 2.2l0.5 1.5l2.3 2l1.7 0.3l2.3 -0.8l2 -2.8l1.4 1l3 -0.2l2 -1.8l0.6 -1.7zM489.5 519.5l-2.3 2.7l0.3 3l2.5 2.3l1.8 0.3l2.2 -0.8l1.2 -1.5l0.6 -1.5l-0.8 -3l-2.5 -1.8zM483.5 509l-2 1l-1.3 1.8l0 3l2.3 2.4l3 0.3l2.5 -1.7l0.5 -1l0 -2.8l-2 -2.5zM477 486l-2 0.8l-1.2 1.2l-0.6 1.2l0 2.3l2 2.5l1 0.5l2.3 0l2.7 -2l0.6 -3l-0.8 -1.7l-1 -1zM467.5 453.5l-2 2l0 3.7l2.5 2.3l1.8 0.3l2.2 -0.8l1.2 -1.5l0.6 -1.5l-0.3 -2.2l-1.3 -1.8l-1 -0.5zM378.8 430l-1.6 0.5l-1.4 1.5l-0.6 3l0.6 1.5l1.4 1.5l3.3 0.5l1.3 -0.5l1.4 -1.5l0.6 -3l-0.6 -1.5l-1.4 -1.5zM453 427.2l-2.8 2.6l-0.2 2.2l1.5 2.8l1.3 0.7l3 0l2.4 -2.3l0.3 -3l-1.7 -2.4l-1 -0.6zM461 419.2l-1.2 0.8l-1.3 1.8l0 3.2l1.7 2l1 0.5l2.8 0l2.5 -2.3l0 -3.7l-2.5 -2.3zM442.5 408l-1.5 -2l-2.2 -0.8l-2.8 0.8l-2 2.8l-2.8 -1.8l-2.4 0.2l-2 1.8l-0.6 1l0 2.5l0.8 1.5l2.2 1.5l3 -0.3l1.8 -1.4l0.8 -2l1.7 1.7l3 0.3l2.5 -1.8l0.8 -1.8zM445.8 394.2l-1.6 0.6l-1.4 1.4l-0.6 3.3l2 2.7l3 0.6l1.8 -0.8l1 -1l0.8 -1.8l0 -1.4l-0.6 -1.6l-1.2 -1.2l-1.5 -0.8zM387 383.2l-1 0.6l-1.8 2l-0.2 2.2l1.5 2.8l1.3 0.7l3 0l2.4 -2.3l0.3 -3l-1.7 -2.4l-1 -0.6zM420.5 360.5l-1.5 1.3l-0.8 1.4l0 2.6l0.8 1.4l1.8 1.3l1.2 0.3l2.5 -0.6l1.3 -1l1 -2.7l-0.6 -2l-2 -2z" fill="#00f" fill-rule="evenodd"/></g>
<path d="M446.17 1992.0V288.0M518.97 1992.0V288.0M582.04 1992.0V288.0M637.67 1992.0V288.0M1014.80 1992.0V288.0M1206.30 1992.0V288.0M1342.17 1992.0V288.0M1447.56 1992.0V288.0M1533.67 1992.0V288.0M1606.47 1992.0V288.0M1669.54 1992.0V288.0M1725.17 1992.0V288.0M2102.30 1992.0V288.0M2293.80 1992.0V288.0M2429.67 1992.0V288.0M2535.06 1992.0V288.0M2621.17 1992.0V288.0M2693.97 1992.0V288.0M2757.04 1992.0V288.0M2812.67 1992.0V288.0M3189.80 1992.0V288.0M3381.30 1992.0V288.0M3517.17 1992.0V288.0M360.0 1951.36H3528.0M360.0 1919.81H3528.0M360.0 1895.34H3528.0M360.0 1875.34H3528.0M360.0 1858.44H3528.0M360.0 1843.79H3528.0M360.0 1830.87H3528.0M360.0 1743.30H3528.0M360.0 1698.84H3528.0M360.0 1667.29H3528.0M360.0 1642.82H3528.0M360.0 1622.82H3528.0M360.0 1605.92H3528.0M360.0 1591.27H3528.0M360.0 1578.35H3528.0M360.0 1490.78H3528.0M360.0 1446.32H3528.0M360.0 1414.77H3528.0M360.0 1390.30H3528.0M360.0 1370.30H3528.0M360.0 1353.40H3528.0M360.0 1338.75H3528.0M360.0 1325.83H3528.0M360.0 1238.26H3528.0M360.0 1193.80H3528.0M360.0 1162.25H3528.0M360.0 1137.78H3528.0M360.0 1117.78H3528.0M360.0 1100.88H3528.0M360.0 1086.23H3528.0M360.0 1073.31H3528.0M360.0 985.74H3528.0M360.0 941.28H3528.0M360.0 909.73H3528.0M360.0 885.26H3528.0M360.0 865.26H3528.0M360.0 848.36H3528.0M360.0 833.71H3528.0M360.0 820.79H3528.0M360.0 733.22H3528.0M360.0 688.76H3528.0M360.0 657.21H3528.0M360.0 632.74H3528.0M360.0 612.74H3528.0M360.0 595.84H3528.0M360.0 581.19H3528.0M360.0 568.27H3528.0M360.0 480.70H3528.0M360.0 436.24H3528.0M360.0 404.69H3528.0M360.0 380.22H3528.0M360.0 360.22H3528.0M360.0 343.32H3528.0M360.0 328.67H3528.0M360.0 315.75H3528.0" stroke="#808080" stroke-width="1.4" stroke-dasharray="1.4 2.3" fill="none"/>
<path d="M687.43 1992.0V288.0M1774.93 1992.0V288.0M2862.43 1992.0V288.0M360.0 304.20H3528.0M360.0 556.72H3528.0M360.0 809.24H3528.0M360.0 1061.76H3528.0M360.0 1314.28H3528.0M360.0 1566.80H3528.0M360.0 1819.32H3528.0" stroke="#000" stroke-width="2.8" stroke-dasharray="2.8 4.57" fill="none"/>
<rect x="360.0" y="288.0" width="3168.0" height="1704.0" fill="none" stroke="#808080" stroke-width="2"/>
<path d="M360.00 1992.0v6M446.17 1992.0v6M518.97 1992.0v6M582.04 1992.0v6M637.67 1992.0v6M1014.80 1992.0v6M1206.30 1992.0v6M1342.17 1992.0v6M1447.56 1992.0v6M1533.67 1992.0v6M1606.47 1992.0v6M1669.54 1992.0v6M1725.17 1992.0v6M2102.30 1992.0v6M2293.80 1992.0v6M2429.67 1992.0v6M2535.06 1992.0v6M2621.17 1992.0v6M2693.97 1992.0v6M2757.04 1992.0v6M2812.67 1992.0v6M3189.80 1992.0v6M3381.30 1992.0v6M3517.17 1992.0v6M360.0 1951.36h-6M360.0 1919.81h-6M360.0 1895.34h-6M360.0 1875.34h-6M360.0 1858.44h-6M360.0 1843.79h-6M360.0 1830.87h-6M360.0 1743.30h-6M360.0 1698.84h-6M360.0 1667.29h-6M360.0 1642.82h-6M360.0 1622.82h-6M360.0 1605.92h-6M360.0 1591.27h-6M360.0 1578.35h-6M360.0 1490.78h-6M360.0 1446.32h-6M360.0 1414.77h-6M360.0 1390.30h-6M360.0 1370.30h-6M360.0 1353.40h-6M360.0 1338.75h-6M360.0 1325.83h-6M360.0 1238.26h-6M360.0 1193.80h-6M360.0 1162.25h-6M360.0 1137.78h-6M360.0 1117.78h-6M360.0 1100.88h-6M360.0 1086.23h-6M360.0 1073.31h-6M360.0 985.74h-6M360.0 941.28h-6M360.0 909.73h-6M360.0 885.26h-6M360.0 865.26h-6M360.0 848.36h-6M360.0 833.71h-6M360.0 820.79h-6M360.0 733.22h-6M360.0 688.76h-6M360.0 657.21h-6M360.0 632.74h-6M360.0 612.74h-6M360.0 595.84h-6M360.0 581.19h-6M360.0 568.27h-6M360.0 480.70h-6M360.0 436.24h-6M360.0 404.69h-6M360.0 380.22h-6M360.0 360.22h-6M360.0 343.32h-6M360.0 328.67h-6M360.0 315.75h-6" stroke="#000" stroke-width="1.6" fill="none"/>
<path d="M687.43 1992.0v10M1774.93 1992.0v10M2862.43 1992.0v10M360.0 304.20h-10M360.0 556.72h-10M360.0 809.24h-10M360.0 1061.76h-10M360.0 1314.28h-10M360.0 1566.80h-10M360.0 1819.32h-10" stroke="#000" stroke-width="2" fill="none"/>
<text transform="translate(652.13,2060.70) scale(0.9336,1)" font-size="70.98">10</text>
<text transform="translate(1719.92,2061.00) scale(0.9501,1)" font-size="71.27">100</text>
<text transform="translate(2788.90,2060.80) scale(0.9601,1)" font-size="70.84">1000</text>
<text transform="translate(182.92,330.70) scale(0.9345,1)" font-size="71.13">10</text>
<text transform="translate(257.87,311.25) scale(0.9345,1)" font-size="52.07">−</text>
<text transform="translate(288.45,305.70) scale(0.9094,1)" font-size="52.07">16</text>
<text transform="translate(182.92,583.22) scale(0.9345,1)" font-size="71.13">10</text>
<text transform="translate(257.87,563.77) scale(0.9345,1)" font-size="52.07">−</text>
<text transform="translate(288.42,558.22) scale(0.9163,1)" font-size="52.07">17</text>
<text transform="translate(182.92,835.74) scale(0.9345,1)" font-size="71.13">10</text>
<text transform="translate(257.87,816.29) scale(0.9345,1)" font-size="52.07">−</text>
<text transform="translate(288.45,810.74) scale(0.9094,1)" font-size="52.07">18</text>
<text transform="translate(182.92,1088.26) scale(0.9345,1)" font-size="71.13">10</text>
<text transform="translate(257.87,1068.81) scale(0.9345,1)" font-size="52.07">−</text>
<text transform="translate(288.44,1063.26) scale(0.9117,1)" font-size="52.07">19</text>
<text transform="translate(182.92,1340.78) scale(0.9345,1)" font-size="71.13">10</text>
<text transform="translate(257.87,1321.33) scale(0.9345,1)" font-size="52.07">−</text>
<text transform="translate(286.35,1315.78) scale(0.9428,1)" font-size="52.07">20</text>
<text transform="translate(190.92,1593.30) scale(0.9345,1)" font-size="71.13">10</text>
<text transform="translate(265.87,1573.85) scale(0.9345,1)" font-size="52.07">−</text>
<text transform="translate(294.73,1568.30) scale(0.7966,1)" font-size="52.07">21</text>
<text transform="translate(182.92,1845.82) scale(0.9345,1)" font-size="71.13">10</text>
<text transform="translate(257.87,1826.37) scale(0.9345,1)" font-size="52.07">−</text>
<text transform="translate(286.31,1820.82) scale(0.9545,1)" font-size="52.07">22</text>
<text transform="translate(1714.00,2140.10) scale(0.9359,1)" font-size="72.58">Frequency [Hz]</text>
<g transform="rotate(-90)"><text transform="translate(-1456.98,114.90) scale(0.8980,1)" font-size="75.27">Coupling [m / Counts]</text></g>
<text transform="translate(683.54,85.90) scale(0.9446,1)" font-size="73.96">H1:PEM-EX MAG EBAY SUSRACK (Quadrature sum of X, Y, and Z components)</text>
<text transform="translate(1489.14,163.10) scale(0.9417,1)" font-size="73.55">Composite Coupling Function</text>
<text transform="translate(1238.69,239.70) scale(0.9690,1)" font-size="71.17">(based on loudest injection at each frequency)</text>
<text transform="translate(3106.55,2150.60) scale(0.9235,1)" font-size="53.09">Bin width: 0.100 Hz</text>
<rect x="2140.4" y="288.0" width="1387.6" height="236.1" fill="#fff" fill-opacity="0.5" stroke="#808080" stroke-opacity="0.5" stroke-width="2.8"/>
<rect x="2159" y="310.2" width="53" height="37.6" fill="#f00"/>
<rect x="2159" y="383.1" width="53" height="37.8" fill="#00f"/>
<rect x="2159" y="457.1" width="53" height="37.7" fill="#0ff"/>
<text transform="translate(2249.88,344.70) scale(0.9179,1)" font-size="53.09">Measured Value (Signal seen in both sensor and DARM)</text>
<text transform="translate(2249.82,418.70) scale(0.9152,1)" font-size="53.24">Upper Limit (Signal seen in sensor but not DARM)</text>
<text transform="translate(2250.11,492.50) scale(0.9212,1)" font-size="52.80">Thresholds Not Met (Signal not seen in sensor nor DARM)</text>
</g>
</svg></body></html>
